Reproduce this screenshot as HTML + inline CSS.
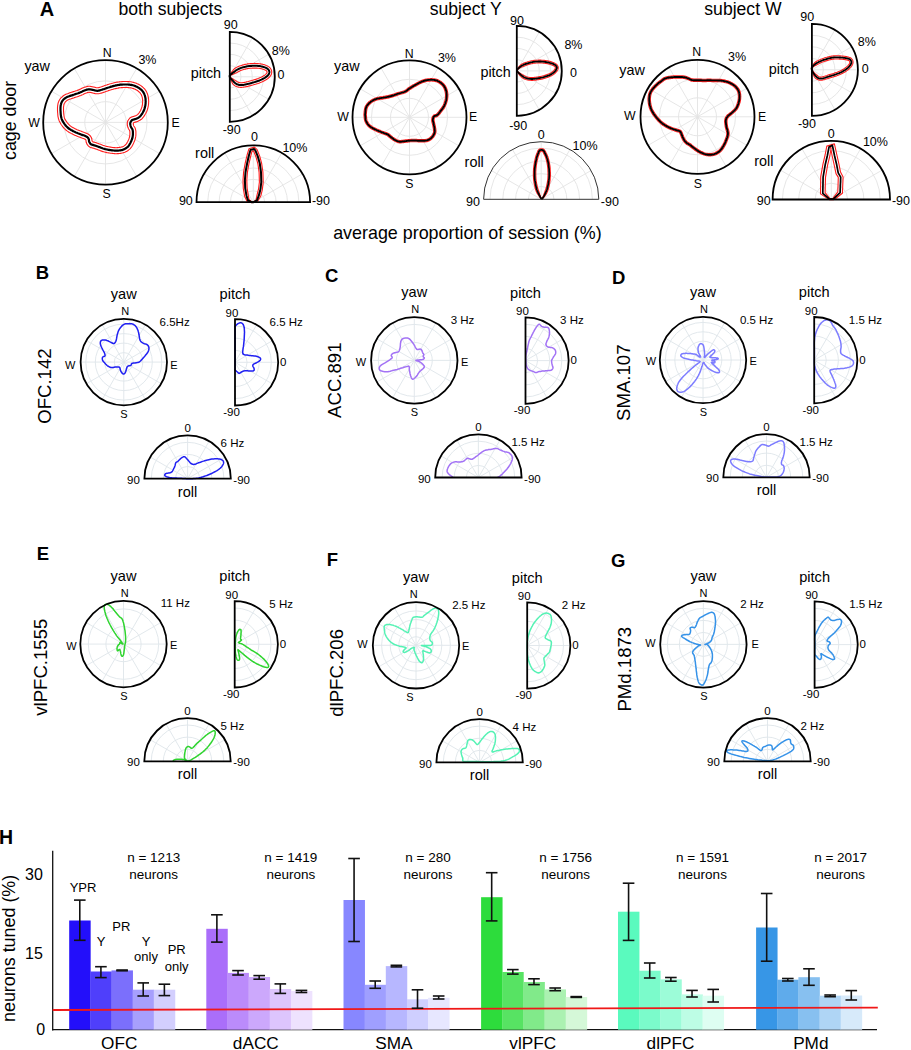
<!DOCTYPE html>
<html><head><meta charset="utf-8"><style>
html,body{margin:0;padding:0;background:#fff;width:911px;height:1050px;overflow:hidden}
svg{display:block;font-family:"Liberation Sans", sans-serif}
</style></head><body>
<svg width="911" height="1050" viewBox="0 0 911 1050">
<rect width="911" height="1050" fill="#fff"/>
<text x="39.8" y="15.6" font-size="20" text-anchor="start" font-weight="bold" fill="#000">A</text>
<text x="118.5" y="15.0" font-size="17.6" text-anchor="start" font-weight="normal" fill="#000">both subjects</text>
<text x="429.7" y="14.8" font-size="17.6" text-anchor="start" font-weight="normal" fill="#000">subject Y</text>
<text x="704.3" y="14.8" font-size="17.6" text-anchor="start" font-weight="normal" fill="#000">subject W</text>
<text x="16.0" y="120.4" font-size="17.8" text-anchor="middle" font-weight="normal" fill="#000" transform="rotate(-90 16 120.4)">cage door</text>
<text x="467.4" y="239.0" font-size="17.9" text-anchor="middle" font-weight="normal" fill="#000">average proportion of session (%)</text>
<circle cx="105.5" cy="122.4" r="20.77" fill="none" stroke="#e3e3e3" stroke-width="0.9"/>
<circle cx="105.5" cy="122.4" r="41.53" fill="none" stroke="#e3e3e3" stroke-width="0.9"/>
<line x1="105.50" y1="122.40" x2="167.80" y2="122.40" stroke="#e3e3e3" stroke-width="0.9"/>
<line x1="105.50" y1="122.40" x2="159.45" y2="153.55" stroke="#e3e3e3" stroke-width="0.9"/>
<line x1="105.50" y1="122.40" x2="136.65" y2="176.35" stroke="#e3e3e3" stroke-width="0.9"/>
<line x1="105.50" y1="122.40" x2="105.50" y2="184.70" stroke="#e3e3e3" stroke-width="0.9"/>
<line x1="105.50" y1="122.40" x2="74.35" y2="176.35" stroke="#e3e3e3" stroke-width="0.9"/>
<line x1="105.50" y1="122.40" x2="51.55" y2="153.55" stroke="#e3e3e3" stroke-width="0.9"/>
<line x1="105.50" y1="122.40" x2="43.20" y2="122.40" stroke="#e3e3e3" stroke-width="0.9"/>
<line x1="105.50" y1="122.40" x2="51.55" y2="91.25" stroke="#e3e3e3" stroke-width="0.9"/>
<line x1="105.50" y1="122.40" x2="74.35" y2="68.45" stroke="#e3e3e3" stroke-width="0.9"/>
<line x1="105.50" y1="122.40" x2="105.50" y2="60.10" stroke="#e3e3e3" stroke-width="0.9"/>
<line x1="105.50" y1="122.40" x2="136.65" y2="68.45" stroke="#e3e3e3" stroke-width="0.9"/>
<line x1="105.50" y1="122.40" x2="159.45" y2="91.25" stroke="#e3e3e3" stroke-width="0.9"/>
<text x="107.1" y="56.7" font-size="12.3" text-anchor="middle" font-weight="normal" fill="#000">N</text>
<text x="106.7" y="197.8" font-size="12.3" text-anchor="middle" font-weight="normal" fill="#000">S</text>
<text x="39.8" y="127.3" font-size="12.3" text-anchor="end" font-weight="normal" fill="#000">W</text>
<text x="171.4" y="126.8" font-size="12.3" text-anchor="start" font-weight="normal" fill="#000">E</text>
<text x="138.4" y="64.1" font-size="12.5" text-anchor="start" font-weight="normal" fill="#000">3%</text>
<text x="24.4" y="71.3" font-size="14.4" text-anchor="start" font-weight="normal" fill="#000">yaw</text>
<path d="M229.80,65.55 A11.25,11.25 0 0 1 229.80,88.05" fill="none" stroke="#e3e3e3" stroke-width="0.9"/>
<path d="M229.80,54.30 A22.50,22.50 0 0 1 229.80,99.30" fill="none" stroke="#e3e3e3" stroke-width="0.9"/>
<path d="M229.80,43.05 A33.75,33.75 0 0 1 229.80,110.55" fill="none" stroke="#e3e3e3" stroke-width="0.9"/>
<line x1="229.80" y1="76.80" x2="252.30" y2="37.83" stroke="#e3e3e3" stroke-width="0.9"/>
<line x1="229.80" y1="76.80" x2="268.77" y2="54.30" stroke="#e3e3e3" stroke-width="0.9"/>
<line x1="229.80" y1="76.80" x2="274.80" y2="76.80" stroke="#e3e3e3" stroke-width="0.9"/>
<line x1="229.80" y1="76.80" x2="268.77" y2="99.30" stroke="#e3e3e3" stroke-width="0.9"/>
<line x1="229.80" y1="76.80" x2="252.30" y2="115.77" stroke="#e3e3e3" stroke-width="0.9"/>
<text x="230.7" y="29.2" font-size="12.5" text-anchor="middle" font-weight="normal" fill="#000">90</text>
<text x="231.7" y="134.0" font-size="12.5" text-anchor="middle" font-weight="normal" fill="#000">-90</text>
<text x="277.5" y="79.3" font-size="12.5" text-anchor="start" font-weight="normal" fill="#000">0</text>
<text x="271.8" y="54.5" font-size="12.5" text-anchor="start" font-weight="normal" fill="#000">8%</text>
<text x="221.1" y="78.0" font-size="14.4" text-anchor="end" font-weight="normal" fill="#000">pitch</text>
<path d="M241.90,202.20 A11.40,11.40 0 0 1 264.70,202.20" fill="none" stroke="#e3e3e3" stroke-width="0.9"/>
<path d="M230.50,202.20 A22.80,22.80 0 0 1 276.10,202.20" fill="none" stroke="#e3e3e3" stroke-width="0.9"/>
<path d="M219.10,202.20 A34.20,34.20 0 0 1 287.50,202.20" fill="none" stroke="#e3e3e3" stroke-width="0.9"/>
<path d="M207.70,202.20 A45.60,45.60 0 0 1 298.90,202.20" fill="none" stroke="#e3e3e3" stroke-width="0.9"/>
<line x1="253.30" y1="202.20" x2="204.11" y2="173.80" stroke="#e3e3e3" stroke-width="0.9"/>
<line x1="253.30" y1="202.20" x2="224.90" y2="153.01" stroke="#e3e3e3" stroke-width="0.9"/>
<line x1="253.30" y1="202.20" x2="253.30" y2="145.40" stroke="#e3e3e3" stroke-width="0.9"/>
<line x1="253.30" y1="202.20" x2="281.70" y2="153.01" stroke="#e3e3e3" stroke-width="0.9"/>
<line x1="253.30" y1="202.20" x2="302.49" y2="173.80" stroke="#e3e3e3" stroke-width="0.9"/>
<text x="254.5" y="140.7" font-size="12.5" text-anchor="middle" font-weight="normal" fill="#000">0</text>
<text x="192.8" y="205.2" font-size="12.5" text-anchor="end" font-weight="normal" fill="#000">90</text>
<text x="311.9" y="205.2" font-size="12.5" text-anchor="start" font-weight="normal" fill="#000">-90</text>
<text x="282.4" y="151.6" font-size="12.5" text-anchor="start" font-weight="normal" fill="#000">10%</text>
<text x="195.1" y="158.3" font-size="14.4" text-anchor="start" font-weight="normal" fill="#000">roll</text>
<circle cx="409.5" cy="117.3" r="19.00" fill="none" stroke="#e3e3e3" stroke-width="0.9"/>
<circle cx="409.5" cy="117.3" r="38.00" fill="none" stroke="#e3e3e3" stroke-width="0.9"/>
<line x1="409.50" y1="117.30" x2="466.50" y2="117.30" stroke="#e3e3e3" stroke-width="0.9"/>
<line x1="409.50" y1="117.30" x2="458.86" y2="145.80" stroke="#e3e3e3" stroke-width="0.9"/>
<line x1="409.50" y1="117.30" x2="438.00" y2="166.66" stroke="#e3e3e3" stroke-width="0.9"/>
<line x1="409.50" y1="117.30" x2="409.50" y2="174.30" stroke="#e3e3e3" stroke-width="0.9"/>
<line x1="409.50" y1="117.30" x2="381.00" y2="166.66" stroke="#e3e3e3" stroke-width="0.9"/>
<line x1="409.50" y1="117.30" x2="360.14" y2="145.80" stroke="#e3e3e3" stroke-width="0.9"/>
<line x1="409.50" y1="117.30" x2="352.50" y2="117.30" stroke="#e3e3e3" stroke-width="0.9"/>
<line x1="409.50" y1="117.30" x2="360.14" y2="88.80" stroke="#e3e3e3" stroke-width="0.9"/>
<line x1="409.50" y1="117.30" x2="381.00" y2="67.94" stroke="#e3e3e3" stroke-width="0.9"/>
<line x1="409.50" y1="117.30" x2="409.50" y2="60.30" stroke="#e3e3e3" stroke-width="0.9"/>
<line x1="409.50" y1="117.30" x2="438.00" y2="67.94" stroke="#e3e3e3" stroke-width="0.9"/>
<line x1="409.50" y1="117.30" x2="458.86" y2="88.80" stroke="#e3e3e3" stroke-width="0.9"/>
<text x="409.2" y="57.8" font-size="12.3" text-anchor="middle" font-weight="normal" fill="#000">N</text>
<text x="409.4" y="187.5" font-size="12.3" text-anchor="middle" font-weight="normal" fill="#000">S</text>
<text x="348.8" y="120.7" font-size="12.3" text-anchor="end" font-weight="normal" fill="#000">W</text>
<text x="469.0" y="120.8" font-size="12.3" text-anchor="start" font-weight="normal" fill="#000">E</text>
<text x="437.9" y="62.0" font-size="12.5" text-anchor="start" font-weight="normal" fill="#000">3%</text>
<text x="334.1" y="70.5" font-size="14.4" text-anchor="start" font-weight="normal" fill="#000">yaw</text>
<path d="M516.80,59.65 A11.25,11.25 0 0 1 516.80,82.15" fill="none" stroke="#e3e3e3" stroke-width="0.9"/>
<path d="M516.80,48.40 A22.50,22.50 0 0 1 516.80,93.40" fill="none" stroke="#e3e3e3" stroke-width="0.9"/>
<path d="M516.80,37.15 A33.75,33.75 0 0 1 516.80,104.65" fill="none" stroke="#e3e3e3" stroke-width="0.9"/>
<line x1="516.80" y1="70.90" x2="539.30" y2="31.93" stroke="#e3e3e3" stroke-width="0.9"/>
<line x1="516.80" y1="70.90" x2="555.77" y2="48.40" stroke="#e3e3e3" stroke-width="0.9"/>
<line x1="516.80" y1="70.90" x2="561.80" y2="70.90" stroke="#e3e3e3" stroke-width="0.9"/>
<line x1="516.80" y1="70.90" x2="555.77" y2="93.40" stroke="#e3e3e3" stroke-width="0.9"/>
<line x1="516.80" y1="70.90" x2="539.30" y2="109.87" stroke="#e3e3e3" stroke-width="0.9"/>
<text x="517.0" y="25.3" font-size="12.5" text-anchor="middle" font-weight="normal" fill="#000">90</text>
<text x="518.2" y="129.6" font-size="12.5" text-anchor="middle" font-weight="normal" fill="#000">-90</text>
<text x="570.1" y="76.5" font-size="12.5" text-anchor="start" font-weight="normal" fill="#000">0</text>
<text x="564.4" y="48.8" font-size="12.5" text-anchor="start" font-weight="normal" fill="#000">8%</text>
<text x="510.8" y="77.2" font-size="14.4" text-anchor="end" font-weight="normal" fill="#000">pitch</text>
<path d="M528.40,199.30 A12.80,12.80 0 0 1 554.00,199.30" fill="none" stroke="#e3e3e3" stroke-width="0.9"/>
<path d="M515.60,199.30 A25.60,25.60 0 0 1 566.80,199.30" fill="none" stroke="#e3e3e3" stroke-width="0.9"/>
<path d="M502.80,199.30 A38.40,38.40 0 0 1 579.60,199.30" fill="none" stroke="#e3e3e3" stroke-width="0.9"/>
<path d="M490.00,199.30 A51.20,51.20 0 0 1 592.40,199.30" fill="none" stroke="#e3e3e3" stroke-width="0.9"/>
<line x1="541.20" y1="199.30" x2="491.32" y2="170.50" stroke="#e3e3e3" stroke-width="0.9"/>
<line x1="541.20" y1="199.30" x2="512.40" y2="149.42" stroke="#e3e3e3" stroke-width="0.9"/>
<line x1="541.20" y1="199.30" x2="541.20" y2="141.70" stroke="#e3e3e3" stroke-width="0.9"/>
<line x1="541.20" y1="199.30" x2="570.00" y2="149.42" stroke="#e3e3e3" stroke-width="0.9"/>
<line x1="541.20" y1="199.30" x2="591.08" y2="170.50" stroke="#e3e3e3" stroke-width="0.9"/>
<text x="541.2" y="138.7" font-size="12.5" text-anchor="middle" font-weight="normal" fill="#000">0</text>
<text x="479.9" y="205.8" font-size="12.5" text-anchor="end" font-weight="normal" fill="#000">90</text>
<text x="600.8" y="205.8" font-size="12.5" text-anchor="start" font-weight="normal" fill="#000">-90</text>
<text x="572.6" y="149.5" font-size="12.5" text-anchor="start" font-weight="normal" fill="#000">10%</text>
<text x="464.6" y="166.6" font-size="14.4" text-anchor="start" font-weight="normal" fill="#000">roll</text>
<circle cx="697.5" cy="116.8" r="19.00" fill="none" stroke="#e3e3e3" stroke-width="0.9"/>
<circle cx="697.5" cy="116.8" r="38.00" fill="none" stroke="#e3e3e3" stroke-width="0.9"/>
<line x1="697.50" y1="116.80" x2="754.50" y2="116.80" stroke="#e3e3e3" stroke-width="0.9"/>
<line x1="697.50" y1="116.80" x2="746.86" y2="145.30" stroke="#e3e3e3" stroke-width="0.9"/>
<line x1="697.50" y1="116.80" x2="726.00" y2="166.16" stroke="#e3e3e3" stroke-width="0.9"/>
<line x1="697.50" y1="116.80" x2="697.50" y2="173.80" stroke="#e3e3e3" stroke-width="0.9"/>
<line x1="697.50" y1="116.80" x2="669.00" y2="166.16" stroke="#e3e3e3" stroke-width="0.9"/>
<line x1="697.50" y1="116.80" x2="648.14" y2="145.30" stroke="#e3e3e3" stroke-width="0.9"/>
<line x1="697.50" y1="116.80" x2="640.50" y2="116.80" stroke="#e3e3e3" stroke-width="0.9"/>
<line x1="697.50" y1="116.80" x2="648.14" y2="88.30" stroke="#e3e3e3" stroke-width="0.9"/>
<line x1="697.50" y1="116.80" x2="669.00" y2="67.44" stroke="#e3e3e3" stroke-width="0.9"/>
<line x1="697.50" y1="116.80" x2="697.50" y2="59.80" stroke="#e3e3e3" stroke-width="0.9"/>
<line x1="697.50" y1="116.80" x2="726.00" y2="67.44" stroke="#e3e3e3" stroke-width="0.9"/>
<line x1="697.50" y1="116.80" x2="746.86" y2="88.30" stroke="#e3e3e3" stroke-width="0.9"/>
<text x="696.8" y="56.2" font-size="12.3" text-anchor="middle" font-weight="normal" fill="#000">N</text>
<text x="697.8" y="187.8" font-size="12.3" text-anchor="middle" font-weight="normal" fill="#000">S</text>
<text x="635.5" y="119.9" font-size="12.3" text-anchor="end" font-weight="normal" fill="#000">W</text>
<text x="758.0" y="121.1" font-size="12.3" text-anchor="start" font-weight="normal" fill="#000">E</text>
<text x="728.0" y="60.8" font-size="12.5" text-anchor="start" font-weight="normal" fill="#000">3%</text>
<text x="619.3" y="74.9" font-size="14.4" text-anchor="start" font-weight="normal" fill="#000">yaw</text>
<path d="M811.90,58.30 A11.50,11.50 0 0 1 811.90,81.30" fill="none" stroke="#e3e3e3" stroke-width="0.9"/>
<path d="M811.90,46.80 A23.00,23.00 0 0 1 811.90,92.80" fill="none" stroke="#e3e3e3" stroke-width="0.9"/>
<path d="M811.90,35.30 A34.50,34.50 0 0 1 811.90,104.30" fill="none" stroke="#e3e3e3" stroke-width="0.9"/>
<line x1="811.90" y1="69.80" x2="834.90" y2="29.96" stroke="#e3e3e3" stroke-width="0.9"/>
<line x1="811.90" y1="69.80" x2="851.74" y2="46.80" stroke="#e3e3e3" stroke-width="0.9"/>
<line x1="811.90" y1="69.80" x2="857.90" y2="69.80" stroke="#e3e3e3" stroke-width="0.9"/>
<line x1="811.90" y1="69.80" x2="851.74" y2="92.80" stroke="#e3e3e3" stroke-width="0.9"/>
<line x1="811.90" y1="69.80" x2="834.90" y2="109.64" stroke="#e3e3e3" stroke-width="0.9"/>
<text x="807.2" y="20.9" font-size="12.5" text-anchor="middle" font-weight="normal" fill="#000">90</text>
<text x="807.0" y="127.6" font-size="12.5" text-anchor="middle" font-weight="normal" fill="#000">-90</text>
<text x="861.7" y="73.3" font-size="12.5" text-anchor="start" font-weight="normal" fill="#000">0</text>
<text x="857.8" y="46.0" font-size="12.5" text-anchor="start" font-weight="normal" fill="#000">8%</text>
<text x="799.1" y="73.9" font-size="14.4" text-anchor="end" font-weight="normal" fill="#000">pitch</text>
<path d="M815.00,199.50 A16.30,16.30 0 0 1 847.60,199.50" fill="none" stroke="#e3e3e3" stroke-width="0.9"/>
<path d="M798.70,199.50 A32.60,32.60 0 0 1 863.90,199.50" fill="none" stroke="#e3e3e3" stroke-width="0.9"/>
<path d="M782.40,199.50 A48.90,48.90 0 0 1 880.20,199.50" fill="none" stroke="#e3e3e3" stroke-width="0.9"/>
<line x1="831.30" y1="199.50" x2="780.46" y2="170.15" stroke="#e3e3e3" stroke-width="0.9"/>
<line x1="831.30" y1="199.50" x2="801.95" y2="148.66" stroke="#e3e3e3" stroke-width="0.9"/>
<line x1="831.30" y1="199.50" x2="831.30" y2="140.80" stroke="#e3e3e3" stroke-width="0.9"/>
<line x1="831.30" y1="199.50" x2="860.65" y2="148.66" stroke="#e3e3e3" stroke-width="0.9"/>
<line x1="831.30" y1="199.50" x2="882.14" y2="170.15" stroke="#e3e3e3" stroke-width="0.9"/>
<text x="831.3" y="137.9" font-size="12.5" text-anchor="middle" font-weight="normal" fill="#000">0</text>
<text x="770.7" y="204.8" font-size="12.5" text-anchor="end" font-weight="normal" fill="#000">90</text>
<text x="891.9" y="204.8" font-size="12.5" text-anchor="start" font-weight="normal" fill="#000">-90</text>
<text x="862.9" y="146.1" font-size="12.5" text-anchor="start" font-weight="normal" fill="#000">10%</text>
<text x="754.3" y="165.6" font-size="14.4" text-anchor="start" font-weight="normal" fill="#000">roll</text>
<text x="35.8" y="279.3" font-size="18.5" text-anchor="start" font-weight="bold" fill="#000">B</text>
<text x="50.8" y="386.1" font-size="18.6" text-anchor="middle" font-weight="normal" fill="#000" transform="rotate(-90 50.8 386.1)">OFC.142</text>
<circle cx="123.8" cy="362.1" r="9.50" fill="none" stroke="#dfe5ea" stroke-width="0.9"/>
<circle cx="123.8" cy="362.1" r="19.00" fill="none" stroke="#dfe5ea" stroke-width="0.9"/>
<circle cx="123.8" cy="362.1" r="28.50" fill="none" stroke="#dfe5ea" stroke-width="0.9"/>
<circle cx="123.8" cy="362.1" r="38.00" fill="none" stroke="#dfe5ea" stroke-width="0.9"/>
<line x1="123.80" y1="362.10" x2="167.00" y2="362.10" stroke="#dfe5ea" stroke-width="0.9"/>
<line x1="123.80" y1="362.10" x2="161.21" y2="383.70" stroke="#dfe5ea" stroke-width="0.9"/>
<line x1="123.80" y1="362.10" x2="145.40" y2="399.51" stroke="#dfe5ea" stroke-width="0.9"/>
<line x1="123.80" y1="362.10" x2="123.80" y2="405.30" stroke="#dfe5ea" stroke-width="0.9"/>
<line x1="123.80" y1="362.10" x2="102.20" y2="399.51" stroke="#dfe5ea" stroke-width="0.9"/>
<line x1="123.80" y1="362.10" x2="86.39" y2="383.70" stroke="#dfe5ea" stroke-width="0.9"/>
<line x1="123.80" y1="362.10" x2="80.60" y2="362.10" stroke="#dfe5ea" stroke-width="0.9"/>
<line x1="123.80" y1="362.10" x2="86.39" y2="340.50" stroke="#dfe5ea" stroke-width="0.9"/>
<line x1="123.80" y1="362.10" x2="102.20" y2="324.69" stroke="#dfe5ea" stroke-width="0.9"/>
<line x1="123.80" y1="362.10" x2="123.80" y2="318.90" stroke="#dfe5ea" stroke-width="0.9"/>
<line x1="123.80" y1="362.10" x2="145.40" y2="324.69" stroke="#dfe5ea" stroke-width="0.9"/>
<line x1="123.80" y1="362.10" x2="161.21" y2="340.50" stroke="#dfe5ea" stroke-width="0.9"/>
<text x="123.8" y="298.8" font-size="14.6" text-anchor="middle" font-weight="normal" fill="#000">yaw</text>
<text x="125.3" y="315.0" font-size="11" text-anchor="middle" font-weight="normal" fill="#000">N</text>
<text x="123.8" y="417.5" font-size="11" text-anchor="middle" font-weight="normal" fill="#000">S</text>
<text x="75.4" y="369.1" font-size="11" text-anchor="end" font-weight="normal" fill="#000">W</text>
<text x="170.3" y="369.1" font-size="11" text-anchor="start" font-weight="normal" fill="#000">E</text>
<text x="159.6" y="325.8" font-size="11.5" text-anchor="start" font-weight="normal" fill="#000">6.5Hz</text>
<path d="M235.00,350.20 A12.10,12.10 0 0 1 235.00,374.40" fill="none" stroke="#dfe5ea" stroke-width="0.9"/>
<path d="M235.00,338.10 A24.20,24.20 0 0 1 235.00,386.50" fill="none" stroke="#dfe5ea" stroke-width="0.9"/>
<path d="M235.00,326.00 A36.30,36.30 0 0 1 235.00,398.60" fill="none" stroke="#dfe5ea" stroke-width="0.9"/>
<line x1="235.00" y1="362.30" x2="256.60" y2="324.89" stroke="#dfe5ea" stroke-width="0.9"/>
<line x1="235.00" y1="362.30" x2="272.41" y2="340.70" stroke="#dfe5ea" stroke-width="0.9"/>
<line x1="235.00" y1="362.30" x2="278.20" y2="362.30" stroke="#dfe5ea" stroke-width="0.9"/>
<line x1="235.00" y1="362.30" x2="272.41" y2="383.90" stroke="#dfe5ea" stroke-width="0.9"/>
<line x1="235.00" y1="362.30" x2="256.60" y2="399.71" stroke="#dfe5ea" stroke-width="0.9"/>
<text x="235.0" y="299.3" font-size="14.6" text-anchor="middle" font-weight="normal" fill="#000">pitch</text>
<text x="232.0" y="317.0" font-size="11.5" text-anchor="middle" font-weight="normal" fill="#000">90</text>
<text x="231.5" y="416.0" font-size="11.5" text-anchor="middle" font-weight="normal" fill="#000">-90</text>
<text x="280.0" y="366.0" font-size="11.5" text-anchor="start" font-weight="normal" fill="#000">0</text>
<text x="269.6" y="325.6" font-size="11.5" text-anchor="start" font-weight="normal" fill="#000">6.5 Hz</text>
<path d="M175.50,478.60 A12.10,12.10 0 0 1 199.70,478.60" fill="none" stroke="#dfe5ea" stroke-width="0.9"/>
<path d="M163.40,478.60 A24.20,24.20 0 0 1 211.80,478.60" fill="none" stroke="#dfe5ea" stroke-width="0.9"/>
<path d="M151.30,478.60 A36.30,36.30 0 0 1 223.90,478.60" fill="none" stroke="#dfe5ea" stroke-width="0.9"/>
<line x1="187.60" y1="478.60" x2="150.19" y2="457.00" stroke="#dfe5ea" stroke-width="0.9"/>
<line x1="187.60" y1="478.60" x2="166.00" y2="441.19" stroke="#dfe5ea" stroke-width="0.9"/>
<line x1="187.60" y1="478.60" x2="187.60" y2="435.40" stroke="#dfe5ea" stroke-width="0.9"/>
<line x1="187.60" y1="478.60" x2="209.20" y2="441.19" stroke="#dfe5ea" stroke-width="0.9"/>
<line x1="187.60" y1="478.60" x2="225.01" y2="457.00" stroke="#dfe5ea" stroke-width="0.9"/>
<text x="187.6" y="431.9" font-size="11.5" text-anchor="middle" font-weight="normal" fill="#000">0</text>
<text x="220.6" y="446.8" font-size="11.5" text-anchor="start" font-weight="normal" fill="#000">6 Hz</text>
<text x="139.9" y="483.7" font-size="11.5" text-anchor="end" font-weight="normal" fill="#000">90</text>
<text x="233.3" y="483.7" font-size="11.5" text-anchor="start" font-weight="normal" fill="#000">-90</text>
<text x="187.6" y="496.6" font-size="14.6" text-anchor="middle" font-weight="normal" fill="#000">roll</text>
<text x="325.1" y="281.5" font-size="18.5" text-anchor="start" font-weight="bold" fill="#000">C</text>
<text x="340.6" y="380.2" font-size="18.6" text-anchor="middle" font-weight="normal" fill="#000" transform="rotate(-90 340.6 380.2)">ACC.891</text>
<circle cx="414.3" cy="360.4" r="18.00" fill="none" stroke="#dfe5ea" stroke-width="0.9"/>
<circle cx="414.3" cy="360.4" r="36.00" fill="none" stroke="#dfe5ea" stroke-width="0.9"/>
<line x1="414.30" y1="360.40" x2="457.50" y2="360.40" stroke="#dfe5ea" stroke-width="0.9"/>
<line x1="414.30" y1="360.40" x2="451.71" y2="382.00" stroke="#dfe5ea" stroke-width="0.9"/>
<line x1="414.30" y1="360.40" x2="435.90" y2="397.81" stroke="#dfe5ea" stroke-width="0.9"/>
<line x1="414.30" y1="360.40" x2="414.30" y2="403.60" stroke="#dfe5ea" stroke-width="0.9"/>
<line x1="414.30" y1="360.40" x2="392.70" y2="397.81" stroke="#dfe5ea" stroke-width="0.9"/>
<line x1="414.30" y1="360.40" x2="376.89" y2="382.00" stroke="#dfe5ea" stroke-width="0.9"/>
<line x1="414.30" y1="360.40" x2="371.10" y2="360.40" stroke="#dfe5ea" stroke-width="0.9"/>
<line x1="414.30" y1="360.40" x2="376.89" y2="338.80" stroke="#dfe5ea" stroke-width="0.9"/>
<line x1="414.30" y1="360.40" x2="392.70" y2="322.99" stroke="#dfe5ea" stroke-width="0.9"/>
<line x1="414.30" y1="360.40" x2="414.30" y2="317.20" stroke="#dfe5ea" stroke-width="0.9"/>
<line x1="414.30" y1="360.40" x2="435.90" y2="322.99" stroke="#dfe5ea" stroke-width="0.9"/>
<line x1="414.30" y1="360.40" x2="451.71" y2="338.80" stroke="#dfe5ea" stroke-width="0.9"/>
<text x="414.3" y="297.1" font-size="14.6" text-anchor="middle" font-weight="normal" fill="#000">yaw</text>
<text x="415.3" y="313.0" font-size="11" text-anchor="middle" font-weight="normal" fill="#000">N</text>
<text x="414.5" y="416.0" font-size="11" text-anchor="middle" font-weight="normal" fill="#000">S</text>
<text x="366.1" y="366.0" font-size="11" text-anchor="end" font-weight="normal" fill="#000">W</text>
<text x="461.0" y="366.0" font-size="11" text-anchor="start" font-weight="normal" fill="#000">E</text>
<text x="450.7" y="323.8" font-size="11.5" text-anchor="start" font-weight="normal" fill="#000">3 Hz</text>
<path d="M525.50,348.50 A12.10,12.10 0 0 1 525.50,372.70" fill="none" stroke="#dfe5ea" stroke-width="0.9"/>
<path d="M525.50,336.40 A24.20,24.20 0 0 1 525.50,384.80" fill="none" stroke="#dfe5ea" stroke-width="0.9"/>
<path d="M525.50,324.30 A36.30,36.30 0 0 1 525.50,396.90" fill="none" stroke="#dfe5ea" stroke-width="0.9"/>
<line x1="525.50" y1="360.60" x2="547.10" y2="323.19" stroke="#dfe5ea" stroke-width="0.9"/>
<line x1="525.50" y1="360.60" x2="562.91" y2="339.00" stroke="#dfe5ea" stroke-width="0.9"/>
<line x1="525.50" y1="360.60" x2="568.70" y2="360.60" stroke="#dfe5ea" stroke-width="0.9"/>
<line x1="525.50" y1="360.60" x2="562.91" y2="382.20" stroke="#dfe5ea" stroke-width="0.9"/>
<line x1="525.50" y1="360.60" x2="547.10" y2="398.01" stroke="#dfe5ea" stroke-width="0.9"/>
<text x="525.5" y="297.6" font-size="14.6" text-anchor="middle" font-weight="normal" fill="#000">pitch</text>
<text x="522.5" y="315.3" font-size="11.5" text-anchor="middle" font-weight="normal" fill="#000">90</text>
<text x="522.0" y="414.3" font-size="11.5" text-anchor="middle" font-weight="normal" fill="#000">-90</text>
<text x="570.5" y="364.3" font-size="11.5" text-anchor="start" font-weight="normal" fill="#000">0</text>
<text x="560.1" y="323.9" font-size="11.5" text-anchor="start" font-weight="normal" fill="#000">3 Hz</text>
<path d="M466.30,477.50 A12.10,12.10 0 0 1 490.50,477.50" fill="none" stroke="#dfe5ea" stroke-width="0.9"/>
<path d="M454.20,477.50 A24.20,24.20 0 0 1 502.60,477.50" fill="none" stroke="#dfe5ea" stroke-width="0.9"/>
<path d="M442.10,477.50 A36.30,36.30 0 0 1 514.70,477.50" fill="none" stroke="#dfe5ea" stroke-width="0.9"/>
<line x1="478.40" y1="477.50" x2="440.99" y2="455.90" stroke="#dfe5ea" stroke-width="0.9"/>
<line x1="478.40" y1="477.50" x2="456.80" y2="440.09" stroke="#dfe5ea" stroke-width="0.9"/>
<line x1="478.40" y1="477.50" x2="478.40" y2="434.30" stroke="#dfe5ea" stroke-width="0.9"/>
<line x1="478.40" y1="477.50" x2="500.00" y2="440.09" stroke="#dfe5ea" stroke-width="0.9"/>
<line x1="478.40" y1="477.50" x2="515.81" y2="455.90" stroke="#dfe5ea" stroke-width="0.9"/>
<text x="478.4" y="430.8" font-size="11.5" text-anchor="middle" font-weight="normal" fill="#000">0</text>
<text x="511.4" y="445.7" font-size="11.5" text-anchor="start" font-weight="normal" fill="#000">1.5 Hz</text>
<text x="430.7" y="482.6" font-size="11.5" text-anchor="end" font-weight="normal" fill="#000">90</text>
<text x="524.1" y="482.6" font-size="11.5" text-anchor="start" font-weight="normal" fill="#000">-90</text>
<text x="612.0" y="284.0" font-size="18.5" text-anchor="start" font-weight="bold" fill="#000">D</text>
<text x="630.0" y="382.7" font-size="18.6" text-anchor="middle" font-weight="normal" fill="#000" transform="rotate(-90 630.0 382.7)">SMA.107</text>
<circle cx="703.0" cy="360.0" r="9.40" fill="none" stroke="#dfe5ea" stroke-width="0.9"/>
<circle cx="703.0" cy="360.0" r="18.80" fill="none" stroke="#dfe5ea" stroke-width="0.9"/>
<circle cx="703.0" cy="360.0" r="28.20" fill="none" stroke="#dfe5ea" stroke-width="0.9"/>
<circle cx="703.0" cy="360.0" r="37.60" fill="none" stroke="#dfe5ea" stroke-width="0.9"/>
<line x1="703.00" y1="360.00" x2="746.20" y2="360.00" stroke="#dfe5ea" stroke-width="0.9"/>
<line x1="703.00" y1="360.00" x2="740.41" y2="381.60" stroke="#dfe5ea" stroke-width="0.9"/>
<line x1="703.00" y1="360.00" x2="724.60" y2="397.41" stroke="#dfe5ea" stroke-width="0.9"/>
<line x1="703.00" y1="360.00" x2="703.00" y2="403.20" stroke="#dfe5ea" stroke-width="0.9"/>
<line x1="703.00" y1="360.00" x2="681.40" y2="397.41" stroke="#dfe5ea" stroke-width="0.9"/>
<line x1="703.00" y1="360.00" x2="665.59" y2="381.60" stroke="#dfe5ea" stroke-width="0.9"/>
<line x1="703.00" y1="360.00" x2="659.80" y2="360.00" stroke="#dfe5ea" stroke-width="0.9"/>
<line x1="703.00" y1="360.00" x2="665.59" y2="338.40" stroke="#dfe5ea" stroke-width="0.9"/>
<line x1="703.00" y1="360.00" x2="681.40" y2="322.59" stroke="#dfe5ea" stroke-width="0.9"/>
<line x1="703.00" y1="360.00" x2="703.00" y2="316.80" stroke="#dfe5ea" stroke-width="0.9"/>
<line x1="703.00" y1="360.00" x2="724.60" y2="322.59" stroke="#dfe5ea" stroke-width="0.9"/>
<line x1="703.00" y1="360.00" x2="740.41" y2="338.40" stroke="#dfe5ea" stroke-width="0.9"/>
<text x="703.0" y="296.7" font-size="14.6" text-anchor="middle" font-weight="normal" fill="#000">yaw</text>
<text x="704.1" y="312.6" font-size="11" text-anchor="middle" font-weight="normal" fill="#000">N</text>
<text x="703.4" y="416.0" font-size="11" text-anchor="middle" font-weight="normal" fill="#000">S</text>
<text x="656.1" y="364.5" font-size="11" text-anchor="end" font-weight="normal" fill="#000">W</text>
<text x="749.4" y="364.5" font-size="11" text-anchor="start" font-weight="normal" fill="#000">E</text>
<text x="739.9" y="323.5" font-size="11.5" text-anchor="start" font-weight="normal" fill="#000">0.5 Hz</text>
<path d="M814.20,348.10 A12.10,12.10 0 0 1 814.20,372.30" fill="none" stroke="#dfe5ea" stroke-width="0.9"/>
<path d="M814.20,336.00 A24.20,24.20 0 0 1 814.20,384.40" fill="none" stroke="#dfe5ea" stroke-width="0.9"/>
<path d="M814.20,323.90 A36.30,36.30 0 0 1 814.20,396.50" fill="none" stroke="#dfe5ea" stroke-width="0.9"/>
<line x1="814.20" y1="360.20" x2="835.80" y2="322.79" stroke="#dfe5ea" stroke-width="0.9"/>
<line x1="814.20" y1="360.20" x2="851.61" y2="338.60" stroke="#dfe5ea" stroke-width="0.9"/>
<line x1="814.20" y1="360.20" x2="857.40" y2="360.20" stroke="#dfe5ea" stroke-width="0.9"/>
<line x1="814.20" y1="360.20" x2="851.61" y2="381.80" stroke="#dfe5ea" stroke-width="0.9"/>
<line x1="814.20" y1="360.20" x2="835.80" y2="397.61" stroke="#dfe5ea" stroke-width="0.9"/>
<text x="814.2" y="297.2" font-size="14.6" text-anchor="middle" font-weight="normal" fill="#000">pitch</text>
<text x="811.2" y="314.9" font-size="11.5" text-anchor="middle" font-weight="normal" fill="#000">90</text>
<text x="810.7" y="413.9" font-size="11.5" text-anchor="middle" font-weight="normal" fill="#000">-90</text>
<text x="859.2" y="363.9" font-size="11.5" text-anchor="start" font-weight="normal" fill="#000">0</text>
<text x="848.8" y="323.5" font-size="11.5" text-anchor="start" font-weight="normal" fill="#000">1.5 Hz</text>
<path d="M754.40,477.30 A12.10,12.10 0 0 1 778.60,477.30" fill="none" stroke="#dfe5ea" stroke-width="0.9"/>
<path d="M742.30,477.30 A24.20,24.20 0 0 1 790.70,477.30" fill="none" stroke="#dfe5ea" stroke-width="0.9"/>
<path d="M730.20,477.30 A36.30,36.30 0 0 1 802.80,477.30" fill="none" stroke="#dfe5ea" stroke-width="0.9"/>
<line x1="766.50" y1="477.30" x2="729.09" y2="455.70" stroke="#dfe5ea" stroke-width="0.9"/>
<line x1="766.50" y1="477.30" x2="744.90" y2="439.89" stroke="#dfe5ea" stroke-width="0.9"/>
<line x1="766.50" y1="477.30" x2="766.50" y2="434.10" stroke="#dfe5ea" stroke-width="0.9"/>
<line x1="766.50" y1="477.30" x2="788.10" y2="439.89" stroke="#dfe5ea" stroke-width="0.9"/>
<line x1="766.50" y1="477.30" x2="803.91" y2="455.70" stroke="#dfe5ea" stroke-width="0.9"/>
<text x="766.5" y="430.6" font-size="11.5" text-anchor="middle" font-weight="normal" fill="#000">0</text>
<text x="799.5" y="445.5" font-size="11.5" text-anchor="start" font-weight="normal" fill="#000">1.5 Hz</text>
<text x="718.8" y="482.4" font-size="11.5" text-anchor="end" font-weight="normal" fill="#000">90</text>
<text x="812.2" y="482.4" font-size="11.5" text-anchor="start" font-weight="normal" fill="#000">-90</text>
<text x="766.5" y="495.3" font-size="14.6" text-anchor="middle" font-weight="normal" fill="#000">roll</text>
<text x="36.8" y="560.4" font-size="18.5" text-anchor="start" font-weight="bold" fill="#000">E</text>
<text x="47.5" y="667.2" font-size="18.6" text-anchor="middle" font-weight="normal" fill="#000" transform="rotate(-90 47.5 667.2)">vlPFC.1555</text>
<circle cx="123.5" cy="644.1" r="17.60" fill="none" stroke="#dfe5ea" stroke-width="0.9"/>
<circle cx="123.5" cy="644.1" r="35.20" fill="none" stroke="#dfe5ea" stroke-width="0.9"/>
<line x1="123.50" y1="644.10" x2="166.70" y2="644.10" stroke="#dfe5ea" stroke-width="0.9"/>
<line x1="123.50" y1="644.10" x2="160.91" y2="665.70" stroke="#dfe5ea" stroke-width="0.9"/>
<line x1="123.50" y1="644.10" x2="145.10" y2="681.51" stroke="#dfe5ea" stroke-width="0.9"/>
<line x1="123.50" y1="644.10" x2="123.50" y2="687.30" stroke="#dfe5ea" stroke-width="0.9"/>
<line x1="123.50" y1="644.10" x2="101.90" y2="681.51" stroke="#dfe5ea" stroke-width="0.9"/>
<line x1="123.50" y1="644.10" x2="86.09" y2="665.70" stroke="#dfe5ea" stroke-width="0.9"/>
<line x1="123.50" y1="644.10" x2="80.30" y2="644.10" stroke="#dfe5ea" stroke-width="0.9"/>
<line x1="123.50" y1="644.10" x2="86.09" y2="622.50" stroke="#dfe5ea" stroke-width="0.9"/>
<line x1="123.50" y1="644.10" x2="101.90" y2="606.69" stroke="#dfe5ea" stroke-width="0.9"/>
<line x1="123.50" y1="644.10" x2="123.50" y2="600.90" stroke="#dfe5ea" stroke-width="0.9"/>
<line x1="123.50" y1="644.10" x2="145.10" y2="606.69" stroke="#dfe5ea" stroke-width="0.9"/>
<line x1="123.50" y1="644.10" x2="160.91" y2="622.50" stroke="#dfe5ea" stroke-width="0.9"/>
<text x="123.5" y="580.8" font-size="14.6" text-anchor="middle" font-weight="normal" fill="#000">yaw</text>
<text x="124.8" y="597.0" font-size="11" text-anchor="middle" font-weight="normal" fill="#000">N</text>
<text x="123.9" y="699.5" font-size="11" text-anchor="middle" font-weight="normal" fill="#000">S</text>
<text x="76.6" y="649.5" font-size="11" text-anchor="end" font-weight="normal" fill="#000">W</text>
<text x="169.9" y="648.8" font-size="11" text-anchor="start" font-weight="normal" fill="#000">E</text>
<text x="160.7" y="607.3" font-size="11.5" text-anchor="start" font-weight="normal" fill="#000">11 Hz</text>
<path d="M234.70,632.20 A12.10,12.10 0 0 1 234.70,656.40" fill="none" stroke="#dfe5ea" stroke-width="0.9"/>
<path d="M234.70,620.10 A24.20,24.20 0 0 1 234.70,668.50" fill="none" stroke="#dfe5ea" stroke-width="0.9"/>
<path d="M234.70,608.00 A36.30,36.30 0 0 1 234.70,680.60" fill="none" stroke="#dfe5ea" stroke-width="0.9"/>
<line x1="234.70" y1="644.30" x2="256.30" y2="606.89" stroke="#dfe5ea" stroke-width="0.9"/>
<line x1="234.70" y1="644.30" x2="272.11" y2="622.70" stroke="#dfe5ea" stroke-width="0.9"/>
<line x1="234.70" y1="644.30" x2="277.90" y2="644.30" stroke="#dfe5ea" stroke-width="0.9"/>
<line x1="234.70" y1="644.30" x2="272.11" y2="665.90" stroke="#dfe5ea" stroke-width="0.9"/>
<line x1="234.70" y1="644.30" x2="256.30" y2="681.71" stroke="#dfe5ea" stroke-width="0.9"/>
<text x="234.7" y="581.3" font-size="14.6" text-anchor="middle" font-weight="normal" fill="#000">pitch</text>
<text x="231.7" y="599.0" font-size="11.5" text-anchor="middle" font-weight="normal" fill="#000">90</text>
<text x="231.2" y="698.0" font-size="11.5" text-anchor="middle" font-weight="normal" fill="#000">-90</text>
<text x="279.7" y="648.0" font-size="11.5" text-anchor="start" font-weight="normal" fill="#000">0</text>
<text x="269.3" y="607.6" font-size="11.5" text-anchor="start" font-weight="normal" fill="#000">5 Hz</text>
<path d="M175.40,761.30 A12.10,12.10 0 0 1 199.60,761.30" fill="none" stroke="#dfe5ea" stroke-width="0.9"/>
<path d="M163.30,761.30 A24.20,24.20 0 0 1 211.70,761.30" fill="none" stroke="#dfe5ea" stroke-width="0.9"/>
<path d="M151.20,761.30 A36.30,36.30 0 0 1 223.80,761.30" fill="none" stroke="#dfe5ea" stroke-width="0.9"/>
<line x1="187.50" y1="761.30" x2="150.09" y2="739.70" stroke="#dfe5ea" stroke-width="0.9"/>
<line x1="187.50" y1="761.30" x2="165.90" y2="723.89" stroke="#dfe5ea" stroke-width="0.9"/>
<line x1="187.50" y1="761.30" x2="187.50" y2="718.10" stroke="#dfe5ea" stroke-width="0.9"/>
<line x1="187.50" y1="761.30" x2="209.10" y2="723.89" stroke="#dfe5ea" stroke-width="0.9"/>
<line x1="187.50" y1="761.30" x2="224.91" y2="739.70" stroke="#dfe5ea" stroke-width="0.9"/>
<text x="187.5" y="714.6" font-size="11.5" text-anchor="middle" font-weight="normal" fill="#000">0</text>
<text x="220.5" y="729.5" font-size="11.5" text-anchor="start" font-weight="normal" fill="#000">5 Hz</text>
<text x="139.8" y="766.4" font-size="11.5" text-anchor="end" font-weight="normal" fill="#000">90</text>
<text x="233.2" y="766.4" font-size="11.5" text-anchor="start" font-weight="normal" fill="#000">-90</text>
<text x="187.5" y="779.3" font-size="14.6" text-anchor="middle" font-weight="normal" fill="#000">roll</text>
<text x="326.8" y="565.5" font-size="18.5" text-anchor="start" font-weight="bold" fill="#000">F</text>
<text x="342.9" y="672.9" font-size="18.6" text-anchor="middle" font-weight="normal" fill="#000" transform="rotate(-90 342.9 672.9)">dlPFC.206</text>
<circle cx="416.0" cy="645.3" r="8.60" fill="none" stroke="#dfe5ea" stroke-width="0.9"/>
<circle cx="416.0" cy="645.3" r="17.20" fill="none" stroke="#dfe5ea" stroke-width="0.9"/>
<circle cx="416.0" cy="645.3" r="25.80" fill="none" stroke="#dfe5ea" stroke-width="0.9"/>
<circle cx="416.0" cy="645.3" r="34.40" fill="none" stroke="#dfe5ea" stroke-width="0.9"/>
<line x1="416.00" y1="645.30" x2="459.20" y2="645.30" stroke="#dfe5ea" stroke-width="0.9"/>
<line x1="416.00" y1="645.30" x2="453.41" y2="666.90" stroke="#dfe5ea" stroke-width="0.9"/>
<line x1="416.00" y1="645.30" x2="437.60" y2="682.71" stroke="#dfe5ea" stroke-width="0.9"/>
<line x1="416.00" y1="645.30" x2="416.00" y2="688.50" stroke="#dfe5ea" stroke-width="0.9"/>
<line x1="416.00" y1="645.30" x2="394.40" y2="682.71" stroke="#dfe5ea" stroke-width="0.9"/>
<line x1="416.00" y1="645.30" x2="378.59" y2="666.90" stroke="#dfe5ea" stroke-width="0.9"/>
<line x1="416.00" y1="645.30" x2="372.80" y2="645.30" stroke="#dfe5ea" stroke-width="0.9"/>
<line x1="416.00" y1="645.30" x2="378.59" y2="623.70" stroke="#dfe5ea" stroke-width="0.9"/>
<line x1="416.00" y1="645.30" x2="394.40" y2="607.89" stroke="#dfe5ea" stroke-width="0.9"/>
<line x1="416.00" y1="645.30" x2="416.00" y2="602.10" stroke="#dfe5ea" stroke-width="0.9"/>
<line x1="416.00" y1="645.30" x2="437.60" y2="607.89" stroke="#dfe5ea" stroke-width="0.9"/>
<line x1="416.00" y1="645.30" x2="453.41" y2="623.70" stroke="#dfe5ea" stroke-width="0.9"/>
<text x="416.0" y="582.0" font-size="14.6" text-anchor="middle" font-weight="normal" fill="#000">yaw</text>
<text x="413.8" y="598.1" font-size="11" text-anchor="middle" font-weight="normal" fill="#000">N</text>
<text x="410.0" y="701.4" font-size="11" text-anchor="middle" font-weight="normal" fill="#000">S</text>
<text x="367.7" y="647.6" font-size="11" text-anchor="end" font-weight="normal" fill="#000">W</text>
<text x="461.9" y="649.5" font-size="11" text-anchor="start" font-weight="normal" fill="#000">E</text>
<text x="452.2" y="608.9" font-size="11.5" text-anchor="start" font-weight="normal" fill="#000">2.5 Hz</text>
<path d="M527.20,633.40 A12.10,12.10 0 0 1 527.20,657.60" fill="none" stroke="#dfe5ea" stroke-width="0.9"/>
<path d="M527.20,621.30 A24.20,24.20 0 0 1 527.20,669.70" fill="none" stroke="#dfe5ea" stroke-width="0.9"/>
<path d="M527.20,609.20 A36.30,36.30 0 0 1 527.20,681.80" fill="none" stroke="#dfe5ea" stroke-width="0.9"/>
<line x1="527.20" y1="645.50" x2="548.80" y2="608.09" stroke="#dfe5ea" stroke-width="0.9"/>
<line x1="527.20" y1="645.50" x2="564.61" y2="623.90" stroke="#dfe5ea" stroke-width="0.9"/>
<line x1="527.20" y1="645.50" x2="570.40" y2="645.50" stroke="#dfe5ea" stroke-width="0.9"/>
<line x1="527.20" y1="645.50" x2="564.61" y2="667.10" stroke="#dfe5ea" stroke-width="0.9"/>
<line x1="527.20" y1="645.50" x2="548.80" y2="682.91" stroke="#dfe5ea" stroke-width="0.9"/>
<text x="527.2" y="582.5" font-size="14.6" text-anchor="middle" font-weight="normal" fill="#000">pitch</text>
<text x="524.2" y="600.2" font-size="11.5" text-anchor="middle" font-weight="normal" fill="#000">90</text>
<text x="523.7" y="699.2" font-size="11.5" text-anchor="middle" font-weight="normal" fill="#000">-90</text>
<text x="572.2" y="649.2" font-size="11.5" text-anchor="start" font-weight="normal" fill="#000">0</text>
<text x="561.8" y="608.8" font-size="11.5" text-anchor="start" font-weight="normal" fill="#000">2 Hz</text>
<path d="M467.50,762.40 A12.10,12.10 0 0 1 491.70,762.40" fill="none" stroke="#dfe5ea" stroke-width="0.9"/>
<path d="M455.40,762.40 A24.20,24.20 0 0 1 503.80,762.40" fill="none" stroke="#dfe5ea" stroke-width="0.9"/>
<path d="M443.30,762.40 A36.30,36.30 0 0 1 515.90,762.40" fill="none" stroke="#dfe5ea" stroke-width="0.9"/>
<line x1="479.60" y1="762.40" x2="442.19" y2="740.80" stroke="#dfe5ea" stroke-width="0.9"/>
<line x1="479.60" y1="762.40" x2="458.00" y2="724.99" stroke="#dfe5ea" stroke-width="0.9"/>
<line x1="479.60" y1="762.40" x2="479.60" y2="719.20" stroke="#dfe5ea" stroke-width="0.9"/>
<line x1="479.60" y1="762.40" x2="501.20" y2="724.99" stroke="#dfe5ea" stroke-width="0.9"/>
<line x1="479.60" y1="762.40" x2="517.01" y2="740.80" stroke="#dfe5ea" stroke-width="0.9"/>
<text x="479.6" y="715.7" font-size="11.5" text-anchor="middle" font-weight="normal" fill="#000">0</text>
<text x="512.6" y="730.6" font-size="11.5" text-anchor="start" font-weight="normal" fill="#000">4 Hz</text>
<text x="431.9" y="767.5" font-size="11.5" text-anchor="end" font-weight="normal" fill="#000">90</text>
<text x="525.3" y="767.5" font-size="11.5" text-anchor="start" font-weight="normal" fill="#000">-90</text>
<text x="479.6" y="780.4" font-size="14.6" text-anchor="middle" font-weight="normal" fill="#000">roll</text>
<text x="611.1" y="566.8" font-size="18.5" text-anchor="start" font-weight="bold" fill="#000">G</text>
<text x="630.8" y="669.2" font-size="18.6" text-anchor="middle" font-weight="normal" fill="#000" transform="rotate(-90 630.8 669.2)">PMd.1873</text>
<circle cx="703.4" cy="644.4" r="12.00" fill="none" stroke="#dfe5ea" stroke-width="0.9"/>
<circle cx="703.4" cy="644.4" r="24.00" fill="none" stroke="#dfe5ea" stroke-width="0.9"/>
<circle cx="703.4" cy="644.4" r="36.00" fill="none" stroke="#dfe5ea" stroke-width="0.9"/>
<line x1="703.40" y1="644.40" x2="746.60" y2="644.40" stroke="#dfe5ea" stroke-width="0.9"/>
<line x1="703.40" y1="644.40" x2="740.81" y2="666.00" stroke="#dfe5ea" stroke-width="0.9"/>
<line x1="703.40" y1="644.40" x2="725.00" y2="681.81" stroke="#dfe5ea" stroke-width="0.9"/>
<line x1="703.40" y1="644.40" x2="703.40" y2="687.60" stroke="#dfe5ea" stroke-width="0.9"/>
<line x1="703.40" y1="644.40" x2="681.80" y2="681.81" stroke="#dfe5ea" stroke-width="0.9"/>
<line x1="703.40" y1="644.40" x2="665.99" y2="666.00" stroke="#dfe5ea" stroke-width="0.9"/>
<line x1="703.40" y1="644.40" x2="660.20" y2="644.40" stroke="#dfe5ea" stroke-width="0.9"/>
<line x1="703.40" y1="644.40" x2="665.99" y2="622.80" stroke="#dfe5ea" stroke-width="0.9"/>
<line x1="703.40" y1="644.40" x2="681.80" y2="606.99" stroke="#dfe5ea" stroke-width="0.9"/>
<line x1="703.40" y1="644.40" x2="703.40" y2="601.20" stroke="#dfe5ea" stroke-width="0.9"/>
<line x1="703.40" y1="644.40" x2="725.00" y2="606.99" stroke="#dfe5ea" stroke-width="0.9"/>
<line x1="703.40" y1="644.40" x2="740.81" y2="622.80" stroke="#dfe5ea" stroke-width="0.9"/>
<text x="703.4" y="581.1" font-size="14.6" text-anchor="middle" font-weight="normal" fill="#000">yaw</text>
<text x="703.4" y="597.4" font-size="11" text-anchor="middle" font-weight="normal" fill="#000">N</text>
<text x="703.9" y="700.2" font-size="11" text-anchor="middle" font-weight="normal" fill="#000">S</text>
<text x="655.7" y="647.3" font-size="11" text-anchor="end" font-weight="normal" fill="#000">W</text>
<text x="751.4" y="648.4" font-size="11" text-anchor="start" font-weight="normal" fill="#000">E</text>
<text x="740.2" y="608.0" font-size="11.5" text-anchor="start" font-weight="normal" fill="#000">2 Hz</text>
<path d="M814.60,632.50 A12.10,12.10 0 0 1 814.60,656.70" fill="none" stroke="#dfe5ea" stroke-width="0.9"/>
<path d="M814.60,620.40 A24.20,24.20 0 0 1 814.60,668.80" fill="none" stroke="#dfe5ea" stroke-width="0.9"/>
<path d="M814.60,608.30 A36.30,36.30 0 0 1 814.60,680.90" fill="none" stroke="#dfe5ea" stroke-width="0.9"/>
<line x1="814.60" y1="644.60" x2="836.20" y2="607.19" stroke="#dfe5ea" stroke-width="0.9"/>
<line x1="814.60" y1="644.60" x2="852.01" y2="623.00" stroke="#dfe5ea" stroke-width="0.9"/>
<line x1="814.60" y1="644.60" x2="857.80" y2="644.60" stroke="#dfe5ea" stroke-width="0.9"/>
<line x1="814.60" y1="644.60" x2="852.01" y2="666.20" stroke="#dfe5ea" stroke-width="0.9"/>
<line x1="814.60" y1="644.60" x2="836.20" y2="682.01" stroke="#dfe5ea" stroke-width="0.9"/>
<text x="814.6" y="581.6" font-size="14.6" text-anchor="middle" font-weight="normal" fill="#000">pitch</text>
<text x="811.6" y="599.3" font-size="11.5" text-anchor="middle" font-weight="normal" fill="#000">90</text>
<text x="811.1" y="698.3" font-size="11.5" text-anchor="middle" font-weight="normal" fill="#000">-90</text>
<text x="859.6" y="648.3" font-size="11.5" text-anchor="start" font-weight="normal" fill="#000">0</text>
<text x="849.2" y="607.9" font-size="11.5" text-anchor="start" font-weight="normal" fill="#000">1.5 Hz</text>
<path d="M755.40,761.30 A12.10,12.10 0 0 1 779.60,761.30" fill="none" stroke="#dfe5ea" stroke-width="0.9"/>
<path d="M743.30,761.30 A24.20,24.20 0 0 1 791.70,761.30" fill="none" stroke="#dfe5ea" stroke-width="0.9"/>
<path d="M731.20,761.30 A36.30,36.30 0 0 1 803.80,761.30" fill="none" stroke="#dfe5ea" stroke-width="0.9"/>
<line x1="767.50" y1="761.30" x2="730.09" y2="739.70" stroke="#dfe5ea" stroke-width="0.9"/>
<line x1="767.50" y1="761.30" x2="745.90" y2="723.89" stroke="#dfe5ea" stroke-width="0.9"/>
<line x1="767.50" y1="761.30" x2="767.50" y2="718.10" stroke="#dfe5ea" stroke-width="0.9"/>
<line x1="767.50" y1="761.30" x2="789.10" y2="723.89" stroke="#dfe5ea" stroke-width="0.9"/>
<line x1="767.50" y1="761.30" x2="804.91" y2="739.70" stroke="#dfe5ea" stroke-width="0.9"/>
<text x="767.5" y="714.6" font-size="11.5" text-anchor="middle" font-weight="normal" fill="#000">0</text>
<text x="800.5" y="729.5" font-size="11.5" text-anchor="start" font-weight="normal" fill="#000">2 Hz</text>
<text x="719.8" y="766.4" font-size="11.5" text-anchor="end" font-weight="normal" fill="#000">90</text>
<text x="813.2" y="766.4" font-size="11.5" text-anchor="start" font-weight="normal" fill="#000">-90</text>
<text x="767.5" y="779.3" font-size="14.6" text-anchor="middle" font-weight="normal" fill="#000">roll</text>
<text x="-1.0" y="843.6" font-size="19.5" text-anchor="start" font-weight="bold" fill="#000">H</text>
<line x1="52.70" y1="850.70" x2="52.70" y2="1030.50" stroke="#111" stroke-width="1.3"/>
<line x1="52.20" y1="1029.70" x2="877.00" y2="1029.70" stroke="#111" stroke-width="1.3"/>
<text x="42.8" y="879.5" font-size="16" text-anchor="end" font-weight="normal" fill="#000">30</text>
<text x="42.8" y="958.5" font-size="16" text-anchor="end" font-weight="normal" fill="#000">15</text>
<text x="45.2" y="1035.4" font-size="16" text-anchor="end" font-weight="normal" fill="#000">0</text>
<text x="15.3" y="948.4" font-size="17.9" text-anchor="middle" font-weight="normal" fill="#000" transform="rotate(-90 15.3 948.4)">neurons tuned (%)</text>
<rect x="69.20" y="920.50" width="21.45" height="109.20" fill="rgb(35, 15, 250)"/>
<rect x="90.35" y="971.50" width="21.45" height="58.20" fill="rgb(79, 63, 251)"/>
<rect x="111.50" y="970.40" width="21.45" height="59.30" fill="rgb(123, 111, 252)"/>
<rect x="132.65" y="989.70" width="21.45" height="40.00" fill="rgb(167, 159, 253)"/>
<rect x="153.80" y="989.70" width="21.45" height="40.00" fill="rgb(211, 207, 254)"/>
<text x="119.2" y="1048.5" font-size="17.2" text-anchor="middle" font-weight="normal" fill="#000">OFC</text>
<text x="153.7" y="862.3" font-size="13.5" text-anchor="middle" font-weight="normal" fill="#000">n = 1213</text>
<text x="153.7" y="879.0" font-size="13.5" text-anchor="middle" font-weight="normal" fill="#000">neurons</text>
<rect x="206.30" y="928.80" width="21.45" height="100.90" fill="rgb(170, 110, 250)"/>
<rect x="227.45" y="972.90" width="21.45" height="56.80" fill="rgb(187, 139, 251)"/>
<rect x="248.60" y="977.00" width="21.45" height="52.70" fill="rgb(204, 168, 252)"/>
<rect x="269.75" y="989.00" width="21.45" height="40.70" fill="rgb(221, 197, 253)"/>
<rect x="290.90" y="991.00" width="21.45" height="38.70" fill="rgb(238, 226, 254)"/>
<text x="255.8" y="1048.5" font-size="17.2" text-anchor="middle" font-weight="normal" fill="#000">dACC</text>
<text x="290.8" y="862.3" font-size="13.5" text-anchor="middle" font-weight="normal" fill="#000">n = 1419</text>
<text x="290.8" y="879.0" font-size="13.5" text-anchor="middle" font-weight="normal" fill="#000">neurons</text>
<rect x="343.50" y="900.00" width="21.45" height="129.70" fill="rgb(135, 135, 255)"/>
<rect x="364.65" y="984.80" width="21.45" height="44.90" fill="rgb(159, 159, 255)"/>
<rect x="385.80" y="966.10" width="21.45" height="63.60" fill="rgb(183, 183, 255)"/>
<rect x="406.95" y="999.30" width="21.45" height="30.40" fill="rgb(207, 207, 255)"/>
<rect x="428.10" y="997.80" width="21.45" height="31.90" fill="rgb(231, 231, 255)"/>
<text x="393.9" y="1048.5" font-size="17.2" text-anchor="middle" font-weight="normal" fill="#000">SMA</text>
<text x="428.0" y="862.3" font-size="13.5" text-anchor="middle" font-weight="normal" fill="#000">n = 280</text>
<text x="428.0" y="879.0" font-size="13.5" text-anchor="middle" font-weight="normal" fill="#000">neurons</text>
<rect x="481.10" y="897.20" width="21.45" height="132.50" fill="rgb(45, 220, 60)"/>
<rect x="502.25" y="972.00" width="21.45" height="57.70" fill="rgb(87, 227, 99)"/>
<rect x="523.40" y="982.00" width="21.45" height="47.70" fill="rgb(129, 234, 138)"/>
<rect x="544.55" y="989.40" width="21.45" height="40.30" fill="rgb(171, 241, 177)"/>
<rect x="565.70" y="997.00" width="21.45" height="32.70" fill="rgb(213, 248, 216)"/>
<text x="532.7" y="1048.5" font-size="17.2" text-anchor="middle" font-weight="normal" fill="#000">vlPFC</text>
<text x="565.6" y="862.3" font-size="13.5" text-anchor="middle" font-weight="normal" fill="#000">n = 1756</text>
<text x="565.6" y="879.0" font-size="13.5" text-anchor="middle" font-weight="normal" fill="#000">neurons</text>
<rect x="618.00" y="911.70" width="21.45" height="118.00" fill="rgb(90, 250, 190)"/>
<rect x="639.15" y="970.70" width="21.45" height="59.00" fill="rgb(123, 251, 203)"/>
<rect x="660.30" y="979.40" width="21.45" height="50.30" fill="rgb(156, 252, 216)"/>
<rect x="681.45" y="994.40" width="21.45" height="35.30" fill="rgb(189, 253, 229)"/>
<rect x="702.60" y="995.70" width="21.45" height="34.00" fill="rgb(222, 254, 242)"/>
<text x="670.5" y="1048.5" font-size="17.2" text-anchor="middle" font-weight="normal" fill="#000">dlPFC</text>
<text x="702.5" y="862.3" font-size="13.5" text-anchor="middle" font-weight="normal" fill="#000">n = 1591</text>
<text x="702.5" y="879.0" font-size="13.5" text-anchor="middle" font-weight="normal" fill="#000">neurons</text>
<rect x="756.10" y="927.50" width="21.45" height="102.20" fill="rgb(55, 150, 230)"/>
<rect x="777.25" y="979.70" width="21.45" height="50.00" fill="rgb(95, 171, 235)"/>
<rect x="798.40" y="977.20" width="21.45" height="52.50" fill="rgb(135, 192, 240)"/>
<rect x="819.55" y="995.70" width="21.45" height="34.00" fill="rgb(175, 213, 245)"/>
<rect x="840.70" y="995.50" width="21.45" height="34.20" fill="rgb(215, 234, 250)"/>
<text x="810.8" y="1048.5" font-size="17.2" text-anchor="middle" font-weight="normal" fill="#000">PMd</text>
<text x="840.6" y="862.3" font-size="13.5" text-anchor="middle" font-weight="normal" fill="#000">n = 2017</text>
<text x="840.6" y="879.0" font-size="13.5" text-anchor="middle" font-weight="normal" fill="#000">neurons</text>
<line x1="52.70" y1="1010.00" x2="877.80" y2="1007.60" stroke="#f01818" stroke-width="1.8"/>
<line x1="79.78" y1="900.10" x2="79.78" y2="940.30" stroke="#111" stroke-width="1.6"/>
<line x1="73.98" y1="900.10" x2="85.58" y2="900.10" stroke="#111" stroke-width="1.6"/>
<line x1="73.98" y1="940.30" x2="85.58" y2="940.30" stroke="#111" stroke-width="1.6"/>
<line x1="100.92" y1="966.70" x2="100.92" y2="977.60" stroke="#111" stroke-width="1.6"/>
<line x1="95.12" y1="966.70" x2="106.72" y2="966.70" stroke="#111" stroke-width="1.6"/>
<line x1="95.12" y1="977.60" x2="106.72" y2="977.60" stroke="#111" stroke-width="1.6"/>
<line x1="122.08" y1="970.00" x2="122.08" y2="970.80" stroke="#111" stroke-width="1.6"/>
<line x1="116.28" y1="970.00" x2="127.88" y2="970.00" stroke="#111" stroke-width="1.6"/>
<line x1="116.28" y1="970.80" x2="127.88" y2="970.80" stroke="#111" stroke-width="1.6"/>
<line x1="143.22" y1="982.90" x2="143.22" y2="996.00" stroke="#111" stroke-width="1.6"/>
<line x1="137.42" y1="982.90" x2="149.03" y2="982.90" stroke="#111" stroke-width="1.6"/>
<line x1="137.42" y1="996.00" x2="149.03" y2="996.00" stroke="#111" stroke-width="1.6"/>
<line x1="164.38" y1="984.20" x2="164.38" y2="995.60" stroke="#111" stroke-width="1.6"/>
<line x1="158.57" y1="984.20" x2="170.18" y2="984.20" stroke="#111" stroke-width="1.6"/>
<line x1="158.57" y1="995.60" x2="170.18" y2="995.60" stroke="#111" stroke-width="1.6"/>
<line x1="216.88" y1="914.80" x2="216.88" y2="942.10" stroke="#111" stroke-width="1.6"/>
<line x1="211.07" y1="914.80" x2="222.68" y2="914.80" stroke="#111" stroke-width="1.6"/>
<line x1="211.07" y1="942.10" x2="222.68" y2="942.10" stroke="#111" stroke-width="1.6"/>
<line x1="238.03" y1="970.60" x2="238.03" y2="975.00" stroke="#111" stroke-width="1.6"/>
<line x1="232.22" y1="970.60" x2="243.83" y2="970.60" stroke="#111" stroke-width="1.6"/>
<line x1="232.22" y1="975.00" x2="243.83" y2="975.00" stroke="#111" stroke-width="1.6"/>
<line x1="259.18" y1="975.60" x2="259.18" y2="979.20" stroke="#111" stroke-width="1.6"/>
<line x1="253.38" y1="975.60" x2="264.98" y2="975.60" stroke="#111" stroke-width="1.6"/>
<line x1="253.38" y1="979.20" x2="264.98" y2="979.20" stroke="#111" stroke-width="1.6"/>
<line x1="280.32" y1="983.90" x2="280.32" y2="993.40" stroke="#111" stroke-width="1.6"/>
<line x1="274.52" y1="983.90" x2="286.12" y2="983.90" stroke="#111" stroke-width="1.6"/>
<line x1="274.52" y1="993.40" x2="286.12" y2="993.40" stroke="#111" stroke-width="1.6"/>
<line x1="301.47" y1="990.40" x2="301.47" y2="992.50" stroke="#111" stroke-width="1.6"/>
<line x1="295.67" y1="990.40" x2="307.27" y2="990.40" stroke="#111" stroke-width="1.6"/>
<line x1="295.67" y1="992.50" x2="307.27" y2="992.50" stroke="#111" stroke-width="1.6"/>
<line x1="354.07" y1="858.50" x2="354.07" y2="941.50" stroke="#111" stroke-width="1.6"/>
<line x1="348.27" y1="858.50" x2="359.88" y2="858.50" stroke="#111" stroke-width="1.6"/>
<line x1="348.27" y1="941.50" x2="359.88" y2="941.50" stroke="#111" stroke-width="1.6"/>
<line x1="375.22" y1="981.00" x2="375.22" y2="988.30" stroke="#111" stroke-width="1.6"/>
<line x1="369.42" y1="981.00" x2="381.02" y2="981.00" stroke="#111" stroke-width="1.6"/>
<line x1="369.42" y1="988.30" x2="381.02" y2="988.30" stroke="#111" stroke-width="1.6"/>
<line x1="396.38" y1="965.30" x2="396.38" y2="966.90" stroke="#111" stroke-width="1.6"/>
<line x1="390.57" y1="965.30" x2="402.18" y2="965.30" stroke="#111" stroke-width="1.6"/>
<line x1="390.57" y1="966.90" x2="402.18" y2="966.90" stroke="#111" stroke-width="1.6"/>
<line x1="417.52" y1="989.80" x2="417.52" y2="1008.20" stroke="#111" stroke-width="1.6"/>
<line x1="411.72" y1="989.80" x2="423.32" y2="989.80" stroke="#111" stroke-width="1.6"/>
<line x1="411.72" y1="1008.20" x2="423.32" y2="1008.20" stroke="#111" stroke-width="1.6"/>
<line x1="438.68" y1="996.00" x2="438.68" y2="999.00" stroke="#111" stroke-width="1.6"/>
<line x1="432.88" y1="996.00" x2="444.48" y2="996.00" stroke="#111" stroke-width="1.6"/>
<line x1="432.88" y1="999.00" x2="444.48" y2="999.00" stroke="#111" stroke-width="1.6"/>
<line x1="491.68" y1="872.70" x2="491.68" y2="920.90" stroke="#111" stroke-width="1.6"/>
<line x1="485.88" y1="872.70" x2="497.48" y2="872.70" stroke="#111" stroke-width="1.6"/>
<line x1="485.88" y1="920.90" x2="497.48" y2="920.90" stroke="#111" stroke-width="1.6"/>
<line x1="512.83" y1="969.60" x2="512.83" y2="974.10" stroke="#111" stroke-width="1.6"/>
<line x1="507.03" y1="969.60" x2="518.62" y2="969.60" stroke="#111" stroke-width="1.6"/>
<line x1="507.03" y1="974.10" x2="518.62" y2="974.10" stroke="#111" stroke-width="1.6"/>
<line x1="533.98" y1="978.80" x2="533.98" y2="984.60" stroke="#111" stroke-width="1.6"/>
<line x1="528.18" y1="978.80" x2="539.77" y2="978.80" stroke="#111" stroke-width="1.6"/>
<line x1="528.18" y1="984.60" x2="539.77" y2="984.60" stroke="#111" stroke-width="1.6"/>
<line x1="555.13" y1="988.00" x2="555.13" y2="990.70" stroke="#111" stroke-width="1.6"/>
<line x1="549.33" y1="988.00" x2="560.93" y2="988.00" stroke="#111" stroke-width="1.6"/>
<line x1="549.33" y1="990.70" x2="560.93" y2="990.70" stroke="#111" stroke-width="1.6"/>
<line x1="576.28" y1="996.60" x2="576.28" y2="997.40" stroke="#111" stroke-width="1.6"/>
<line x1="570.48" y1="996.60" x2="582.08" y2="996.60" stroke="#111" stroke-width="1.6"/>
<line x1="570.48" y1="997.40" x2="582.08" y2="997.40" stroke="#111" stroke-width="1.6"/>
<line x1="628.58" y1="883.20" x2="628.58" y2="940.40" stroke="#111" stroke-width="1.6"/>
<line x1="622.78" y1="883.20" x2="634.38" y2="883.20" stroke="#111" stroke-width="1.6"/>
<line x1="622.78" y1="940.40" x2="634.38" y2="940.40" stroke="#111" stroke-width="1.6"/>
<line x1="649.73" y1="963.00" x2="649.73" y2="978.00" stroke="#111" stroke-width="1.6"/>
<line x1="643.93" y1="963.00" x2="655.52" y2="963.00" stroke="#111" stroke-width="1.6"/>
<line x1="643.93" y1="978.00" x2="655.52" y2="978.00" stroke="#111" stroke-width="1.6"/>
<line x1="670.88" y1="977.50" x2="670.88" y2="981.20" stroke="#111" stroke-width="1.6"/>
<line x1="665.08" y1="977.50" x2="676.67" y2="977.50" stroke="#111" stroke-width="1.6"/>
<line x1="665.08" y1="981.20" x2="676.67" y2="981.20" stroke="#111" stroke-width="1.6"/>
<line x1="692.03" y1="990.40" x2="692.03" y2="997.00" stroke="#111" stroke-width="1.6"/>
<line x1="686.23" y1="990.40" x2="697.83" y2="990.40" stroke="#111" stroke-width="1.6"/>
<line x1="686.23" y1="997.00" x2="697.83" y2="997.00" stroke="#111" stroke-width="1.6"/>
<line x1="713.18" y1="989.40" x2="713.18" y2="1002.00" stroke="#111" stroke-width="1.6"/>
<line x1="707.38" y1="989.40" x2="718.98" y2="989.40" stroke="#111" stroke-width="1.6"/>
<line x1="707.38" y1="1002.00" x2="718.98" y2="1002.00" stroke="#111" stroke-width="1.6"/>
<line x1="766.68" y1="893.50" x2="766.68" y2="961.20" stroke="#111" stroke-width="1.6"/>
<line x1="760.88" y1="893.50" x2="772.48" y2="893.50" stroke="#111" stroke-width="1.6"/>
<line x1="760.88" y1="961.20" x2="772.48" y2="961.20" stroke="#111" stroke-width="1.6"/>
<line x1="787.83" y1="978.50" x2="787.83" y2="981.00" stroke="#111" stroke-width="1.6"/>
<line x1="782.03" y1="978.50" x2="793.62" y2="978.50" stroke="#111" stroke-width="1.6"/>
<line x1="782.03" y1="981.00" x2="793.62" y2="981.00" stroke="#111" stroke-width="1.6"/>
<line x1="808.98" y1="968.80" x2="808.98" y2="985.30" stroke="#111" stroke-width="1.6"/>
<line x1="803.18" y1="968.80" x2="814.77" y2="968.80" stroke="#111" stroke-width="1.6"/>
<line x1="803.18" y1="985.30" x2="814.77" y2="985.30" stroke="#111" stroke-width="1.6"/>
<line x1="830.13" y1="995.00" x2="830.13" y2="996.70" stroke="#111" stroke-width="1.6"/>
<line x1="824.33" y1="995.00" x2="835.93" y2="995.00" stroke="#111" stroke-width="1.6"/>
<line x1="824.33" y1="996.70" x2="835.93" y2="996.70" stroke="#111" stroke-width="1.6"/>
<line x1="851.28" y1="990.60" x2="851.28" y2="1000.00" stroke="#111" stroke-width="1.6"/>
<line x1="845.48" y1="990.60" x2="857.08" y2="990.60" stroke="#111" stroke-width="1.6"/>
<line x1="845.48" y1="1000.00" x2="857.08" y2="1000.00" stroke="#111" stroke-width="1.6"/>
<text x="83.0" y="892.0" font-size="13" text-anchor="middle" font-weight="normal" fill="#000">YPR</text>
<text x="101.0" y="946.2" font-size="13" text-anchor="middle" font-weight="normal" fill="#000">Y</text>
<text x="121.4" y="930.9" font-size="13" text-anchor="middle" font-weight="normal" fill="#000">PR</text>
<text x="146.0" y="945.8" font-size="13" text-anchor="middle" font-weight="normal" fill="#000">Y</text>
<text x="146.0" y="960.8" font-size="13" text-anchor="middle" font-weight="normal" fill="#000">only</text>
<text x="176.7" y="953.9" font-size="13" text-anchor="middle" font-weight="normal" fill="#000">PR</text>
<text x="176.7" y="970.6" font-size="13" text-anchor="middle" font-weight="normal" fill="#000">only</text>
<path d="M57.6,105.8L57.8,105.1L57.9,104.3L58.0,103.6L58.2,102.8L58.5,102.1L58.8,101.3L59.1,100.6L59.5,99.9L59.9,99.2L60.4,98.5L60.9,97.9L61.5,97.3L62.1,96.8L62.7,96.2L63.4,95.7L64.1,95.2L64.9,94.8L65.8,94.3L66.6,94.0L67.5,93.7L68.3,93.4L69.1,93.1L69.9,92.8L70.7,92.5L71.6,92.2L72.6,91.9L73.5,91.6L74.5,91.3L75.4,91.0L76.3,90.7L77.2,90.4L77.9,90.1L78.6,89.9L79.3,89.6L79.9,89.3L80.6,89.0L81.3,88.6L81.9,88.3L82.6,88.0L83.3,87.7L83.9,87.5L84.5,87.3L85.1,87.1L85.7,86.9L86.3,86.7L87.0,86.5L87.7,86.4L88.4,86.3L89.2,86.3L90.0,86.3L90.6,86.4L91.3,86.5L91.8,86.7L92.4,86.8L92.9,86.9L93.4,87.0L94.1,87.1L94.7,87.3L95.3,87.4L95.9,87.6L96.4,87.7L96.8,87.7L97.2,87.8L97.5,87.8L97.9,87.7L98.4,87.7L98.8,87.5L99.4,87.4L100.0,87.2L100.7,87.0L101.4,86.7L102.2,86.5L103.0,86.2L103.8,85.9L104.7,85.6L105.6,85.3L106.6,85.0L107.6,84.6L108.6,84.3L109.5,84.0L110.4,83.8L111.4,83.5L112.3,83.2L113.2,83.0L114.2,82.7L115.2,82.5L116.1,82.3L117.1,82.1L118.1,82.0L119.1,81.9L120.0,81.7L121.0,81.7L122.0,81.6L122.9,81.5L123.9,81.5L124.9,81.5L125.8,81.5L126.8,81.5L127.8,81.6L128.8,81.6L129.8,81.7L130.8,81.8L131.8,82.0L132.8,82.2L133.7,82.4L134.6,82.7L135.5,83.0L136.4,83.3L137.2,83.7L138.1,84.1L138.9,84.5L139.7,84.9L140.5,85.4L141.2,85.9L142.0,86.5L142.7,87.1L143.5,87.8L144.1,88.5L144.8,89.2L145.4,90.0L146.0,90.8L146.5,91.7L146.9,92.6L147.3,93.5L147.6,94.4L147.9,95.3L148.1,96.3L148.3,97.2L148.5,98.3L148.6,99.3L148.6,100.4L148.7,101.4L148.6,102.5L148.6,103.5L148.5,104.5L148.4,105.4L148.2,106.4L148.0,107.3L147.8,108.1L147.6,109.0L147.3,109.9L147.0,110.7L146.7,111.5L146.3,112.3L145.9,113.2L145.4,114.0L144.9,114.8L144.4,115.6L143.9,116.4L143.3,117.2L142.7,117.9L142.1,118.6L141.4,119.3L140.6,119.8L139.9,120.3L139.2,120.6L138.5,120.9L137.9,121.2L137.4,121.4L136.9,121.7L136.2,121.9L135.5,122.1L134.9,122.3L134.4,122.4L134.1,122.5L133.9,122.5L133.9,122.5L133.9,122.5L133.9,122.6L133.7,122.7L133.6,122.8L133.5,123.0L133.4,123.2L133.3,123.4L133.3,123.5L133.3,123.6L133.2,123.7L133.2,123.8L133.3,124.0L133.3,124.3L133.4,124.6L133.5,125.0L133.6,125.4L133.7,125.7L133.8,125.9L133.9,126.1L134.1,126.4L134.4,126.8L134.7,127.3L135.1,128.0L135.4,128.9L135.6,129.8L135.8,130.6L135.9,131.5L135.9,132.4L135.9,133.3L135.9,134.2L135.9,135.1L135.8,136.0L135.7,136.9L135.5,137.7L135.3,138.6L135.1,139.4L134.8,140.2L134.5,141.0L134.2,141.7L133.9,142.4L133.6,143.1L133.3,143.8L132.9,144.5L132.6,145.2L132.2,145.9L131.7,146.7L131.2,147.4L130.6,148.1L130.0,148.8L129.4,149.4L128.7,149.9L128.0,150.5L127.3,151.0L126.5,151.4L125.7,151.8L124.9,152.2L124.0,152.5L123.1,152.8L122.2,153.0L121.2,153.2L120.3,153.4L119.3,153.5L118.4,153.6L117.4,153.6L116.4,153.7L115.4,153.7L114.4,153.6L113.4,153.5L112.4,153.4L111.4,153.3L110.5,153.2L109.6,153.0L108.7,152.9L107.8,152.7L106.9,152.6L106.1,152.4L105.3,152.2L104.5,152.0L103.7,151.8L103.0,151.6L102.2,151.4L101.5,151.1L100.8,150.9L100.1,150.6L99.5,150.3L98.8,150.1L98.3,149.9L97.8,149.7L97.3,149.5L96.8,149.3L96.3,149.2L95.9,149.0L95.5,148.9L95.1,148.7L94.6,148.6L94.2,148.5L93.8,148.3L93.4,148.2L93.0,148.1L92.5,148.0L91.9,147.8L91.4,147.7L90.7,147.4L90.1,147.2L89.4,146.8L88.8,146.3L88.3,145.9L87.9,145.4L87.5,144.9L87.2,144.4L86.9,143.9L86.7,143.5L86.5,143.0L86.2,142.3L86.1,141.6L86.0,141.0L86.0,140.6L86.0,140.3L85.9,140.1L86.0,140.2L86.0,140.2L85.9,140.1L85.8,139.9L85.7,139.8L85.5,139.6L85.4,139.5L85.2,139.3L85.0,139.2L84.7,139.0L84.5,138.9L84.1,138.7L83.7,138.6L83.2,138.4L82.6,138.2L81.9,138.0L81.1,137.7L80.3,137.4L79.5,137.1L78.6,136.7L77.7,136.4L76.7,136.0L75.7,135.6L74.7,135.2L73.8,134.7L72.8,134.3L72.0,133.8L71.1,133.4L70.3,132.9L69.4,132.5L68.6,132.0L67.8,131.4L67.0,130.9L66.2,130.3L65.5,129.6L64.8,128.9L64.1,128.3L63.5,127.6L62.9,126.9L62.4,126.2L61.9,125.5L61.4,124.8L61.0,124.2L60.6,123.5L60.2,122.8L59.8,122.1L59.5,121.4L59.1,120.7L58.9,119.9L58.6,119.1L58.4,118.3L58.2,117.4L58.0,116.6L57.9,115.7L57.8,114.9L57.8,114.1L57.7,113.2L57.6,112.5L57.6,111.7L57.5,110.9L57.5,110.0L57.5,109.2L57.5,108.4L57.5,107.5L57.6,106.7 Z" fill="none" stroke="#ff1c1c" stroke-width="1.1" stroke-linejoin="round" stroke-linecap="round"/>
<path d="M63.6,106.6L63.7,106.0L63.8,105.5L63.9,104.9L64.0,104.5L64.1,104.0L64.3,103.6L64.5,103.3L64.7,102.9L64.9,102.6L65.1,102.2L65.4,101.9L65.7,101.5L66.1,101.2L66.4,100.9L66.8,100.6L67.3,100.3L67.7,100.1L68.2,99.8L68.8,99.6L69.5,99.3L70.3,99.0L71.1,98.8L71.9,98.5L72.7,98.2L73.6,97.9L74.4,97.6L75.4,97.3L76.3,97.0L77.3,96.7L78.2,96.4L79.1,96.1L80.0,95.7L80.9,95.4L81.7,95.0L82.5,94.7L83.2,94.4L83.8,94.1L84.4,93.8L85.0,93.5L85.5,93.3L86.1,93.1L86.6,92.9L87.1,92.7L87.5,92.6L87.9,92.5L88.2,92.4L88.5,92.3L88.8,92.3L89.1,92.3L89.4,92.3L89.7,92.4L90.2,92.4L90.6,92.5L91.2,92.6L91.7,92.8L92.3,92.9L92.8,93.0L93.3,93.1L93.9,93.2L94.5,93.4L95.2,93.6L96.0,93.7L96.9,93.8L97.9,93.8L98.7,93.7L99.6,93.5L100.4,93.3L101.1,93.1L101.9,92.9L102.6,92.7L103.3,92.4L104.0,92.2L104.9,91.9L105.8,91.6L106.7,91.3L107.6,91.0L108.5,90.6L109.5,90.3L110.4,90.0L111.2,89.8L112.1,89.5L113.0,89.3L113.9,89.0L114.7,88.8L115.6,88.6L116.5,88.4L117.3,88.2L118.1,88.1L119.0,87.9L119.8,87.8L120.6,87.7L121.5,87.6L122.3,87.6L123.2,87.5L124.0,87.5L124.9,87.5L125.7,87.5L126.6,87.5L127.5,87.5L128.3,87.6L129.2,87.7L130.0,87.8L130.7,87.9L131.5,88.0L132.2,88.2L132.8,88.4L133.5,88.6L134.2,88.9L134.8,89.1L135.4,89.4L136.0,89.7L136.6,90.1L137.2,90.4L137.8,90.8L138.3,91.3L138.8,91.7L139.3,92.1L139.8,92.6L140.2,93.0L140.5,93.5L140.8,94.0L141.2,94.5L141.4,95.1L141.7,95.7L141.9,96.3L142.1,96.9L142.3,97.6L142.4,98.3L142.5,99.0L142.6,99.7L142.6,100.5L142.7,101.4L142.6,102.2L142.6,103.0L142.5,103.8L142.4,104.6L142.3,105.3L142.2,106.0L142.0,106.6L141.8,107.3L141.6,107.9L141.4,108.5L141.1,109.1L140.9,109.8L140.6,110.4L140.2,111.1L139.8,111.7L139.4,112.3L139.0,113.0L138.6,113.5L138.2,114.0L137.8,114.4L137.5,114.6L137.2,114.9L136.9,115.1L136.5,115.3L136.0,115.5L135.6,115.7L135.0,115.9L134.6,116.1L134.2,116.3L134.0,116.3L133.6,116.4L133.1,116.5L132.5,116.7L131.8,116.9L131.1,117.2L130.3,117.7L129.7,118.2L129.2,118.8L128.7,119.3L128.4,119.9L128.0,120.6L127.7,121.2L127.5,121.9L127.3,122.6L127.3,123.4L127.3,124.1L127.3,124.8L127.4,125.5L127.6,126.1L127.7,126.7L127.9,127.2L128.1,127.8L128.4,128.5L128.7,129.1L129.1,129.6L129.3,130.0L129.5,130.3L129.6,130.6L129.7,130.7L129.8,131.0L129.8,131.4L129.9,132.0L129.9,132.6L129.9,133.3L129.9,134.0L129.9,134.7L129.8,135.3L129.7,135.9L129.6,136.5L129.5,137.1L129.3,137.6L129.2,138.2L128.9,138.8L128.7,139.4L128.5,140.0L128.2,140.6L127.9,141.2L127.6,141.8L127.3,142.3L127.0,142.9L126.7,143.4L126.4,143.8L126.1,144.2L125.7,144.6L125.4,144.9L125.0,145.3L124.5,145.6L124.1,145.9L123.6,146.2L123.1,146.4L122.6,146.7L122.1,146.9L121.5,147.0L120.9,147.2L120.2,147.3L119.5,147.4L118.7,147.5L117.9,147.6L117.2,147.6L116.4,147.7L115.6,147.7L114.8,147.6L113.9,147.6L113.1,147.5L112.2,147.4L111.3,147.2L110.5,147.1L109.7,147.0L108.9,146.8L108.2,146.7L107.4,146.5L106.7,146.4L106.0,146.2L105.3,146.0L104.7,145.8L104.0,145.6L103.4,145.4L102.8,145.2L102.3,145.0L101.7,144.8L101.1,144.5L100.5,144.3L99.9,144.1L99.3,143.9L98.8,143.7L98.3,143.5L97.8,143.3L97.3,143.2L96.9,143.0L96.5,142.9L96.1,142.8L95.6,142.6L95.0,142.4L94.5,142.3L94.0,142.2L93.6,142.0L93.2,141.9L92.9,141.8L92.8,141.8L92.7,141.7L92.6,141.7L92.6,141.6L92.5,141.6L92.4,141.4L92.3,141.3L92.2,141.1L92.1,140.9L92.0,140.7L92.0,140.7L92.0,140.7L92.0,140.5L92.0,140.1L91.9,139.6L91.8,139.0L91.6,138.2L91.3,137.5L91.0,136.9L90.6,136.4L90.3,135.9L89.8,135.5L89.4,135.0L88.9,134.6L88.3,134.2L87.7,133.8L87.0,133.5L86.4,133.2L85.7,132.9L85.1,132.7L84.4,132.5L83.8,132.3L83.2,132.1L82.5,131.8L81.7,131.5L80.8,131.1L79.9,130.8L79.0,130.4L78.0,130.0L77.1,129.7L76.3,129.3L75.5,128.9L74.7,128.5L73.9,128.1L73.2,127.7L72.4,127.3L71.8,126.9L71.1,126.5L70.6,126.1L70.0,125.6L69.5,125.2L69.0,124.7L68.5,124.2L68.1,123.7L67.6,123.1L67.2,122.6L66.8,122.0L66.4,121.4L66.0,120.9L65.7,120.4L65.4,119.9L65.1,119.4L64.9,119.0L64.7,118.5L64.5,118.0L64.3,117.4L64.2,116.9L64.1,116.3L64.0,115.7L63.9,115.0L63.8,114.3L63.7,113.5L63.7,112.8L63.6,112.1L63.6,111.3L63.5,110.6L63.5,109.8L63.5,109.1L63.5,108.4L63.5,107.8L63.5,107.2 Z" fill="none" stroke="#ff1c1c" stroke-width="1.1" stroke-linejoin="round" stroke-linecap="round"/>
<path d="M60.6,106.2L60.7,105.6L60.8,104.9L61.0,104.3L61.1,103.7L61.3,103.1L61.5,102.5L61.8,101.9L62.1,101.4L62.4,100.9L62.8,100.4L63.2,99.9L63.6,99.4L64.1,99.0L64.6,98.6L65.1,98.2L65.7,97.8L66.3,97.4L67.0,97.1L67.7,96.8L68.5,96.5L69.3,96.2L70.1,95.9L70.9,95.6L71.7,95.4L72.6,95.1L73.5,94.8L74.4,94.5L75.4,94.1L76.3,93.8L77.3,93.5L78.2,93.2L79.0,92.9L79.8,92.6L80.5,92.3L81.2,92.0L81.9,91.7L82.5,91.3L83.2,91.0L83.8,90.8L84.4,90.5L85.0,90.3L85.6,90.1L86.1,89.9L86.6,89.7L87.1,89.6L87.6,89.5L88.1,89.4L88.6,89.3L89.2,89.3L89.7,89.3L90.2,89.4L90.7,89.5L91.2,89.6L91.8,89.7L92.3,89.8L92.9,89.9L93.4,90.0L94.0,90.2L94.6,90.3L95.2,90.5L95.8,90.6L96.4,90.7L97.1,90.8L97.7,90.8L98.3,90.7L99.0,90.6L99.6,90.4L100.3,90.2L100.9,90.0L101.6,89.8L102.4,89.6L103.1,89.3L103.9,89.1L104.8,88.8L105.7,88.5L106.6,88.1L107.6,87.8L108.5,87.5L109.5,87.2L110.4,86.9L111.3,86.6L112.2,86.4L113.1,86.1L114.0,85.9L114.9,85.7L115.8,85.4L116.7,85.3L117.6,85.1L118.5,85.0L119.4,84.8L120.3,84.7L121.2,84.6L122.1,84.6L123.0,84.5L124.0,84.5L124.9,84.5L125.8,84.5L126.7,84.5L127.6,84.5L128.6,84.6L129.5,84.7L130.4,84.8L131.3,84.9L132.1,85.1L132.9,85.3L133.7,85.5L134.5,85.8L135.3,86.1L136.0,86.4L136.7,86.7L137.5,87.1L138.1,87.5L138.8,87.9L139.5,88.4L140.1,88.9L140.8,89.4L141.4,89.9L142.0,90.5L142.5,91.1L143.0,91.7L143.4,92.4L143.8,93.1L144.2,93.8L144.5,94.6L144.8,95.3L145.0,96.1L145.2,96.9L145.4,97.8L145.5,98.6L145.6,99.5L145.6,100.5L145.7,101.4L145.6,102.3L145.6,103.3L145.5,104.2L145.4,105.0L145.3,105.8L145.1,106.6L144.9,107.4L144.7,108.1L144.5,108.9L144.2,109.6L143.9,110.3L143.6,111.1L143.2,111.8L142.8,112.5L142.4,113.3L141.9,114.0L141.4,114.7L140.9,115.4L140.4,116.0L140.0,116.5L139.5,116.9L138.9,117.3L138.4,117.7L137.8,118.0L137.3,118.2L136.8,118.5L136.2,118.7L135.7,118.9L135.2,119.1L134.7,119.2L134.2,119.4L133.8,119.5L133.3,119.6L132.9,119.7L132.5,119.9L132.1,120.1L131.8,120.4L131.5,120.7L131.2,121.1L130.9,121.5L130.7,121.9L130.5,122.3L130.4,122.7L130.3,123.1L130.2,123.6L130.2,124.0L130.3,124.4L130.4,124.9L130.5,125.4L130.6,125.8L130.7,126.3L130.9,126.7L131.1,127.2L131.3,127.6L131.6,128.0L131.8,128.4L132.1,128.8L132.4,129.3L132.6,129.8L132.7,130.4L132.8,131.0L132.9,131.7L132.9,132.5L132.9,133.3L132.9,134.1L132.9,134.9L132.8,135.7L132.7,136.4L132.6,137.1L132.4,137.8L132.2,138.5L132.0,139.2L131.7,139.9L131.5,140.5L131.2,141.2L130.9,141.8L130.6,142.5L130.3,143.1L129.9,143.8L129.6,144.4L129.2,145.0L128.8,145.6L128.4,146.2L127.9,146.7L127.4,147.2L126.8,147.6L126.3,148.0L125.7,148.4L125.1,148.8L124.4,149.1L123.8,149.4L123.0,149.7L122.3,149.9L121.5,150.1L120.7,150.3L119.9,150.4L119.0,150.5L118.2,150.6L117.3,150.6L116.4,150.7L115.5,150.7L114.6,150.6L113.7,150.5L112.7,150.4L111.8,150.3L110.9,150.2L110.0,150.1L109.2,149.9L108.3,149.8L107.5,149.6L106.8,149.5L106.0,149.3L105.2,149.1L104.5,148.9L103.8,148.7L103.1,148.5L102.5,148.3L101.8,148.0L101.2,147.8L100.6,147.6L100.0,147.3L99.4,147.1L98.8,146.9L98.3,146.7L97.8,146.5L97.3,146.3L96.9,146.2L96.4,146.0L96.0,145.9L95.6,145.8L95.1,145.6L94.7,145.5L94.2,145.3L93.7,145.2L93.2,145.1L92.8,144.9L92.3,144.8L91.8,144.6L91.4,144.5L91.1,144.3L90.7,144.0L90.4,143.8L90.2,143.5L90.0,143.2L89.8,142.8L89.6,142.5L89.4,142.2L89.2,141.8L89.1,141.5L89.0,141.1L89.0,140.7L89.0,140.3L88.9,139.9L88.9,139.6L88.8,139.2L88.6,138.8L88.4,138.5L88.2,138.2L88.0,137.8L87.7,137.5L87.4,137.2L87.0,137.0L86.7,136.7L86.2,136.4L85.8,136.2L85.2,135.9L84.7,135.7L84.1,135.5L83.5,135.3L82.8,135.1L82.1,134.9L81.4,134.6L80.6,134.3L79.7,133.9L78.8,133.6L77.8,133.2L76.9,132.8L75.9,132.4L75.0,132.0L74.1,131.6L73.3,131.2L72.5,130.7L71.7,130.3L70.9,129.9L70.2,129.4L69.5,129.0L68.8,128.5L68.1,128.0L67.5,127.4L66.9,126.8L66.3,126.2L65.8,125.6L65.3,125.0L64.8,124.4L64.3,123.7L63.9,123.1L63.5,122.5L63.1,121.9L62.8,121.4L62.5,120.8L62.2,120.2L61.9,119.6L61.7,119.0L61.5,118.3L61.3,117.6L61.1,116.9L61.0,116.1L60.9,115.4L60.8,114.6L60.7,113.8L60.7,113.0L60.6,112.3L60.6,111.5L60.5,110.7L60.5,109.9L60.5,109.2L60.5,108.4L60.5,107.6L60.6,106.9 Z" fill="none" stroke="#000" stroke-width="2.2" stroke-linejoin="round" stroke-linecap="round"/>
<path d="M229.5,76.1L229.5,75.6L229.7,75.0L230.0,74.5L230.3,73.9L230.8,73.4L231.2,72.8L231.6,72.2L232.0,71.7L232.5,71.1L232.9,70.4L233.4,69.8L234.0,69.1L234.7,68.5L235.5,68.0L236.3,67.6L237.1,67.1L238.0,66.7L238.9,66.3L239.7,66.0L240.6,65.7L241.5,65.4L242.4,65.1L243.3,64.9L244.2,64.6L245.1,64.4L246.0,64.2L246.9,64.1L247.7,63.9L248.6,63.8L249.5,63.7L250.3,63.6L251.2,63.6L252.1,63.5L252.9,63.5L253.8,63.5L254.7,63.4L255.6,63.5L256.5,63.5L257.3,63.5L258.1,63.6L258.9,63.7L259.7,63.8L260.5,63.9L261.2,64.0L261.9,64.1L262.6,64.3L263.2,64.5L263.8,64.6L264.5,64.8L265.1,65.0L265.7,65.2L266.3,65.5L266.8,65.7L267.4,66.0L267.9,66.3L268.4,66.6L268.9,66.9L269.4,67.3L269.8,67.7L270.2,68.1L270.5,68.5L270.8,69.0L271.1,69.5L271.3,70.0L271.5,70.5L271.6,71.0L271.7,71.6L271.7,72.1L271.7,72.7L271.6,73.2L271.5,73.7L271.3,74.3L271.1,74.8L270.8,75.2L270.6,75.7L270.2,76.1L269.9,76.6L269.5,77.0L269.1,77.4L268.7,77.8L268.2,78.2L267.7,78.6L267.2,79.0L266.7,79.3L266.1,79.7L265.5,80.1L264.9,80.4L264.3,80.7L263.7,81.1L263.0,81.4L262.3,81.7L261.7,82.0L261.0,82.3L260.2,82.6L259.5,82.9L258.7,83.2L257.9,83.5L257.1,83.7L256.2,84.0L255.4,84.3L254.5,84.5L253.6,84.7L252.8,85.0L252.0,85.2L251.1,85.4L250.3,85.7L249.4,85.9L248.6,86.1L247.7,86.4L246.8,86.6L246.0,86.8L245.2,86.9L244.4,87.0L243.6,87.1L242.9,87.2L242.1,87.3L241.4,87.4L240.7,87.4L239.9,87.3L239.2,87.3L238.5,87.1L237.8,87.0L237.1,86.7L236.5,86.5L235.9,86.2L235.3,85.9L234.8,85.6L234.2,85.2L233.7,84.8L233.1,84.4L232.7,83.8L232.4,83.2L232.1,82.6L231.8,82.0L231.5,81.4L231.3,80.9L231.0,80.3L230.7,79.7L230.4,79.1L230.1,78.4L229.8,77.7L229.7,77.1L229.6,76.6 Z" fill="none" stroke="#ff1c1c" stroke-width="1.1" stroke-linejoin="round" stroke-linecap="round"/>
<path d="M229.7,76.1L229.9,75.7L230.3,75.4L230.7,75.2L231.2,74.9L231.8,74.7L232.4,74.4L233.1,74.2L233.8,73.9L234.5,73.6L235.2,73.3L235.9,73.0L236.7,72.8L237.3,72.3L237.9,71.9L238.6,71.6L239.2,71.2L239.9,70.9L240.6,70.6L241.4,70.3L242.1,70.0L242.9,69.8L243.7,69.5L244.5,69.3L245.3,69.1L246.1,68.9L246.8,68.8L247.6,68.6L248.4,68.5L249.2,68.4L249.9,68.3L250.7,68.2L251.5,68.2L252.3,68.1L253.1,68.1L253.9,68.1L254.7,68.0L255.5,68.1L256.3,68.1L257.0,68.1L257.7,68.2L258.4,68.2L259.1,68.3L259.7,68.4L260.3,68.5L260.9,68.6L261.5,68.8L262.0,68.9L262.6,69.1L263.1,69.2L263.6,69.4L264.1,69.6L264.5,69.7L264.9,69.9L265.3,70.1L265.6,70.3L265.9,70.4L266.1,70.6L266.3,70.7L266.5,70.9L266.6,71.1L266.8,71.2L266.9,71.4L266.9,71.5L267.0,71.7L267.0,71.8L267.1,71.9L267.1,72.0L267.1,72.1L267.1,72.2L267.1,72.4L267.0,72.5L267.0,72.6L266.9,72.8L266.8,73.0L266.7,73.2L266.6,73.4L266.4,73.6L266.2,73.8L265.9,74.1L265.6,74.4L265.3,74.6L265.0,74.9L264.6,75.2L264.1,75.5L263.7,75.8L263.2,76.1L262.6,76.4L262.1,76.7L261.6,77.0L261.0,77.3L260.4,77.5L259.8,77.8L259.2,78.1L258.5,78.3L257.9,78.6L257.2,78.9L256.4,79.1L255.7,79.4L254.9,79.6L254.1,79.8L253.2,80.1L252.4,80.3L251.6,80.6L250.7,80.8L249.9,81.0L249.1,81.2L248.2,81.5L247.4,81.7L246.6,81.9L245.8,82.1L245.1,82.2L244.4,82.4L243.7,82.5L243.0,82.6L242.4,82.7L241.8,82.7L241.2,82.8L240.7,82.8L240.2,82.7L239.8,82.7L239.4,82.6L239.0,82.5L238.7,82.4L238.3,82.3L238.0,82.1L237.6,81.9L237.2,81.7L236.9,81.4L236.5,81.2L236.2,80.9L235.7,80.7L235.2,80.5L234.7,80.2L234.2,79.9L233.7,79.5L233.2,79.2L232.7,78.8L232.1,78.5L231.5,78.1L230.9,77.7L230.4,77.3L230.0,77.0L229.7,76.5 Z" fill="none" stroke="#ff1c1c" stroke-width="1.1" stroke-linejoin="round" stroke-linecap="round"/>
<path d="M229.6,76.1L229.7,75.6L230.0,75.2L230.3,74.8L230.8,74.4L231.3,74.0L231.8,73.6L232.4,73.2L232.9,72.8L233.5,72.3L234.1,71.9L234.7,71.4L235.3,70.9L236.0,70.4L236.7,70.0L237.4,69.6L238.2,69.2L238.9,68.8L239.7,68.5L240.5,68.1L241.4,67.8L242.2,67.6L243.1,67.3L243.9,67.1L244.8,66.9L245.6,66.7L246.4,66.5L247.2,66.3L248.1,66.2L248.9,66.1L249.7,66.0L250.5,65.9L251.4,65.9L252.2,65.8L253.0,65.8L253.9,65.8L254.7,65.7L255.6,65.8L256.4,65.8L257.2,65.8L257.9,65.9L258.7,65.9L259.4,66.0L260.1,66.1L260.7,66.3L261.4,66.4L262.0,66.5L262.6,66.7L263.2,66.9L263.8,67.0L264.3,67.2L264.9,67.4L265.4,67.6L265.9,67.8L266.3,68.0L266.8,68.3L267.2,68.5L267.5,68.8L267.8,69.0L268.1,69.3L268.4,69.6L268.6,69.9L268.8,70.2L269.0,70.5L269.1,70.8L269.2,71.1L269.3,71.4L269.4,71.8L269.4,72.1L269.4,72.4L269.3,72.8L269.2,73.1L269.1,73.4L269.0,73.8L268.8,74.1L268.6,74.4L268.4,74.8L268.1,75.1L267.8,75.4L267.5,75.8L267.2,76.1L266.8,76.4L266.3,76.7L265.9,77.1L265.4,77.4L264.9,77.8L264.3,78.1L263.8,78.4L263.2,78.7L262.6,79.0L262.0,79.3L261.4,79.6L260.7,79.9L260.1,80.2L259.4,80.5L258.7,80.8L257.9,81.0L257.2,81.3L256.4,81.5L255.6,81.8L254.7,82.1L253.9,82.3L253.0,82.5L252.2,82.8L251.4,83.0L250.5,83.2L249.7,83.5L248.8,83.7L248.0,83.9L247.1,84.1L246.3,84.3L245.5,84.5L244.8,84.6L244.0,84.8L243.3,84.9L242.6,85.0L242.0,85.0L241.3,85.1L240.7,85.1L240.1,85.0L239.5,85.0L238.9,84.9L238.4,84.7L237.9,84.6L237.4,84.4L236.9,84.2L236.5,83.9L236.0,83.6L235.5,83.3L235.1,83.0L234.7,82.6L234.2,82.2L233.8,81.8L233.4,81.4L233.0,80.9L232.6,80.5L232.2,80.0L231.8,79.6L231.4,79.1L230.9,78.6L230.5,78.1L230.1,77.5L229.8,77.0L229.7,76.5 Z" fill="none" stroke="#000" stroke-width="2.0" stroke-linejoin="round" stroke-linecap="round"/>
<path d="M251.6,202.6L247.0,201.2L244.6,196.2L243.3,188.5L243.0,180.2L243.6,172.0L245.2,163.2L247.1,155.0L249.0,148.7L254.4,147.1L257.1,149.7L259.7,156.1L261.6,163.2L262.9,172.0L263.2,182.2L262.3,189.9L260.7,196.3L257.8,201.0L253.6,202.3 Z" fill="none" stroke="#ff1c1c" stroke-width="1.1" stroke-linejoin="round" stroke-linecap="round"/>
<path d="M251.8,201.9L249.0,199.5L248.3,195.3L247.1,188.1L246.8,180.3L247.4,172.4L248.9,163.9L250.8,155.9L252.0,151.1L254.0,150.9L253.7,151.3L256.1,157.3L257.9,163.9L259.1,172.4L259.4,182.0L258.5,189.2L257.0,195.2L256.2,199.7L253.5,202.1 Z" fill="none" stroke="#ff1c1c" stroke-width="1.1" stroke-linejoin="round" stroke-linecap="round"/>
<path d="M251.7,202.2L248.0,200.4L246.5,195.7L245.2,188.3L244.9,180.2L245.5,172.2L247.1,163.5L248.9,155.5L250.5,149.9L254.2,149.0L255.4,150.5L257.9,156.7L259.8,163.5L261.0,172.2L261.3,182.1L260.4,189.5L258.8,195.7L257.0,200.4L253.6,202.2 Z" fill="none" stroke="#000" stroke-width="2.0" stroke-linejoin="round" stroke-linecap="round"/>
<path d="M364.1,112.6L364.1,111.9L364.2,111.2L364.3,110.4L364.4,109.6L364.6,108.7L364.8,107.8L365.0,107.0L365.4,106.2L365.8,105.4L366.3,104.7L366.8,103.9L367.4,103.3L368.0,102.6L368.6,102.0L369.3,101.4L370.0,100.9L370.7,100.4L371.4,99.9L372.2,99.4L373.0,99.0L373.8,98.7L374.7,98.3L375.5,98.0L376.4,97.7L377.3,97.4L378.2,97.2L379.2,97.1L380.1,96.9L381.1,96.8L382.0,96.7L382.9,96.6L383.8,96.4L384.7,96.3L385.6,96.1L386.5,95.9L387.4,95.7L388.2,95.5L389.1,95.3L390.0,95.1L390.9,94.9L391.8,94.6L392.7,94.4L393.6,94.1L394.5,93.7L395.4,93.4L396.3,93.1L397.2,92.8L398.1,92.5L399.0,92.2L399.9,92.0L400.8,91.7L401.7,91.5L402.5,91.3L403.3,91.0L404.0,90.8L404.6,90.5L405.1,90.2L405.6,89.9L406.1,89.6L406.5,89.2L407.0,88.9L407.5,88.4L408.0,88.0L408.7,87.6L409.3,87.1L410.1,86.7L410.8,86.2L411.5,85.8L412.3,85.3L413.1,84.8L414.0,84.4L414.8,83.9L415.6,83.4L416.5,82.9L417.4,82.4L418.4,81.9L419.3,81.4L420.3,81.0L421.2,80.6L422.2,80.2L423.2,79.9L424.1,79.6L425.1,79.3L426.0,79.1L427.0,79.0L427.9,78.8L428.9,78.7L429.8,78.7L430.8,78.6L431.7,78.6L432.7,78.7L433.7,78.7L434.7,78.9L435.6,79.0L436.6,79.3L437.5,79.6L438.4,80.0L439.3,80.4L440.2,81.0L441.1,81.5L441.9,82.1L442.7,82.8L443.4,83.5L444.0,84.1L444.6,84.9L445.2,85.6L445.7,86.4L446.1,87.2L446.5,88.1L446.8,88.9L447.1,89.8L447.3,90.7L447.5,91.6L447.7,92.5L447.8,93.5L447.9,94.5L447.9,95.4L447.9,96.4L447.8,97.4L447.7,98.4L447.6,99.4L447.4,100.3L447.1,101.3L446.8,102.3L446.5,103.3L446.2,104.2L445.8,105.1L445.4,106.0L445.0,106.8L444.6,107.6L444.1,108.4L443.6,109.1L443.1,109.7L442.6,110.4L442.1,111.0L441.7,111.6L441.2,112.2L440.8,112.8L440.3,113.5L439.8,114.0L439.3,114.6L438.8,115.1L438.4,115.6L437.8,116.1L437.3,116.5L436.7,116.7L436.1,116.9L435.7,116.9L435.3,117.0L435.1,117.1L435.0,117.1L435.0,117.2L434.8,117.4L434.6,117.6L434.5,117.9L434.4,118.2L434.2,118.6L434.2,119.0L434.1,119.5L434.1,119.9L434.1,120.5L434.2,121.1L434.4,121.8L434.5,122.5L434.7,123.3L434.9,124.2L435.1,125.0L435.3,125.8L435.4,126.6L435.5,127.3L435.7,128.1L435.8,128.9L435.9,129.7L436.0,130.6L436.0,131.4L435.9,132.2L435.7,133.0L435.5,133.7L435.2,134.5L434.9,135.2L434.5,135.8L434.1,136.5L433.7,137.1L433.2,137.7L432.7,138.2L432.1,138.8L431.5,139.3L430.9,139.8L430.2,140.3L429.4,140.7L428.7,141.1L427.8,141.4L426.9,141.6L426.0,141.8L425.0,141.9L424.0,141.9L423.0,141.9L422.1,141.9L421.1,141.9L420.2,141.9L419.3,141.9L418.3,141.9L417.4,141.8L416.5,141.8L415.6,141.7L414.7,141.7L413.9,141.7L413.0,141.7L412.1,141.7L411.2,141.8L410.3,141.8L409.4,141.9L408.5,142.0L407.6,142.1L406.7,142.2L405.8,142.3L405.0,142.4L404.3,142.5L403.5,142.6L402.7,142.7L401.9,142.8L401.1,142.9L400.3,142.9L399.5,142.9L398.8,142.8L398.1,142.6L397.4,142.4L396.7,142.1L396.1,141.8L395.4,141.5L394.9,141.2L394.3,140.9L393.7,140.6L393.1,140.2L392.5,139.8L391.9,139.4L391.4,139.0L390.8,138.5L390.4,138.2L389.9,137.8L389.4,137.5L389.0,137.1L388.7,136.8L388.3,136.5L388.0,136.2L387.7,136.0L387.4,135.7L387.0,135.5L386.6,135.3L386.1,135.1L385.6,134.9L385.1,134.7L384.5,134.5L383.8,134.3L383.1,134.0L382.3,133.8L381.5,133.4L380.7,133.1L379.7,132.7L378.8,132.4L377.8,132.0L376.8,131.5L375.9,131.1L375.0,130.7L374.2,130.3L373.3,129.8L372.5,129.4L371.7,129.0L370.9,128.5L370.1,128.0L369.4,127.5L368.7,126.9L368.1,126.3L367.5,125.7L367.0,125.0L366.5,124.3L366.0,123.7L365.7,123.0L365.3,122.3L365.0,121.6L364.7,120.9L364.5,120.2L364.4,119.5L364.3,118.8L364.2,118.2L364.2,117.6L364.1,117.0L364.1,116.4L364.0,116.0L364.0,115.5L363.9,115.1L363.9,114.6L363.9,114.2L364.0,113.7L364.0,113.2 Z" fill="none" stroke="#ff1c1c" stroke-width="1.1" stroke-linejoin="round" stroke-linecap="round"/>
<path d="M366.5,112.8L366.5,112.2L366.6,111.5L366.7,110.7L366.8,110.0L366.9,109.2L367.1,108.5L367.3,107.8L367.5,107.2L367.9,106.6L368.3,106.0L368.7,105.4L369.2,104.9L369.7,104.3L370.3,103.8L370.8,103.3L371.4,102.8L372.0,102.4L372.7,101.9L373.4,101.6L374.1,101.2L374.8,100.8L375.5,100.5L376.3,100.2L377.1,100.0L377.9,99.8L378.7,99.6L379.5,99.4L380.4,99.3L381.4,99.2L382.3,99.1L383.2,99.0L384.2,98.8L385.1,98.6L386.0,98.5L386.9,98.3L387.8,98.1L388.8,97.9L389.7,97.7L390.6,97.5L391.5,97.2L392.5,96.9L393.4,96.6L394.4,96.3L395.3,96.0L396.2,95.7L397.1,95.4L398.0,95.1L398.8,94.8L399.7,94.5L400.5,94.3L401.4,94.0L402.3,93.8L403.2,93.6L404.0,93.3L404.8,93.0L405.6,92.7L406.3,92.3L407.0,91.9L407.5,91.5L408.0,91.1L408.5,90.7L409.0,90.3L409.4,89.9L410.0,89.6L410.6,89.2L411.3,88.7L412.0,88.3L412.8,87.8L413.6,87.4L414.3,86.9L415.1,86.4L416.0,86.0L416.8,85.5L417.7,85.0L418.6,84.5L419.5,84.1L420.4,83.6L421.3,83.2L422.2,82.8L423.0,82.4L423.9,82.2L424.7,81.9L425.6,81.7L426.5,81.5L427.3,81.3L428.2,81.2L429.1,81.1L429.9,81.1L430.8,81.0L431.7,81.0L432.6,81.1L433.4,81.1L434.3,81.2L435.1,81.4L435.9,81.6L436.7,81.8L437.4,82.2L438.2,82.5L439.0,83.0L439.7,83.5L440.4,84.0L441.1,84.6L441.7,85.2L442.2,85.7L442.7,86.3L443.2,87.0L443.6,87.6L443.9,88.3L444.2,89.0L444.5,89.7L444.8,90.5L445.0,91.3L445.2,92.1L445.3,92.9L445.4,93.7L445.5,94.6L445.5,95.5L445.5,96.3L445.4,97.2L445.3,98.1L445.2,98.9L445.0,99.8L444.8,100.7L444.5,101.6L444.2,102.5L443.9,103.4L443.6,104.2L443.3,105.0L442.9,105.7L442.5,106.4L442.1,107.0L441.7,107.7L441.2,108.3L440.7,108.9L440.2,109.6L439.8,110.2L439.3,110.8L438.9,111.4L438.4,112.0L438.0,112.5L437.5,113.0L437.1,113.5L436.7,113.9L436.4,114.2L436.1,114.4L435.9,114.5L435.6,114.5L435.2,114.6L434.8,114.7L434.3,114.8L433.7,115.1L433.2,115.5L432.9,116.0L432.6,116.4L432.3,116.9L432.1,117.4L431.9,118.0L431.8,118.6L431.7,119.3L431.7,120.0L431.7,120.7L431.8,121.5L432.0,122.3L432.2,123.1L432.4,123.9L432.6,124.7L432.8,125.5L432.9,126.2L433.0,127.0L433.2,127.7L433.3,128.5L433.4,129.3L433.5,130.0L433.6,130.6L433.6,131.3L433.5,131.8L433.4,132.4L433.2,133.0L433.0,133.5L432.8,134.1L432.5,134.6L432.1,135.1L431.8,135.6L431.4,136.1L430.9,136.5L430.5,137.0L430.0,137.4L429.5,137.9L428.9,138.2L428.3,138.6L427.7,138.9L427.1,139.1L426.4,139.3L425.7,139.4L424.8,139.5L423.9,139.5L423.0,139.5L422.1,139.5L421.1,139.5L420.2,139.5L419.3,139.5L418.4,139.5L417.6,139.5L416.6,139.4L415.7,139.3L414.8,139.3L413.9,139.3L412.9,139.3L412.0,139.3L411.0,139.4L410.1,139.5L409.1,139.5L408.2,139.6L407.3,139.7L406.4,139.8L405.6,139.9L404.7,140.0L403.9,140.1L403.1,140.2L402.4,140.4L401.7,140.4L401.0,140.5L400.4,140.5L399.8,140.5L399.2,140.4L398.7,140.3L398.1,140.1L397.6,139.9L397.1,139.7L396.5,139.4L396.0,139.1L395.4,138.8L394.9,138.5L394.4,138.2L393.9,137.8L393.3,137.4L392.8,137.1L392.3,136.7L391.8,136.3L391.4,135.9L391.0,135.6L390.6,135.3L390.3,135.0L390.0,134.7L389.6,134.4L389.2,134.0L388.7,133.7L388.2,133.4L387.6,133.1L387.0,132.9L386.4,132.6L385.8,132.4L385.2,132.2L384.6,132.0L383.9,131.8L383.2,131.5L382.4,131.2L381.5,130.9L380.6,130.5L379.7,130.1L378.7,129.7L377.8,129.3L376.9,128.9L376.1,128.5L375.2,128.1L374.4,127.7L373.6,127.3L372.9,126.9L372.1,126.4L371.5,126.0L370.8,125.6L370.3,125.1L369.8,124.6L369.3,124.1L368.9,123.5L368.5,123.0L368.1,122.4L367.8,121.8L367.5,121.2L367.2,120.7L367.0,120.2L366.9,119.6L366.7,119.1L366.7,118.5L366.6,117.9L366.6,117.4L366.5,116.8L366.5,116.2L366.4,115.7L366.4,115.3L366.3,114.9L366.3,114.6L366.3,114.2L366.4,113.8L366.4,113.4 Z" fill="none" stroke="#ff1c1c" stroke-width="1.1" stroke-linejoin="round" stroke-linecap="round"/>
<path d="M365.3,112.7L365.3,112.1L365.4,111.3L365.5,110.6L365.6,109.8L365.7,109.0L365.9,108.2L366.2,107.4L366.5,106.7L366.8,106.0L367.3,105.3L367.8,104.7L368.3,104.1L368.8,103.5L369.4,102.9L370.1,102.4L370.7,101.8L371.4,101.4L372.1,100.9L372.8,100.5L373.5,100.1L374.3,99.7L375.1,99.4L375.9,99.1L376.7,98.8L377.6,98.6L378.5,98.4L379.4,98.3L380.3,98.1L381.2,98.0L382.1,97.9L383.1,97.8L384.0,97.6L384.9,97.4L385.8,97.3L386.7,97.1L387.6,96.9L388.5,96.7L389.4,96.5L390.3,96.3L391.2,96.0L392.1,95.8L393.0,95.5L394.0,95.2L394.9,94.9L395.8,94.6L396.7,94.2L397.6,93.9L398.5,93.6L399.3,93.4L400.2,93.1L401.1,92.9L402.0,92.6L402.8,92.4L403.6,92.2L404.4,91.9L405.1,91.6L405.7,91.3L406.3,90.9L406.8,90.5L407.3,90.2L407.7,89.8L408.2,89.4L408.7,89.0L409.3,88.6L410.0,88.1L410.7,87.7L411.4,87.2L412.2,86.8L412.9,86.3L413.7,85.9L414.5,85.4L415.4,84.9L416.2,84.5L417.1,84.0L418.0,83.5L418.9,83.0L419.8,82.5L420.8,82.1L421.7,81.7L422.6,81.3L423.5,81.0L424.4,80.8L425.3,80.5L426.2,80.3L427.1,80.1L428.0,80.0L429.0,79.9L429.9,79.9L430.8,79.8L431.7,79.8L432.6,79.9L433.6,79.9L434.5,80.0L435.4,80.2L436.3,80.4L437.1,80.7L437.9,81.1L438.8,81.5L439.6,82.0L440.4,82.5L441.2,83.1L441.9,83.7L442.5,84.3L443.1,84.9L443.7,85.6L444.2,86.3L444.6,87.0L445.0,87.8L445.4,88.5L445.7,89.3L445.9,90.2L446.2,91.0L446.4,91.8L446.5,92.7L446.6,93.6L446.7,94.5L446.7,95.5L446.7,96.4L446.6,97.3L446.5,98.2L446.4,99.1L446.2,100.1L446.0,101.0L445.7,102.0L445.4,102.9L445.1,103.8L444.7,104.6L444.4,105.5L444.0,106.2L443.5,107.0L443.1,107.7L442.6,108.4L442.2,109.0L441.7,109.7L441.2,110.3L440.7,110.9L440.3,111.5L439.8,112.1L439.3,112.7L438.9,113.3L438.4,113.8L438.0,114.3L437.5,114.8L437.1,115.1L436.7,115.4L436.3,115.6L435.8,115.7L435.4,115.8L435.1,115.8L434.7,115.9L434.4,116.1L434.1,116.3L433.8,116.7L433.6,117.0L433.4,117.4L433.2,117.8L433.1,118.3L433.0,118.8L432.9,119.4L432.9,120.0L432.9,120.6L433.0,121.3L433.2,122.0L433.4,122.8L433.6,123.6L433.8,124.4L433.9,125.2L434.1,126.0L434.2,126.8L434.4,127.5L434.5,128.3L434.6,129.1L434.7,129.9L434.8,130.6L434.8,131.3L434.7,132.0L434.5,132.7L434.4,133.4L434.1,134.0L433.8,134.6L433.5,135.2L433.1,135.8L432.7,136.3L432.3,136.9L431.8,137.4L431.3,137.9L430.7,138.4L430.2,138.8L429.5,139.3L428.9,139.6L428.2,140.0L427.4,140.2L426.7,140.4L425.8,140.6L424.9,140.7L424.0,140.7L423.0,140.7L422.1,140.7L421.1,140.7L420.2,140.7L419.3,140.7L418.4,140.7L417.5,140.7L416.6,140.6L415.7,140.5L414.8,140.5L413.9,140.5L413.0,140.5L412.0,140.5L411.1,140.6L410.2,140.6L409.3,140.7L408.3,140.8L407.4,140.9L406.6,141.0L405.7,141.1L404.9,141.2L404.1,141.3L403.3,141.4L402.5,141.5L401.8,141.6L401.1,141.7L400.4,141.7L399.7,141.7L399.0,141.6L398.4,141.4L397.7,141.2L397.1,141.0L396.6,140.8L396.0,140.5L395.4,140.2L394.8,139.9L394.3,139.6L393.7,139.2L393.2,138.8L392.6,138.4L392.1,138.0L391.6,137.6L391.1,137.2L390.6,136.9L390.2,136.5L389.8,136.2L389.5,135.9L389.1,135.6L388.8,135.3L388.5,135.0L388.1,134.7L387.6,134.4L387.1,134.2L386.6,134.0L386.0,133.8L385.5,133.6L384.8,133.4L384.2,133.2L383.5,132.9L382.8,132.6L382.0,132.3L381.1,132.0L380.2,131.6L379.2,131.2L378.3,130.8L377.3,130.4L376.4,130.0L375.5,129.6L374.7,129.2L373.9,128.8L373.1,128.4L372.3,127.9L371.5,127.5L370.8,127.0L370.1,126.5L369.5,126.0L368.9,125.4L368.4,124.9L367.9,124.3L367.5,123.7L367.1,123.0L366.7,122.4L366.4,121.8L366.1,121.2L365.9,120.6L365.7,119.9L365.6,119.3L365.5,118.7L365.4,118.1L365.4,117.5L365.3,116.9L365.3,116.3L365.2,115.8L365.2,115.4L365.1,115.0L365.1,114.6L365.1,114.2L365.2,113.8L365.2,113.3 Z" fill="none" stroke="#000" stroke-width="1.9" stroke-linejoin="round" stroke-linecap="round"/>
<path d="M665.2,77.2L666.0,76.9L667.0,76.7L667.9,76.5L669.0,76.3L670.0,76.2L671.1,76.1L672.2,76.0L673.3,75.9L674.5,75.8L675.8,75.8L677.1,75.8L678.4,75.7L679.7,75.8L681.0,75.8L682.1,75.8L683.2,75.9L684.0,76.0L684.8,76.1L685.5,76.3L686.1,76.4L686.7,76.6L687.2,76.8L687.7,77.0L688.3,77.2L688.9,77.4L689.5,77.7L690.0,77.9L690.5,78.2L691.0,78.4L691.5,78.6L692.1,78.8L692.9,78.9L693.8,79.0L694.8,79.1L696.0,79.1L697.3,79.1L698.5,79.1L699.8,79.1L701.1,79.1L702.4,79.2L703.6,79.2L704.8,79.2L706.0,79.2L707.2,79.1L708.4,79.1L709.6,79.1L710.8,79.1L712.0,79.2L713.3,79.2L714.5,79.2L715.8,79.2L717.0,79.2L718.3,79.3L719.5,79.3L720.7,79.4L721.8,79.5L722.9,79.7L723.9,79.8L724.9,80.0L725.8,80.3L726.7,80.5L727.6,80.8L728.5,81.1L729.4,81.4L730.3,81.8L731.1,82.2L732.0,82.6L732.8,83.1L733.6,83.6L734.4,84.1L735.1,84.7L735.8,85.2L736.4,85.8L737.0,86.4L737.5,87.0L738.1,87.7L738.5,88.4L739.0,89.1L739.4,89.8L739.7,90.5L740.0,91.3L740.2,92.1L740.4,92.9L740.6,93.8L740.7,94.6L740.7,95.4L740.8,96.2L740.8,97.0L740.7,97.8L740.7,98.6L740.6,99.5L740.5,100.3L740.3,101.1L740.2,101.9L740.0,102.6L739.7,103.4L739.5,104.1L739.3,104.9L739.0,105.6L738.7,106.4L738.4,107.1L738.0,107.8L737.6,108.5L737.2,109.2L736.7,109.8L736.1,110.4L735.6,111.0L735.0,111.6L734.4,112.1L733.8,112.6L733.3,113.1L732.8,113.6L732.2,114.1L731.6,114.6L731.0,115.1L730.4,115.5L729.9,115.9L729.4,116.3L729.0,116.7L728.6,117.1L728.3,117.5L728.0,117.9L727.8,118.2L727.6,118.6L727.4,118.9L727.3,119.2L727.2,119.7L727.1,120.1L727.0,120.7L727.0,121.3L727.0,121.9L727.1,122.7L727.1,123.4L727.2,124.2L727.3,125.0L727.5,125.8L727.6,126.6L727.8,127.4L728.1,128.3L728.4,129.3L728.7,130.2L728.9,131.2L729.1,132.2L729.2,133.2L729.1,134.1L729.1,135.0L728.9,135.8L728.7,136.6L728.5,137.4L728.2,138.1L727.9,138.9L727.6,139.7L727.4,140.5L727.0,141.4L726.7,142.2L726.3,143.1L725.9,144.0L725.4,144.9L725.0,145.7L724.5,146.5L724.1,147.3L723.6,148.1L723.1,148.8L722.5,149.6L722.0,150.3L721.4,151.0L720.7,151.7L720.0,152.3L719.3,152.8L718.6,153.3L717.8,153.8L717.0,154.3L716.1,154.7L715.3,155.0L714.4,155.3L713.5,155.5L712.6,155.7L711.6,155.8L710.7,155.9L709.7,155.9L708.7,155.9L707.7,155.8L706.7,155.7L705.7,155.5L704.8,155.3L703.8,155.0L702.8,154.6L701.8,154.2L700.9,153.8L699.9,153.3L699.0,152.9L698.2,152.4L697.3,151.9L696.4,151.3L695.6,150.8L694.8,150.2L694.0,149.6L693.3,149.0L692.6,148.5L692.0,148.1L691.5,147.7L691.0,147.3L690.6,147.0L690.2,146.7L689.9,146.4L689.6,146.2L689.3,145.9L689.0,145.7L688.7,145.5L688.4,145.3L688.0,145.1L687.6,144.9L687.2,144.7L686.8,144.5L686.3,144.2L685.9,143.8L685.5,143.4L685.0,143.0L684.6,142.5L684.2,142.1L683.8,141.5L683.4,141.0L683.0,140.5L682.6,139.9L682.3,139.3L682.0,138.6L681.7,137.9L681.4,137.3L681.2,136.6L680.9,136.0L680.7,135.4L680.5,134.9L680.3,134.4L680.1,133.9L679.9,133.5L679.8,133.2L679.7,132.9L679.6,132.7L679.4,132.5L679.3,132.4L679.1,132.2L678.9,132.1L678.6,132.0L678.3,132.0L677.8,131.9L677.3,131.7L676.7,131.6L676.0,131.4L675.4,131.1L674.6,130.9L673.8,130.6L672.9,130.3L672.0,130.0L671.1,129.7L670.2,129.3L669.3,128.9L668.4,128.5L667.4,128.0L666.5,127.5L665.5,127.0L664.6,126.4L663.6,125.8L662.7,125.2L661.8,124.5L660.9,123.8L660.1,123.1L659.3,122.4L658.5,121.6L657.7,120.8L657.0,120.0L656.3,119.1L655.6,118.3L654.9,117.4L654.2,116.5L653.5,115.6L652.8,114.7L652.2,113.7L651.6,112.7L651.1,111.8L650.6,110.8L650.1,109.9L649.8,108.9L649.4,108.0L649.1,107.0L648.9,106.1L648.6,105.1L648.5,104.2L648.3,103.2L648.2,102.3L648.1,101.3L648.0,100.3L648.0,99.3L648.0,98.3L648.1,97.4L648.2,96.5L648.3,95.6L648.5,94.8L648.7,94.0L648.9,93.3L649.2,92.5L649.5,91.8L649.8,91.1L650.2,90.4L650.7,89.7L651.2,89.0L651.7,88.2L652.4,87.5L653.0,86.7L653.7,86.0L654.4,85.3L655.0,84.7L655.7,84.1L656.3,83.5L656.9,82.9L657.6,82.4L658.2,81.9L658.8,81.4L659.4,81.0L660.0,80.5L660.6,80.1L661.1,79.7L661.6,79.3L662.0,79.0L662.5,78.6L663.1,78.2L663.7,77.8L664.4,77.5 Z" fill="none" stroke="#ff1c1c" stroke-width="1.1" stroke-linejoin="round" stroke-linecap="round"/>
<path d="M665.9,79.4L666.6,79.2L667.5,79.0L668.4,78.9L669.3,78.7L670.3,78.6L671.3,78.5L672.4,78.4L673.5,78.3L674.6,78.2L675.8,78.2L677.1,78.2L678.4,78.1L679.7,78.2L680.9,78.2L682.0,78.2L683.0,78.3L683.7,78.4L684.4,78.5L684.9,78.6L685.4,78.7L685.9,78.9L686.4,79.1L686.9,79.2L687.5,79.4L688.0,79.6L688.5,79.8L688.9,80.1L689.5,80.3L690.1,80.6L690.8,80.9L691.6,81.1L692.5,81.3L693.6,81.4L694.7,81.5L696.0,81.5L697.2,81.5L698.5,81.5L699.8,81.5L701.1,81.5L702.4,81.6L703.6,81.6L704.8,81.6L706.0,81.6L707.2,81.5L708.4,81.5L709.6,81.5L710.8,81.5L712.0,81.6L713.2,81.6L714.5,81.6L715.7,81.6L717.0,81.6L718.2,81.7L719.4,81.7L720.5,81.8L721.5,81.9L722.5,82.0L723.5,82.2L724.4,82.4L725.2,82.6L726.1,82.8L726.9,83.1L727.7,83.3L728.5,83.6L729.3,84.0L730.0,84.3L730.8,84.8L731.6,85.2L732.3,85.6L733.0,86.1L733.6,86.6L734.2,87.1L734.7,87.6L735.2,88.1L735.7,88.6L736.1,89.1L736.5,89.7L736.9,90.3L737.2,90.8L737.5,91.4L737.7,92.1L737.9,92.7L738.1,93.4L738.2,94.1L738.3,94.8L738.3,95.6L738.4,96.3L738.4,97.0L738.3,97.7L738.3,98.4L738.2,99.2L738.1,99.9L738.0,100.6L737.8,101.3L737.6,102.0L737.4,102.7L737.2,103.4L737.0,104.1L736.8,104.8L736.5,105.4L736.2,106.0L735.9,106.7L735.6,107.2L735.2,107.8L734.8,108.3L734.4,108.8L733.9,109.3L733.4,109.8L732.8,110.3L732.3,110.8L731.7,111.3L731.2,111.8L730.6,112.3L730.1,112.7L729.5,113.2L728.9,113.6L728.4,114.1L727.8,114.5L727.3,115.0L726.8,115.5L726.4,116.0L726.1,116.5L725.8,116.9L725.5,117.4L725.2,118.0L725.0,118.5L724.9,119.1L724.7,119.8L724.7,120.5L724.6,121.3L724.6,122.0L724.7,122.8L724.8,123.7L724.9,124.5L725.0,125.3L725.1,126.2L725.3,127.1L725.5,128.1L725.8,129.0L726.1,130.0L726.3,130.9L726.6,131.7L726.7,132.5L726.8,133.3L726.8,134.0L726.7,134.6L726.6,135.3L726.4,136.0L726.2,136.7L725.9,137.4L725.7,138.1L725.4,138.9L725.1,139.7L724.8,140.5L724.5,141.3L724.1,142.1L723.7,143.0L723.3,143.8L722.9,144.6L722.5,145.3L722.0,146.0L721.6,146.8L721.1,147.5L720.6,148.1L720.1,148.8L719.6,149.4L719.1,149.9L718.5,150.4L717.9,150.9L717.3,151.3L716.6,151.8L715.9,152.1L715.2,152.5L714.5,152.8L713.7,153.0L713.0,153.2L712.2,153.3L711.4,153.5L710.5,153.5L709.7,153.5L708.8,153.5L708.0,153.5L707.1,153.3L706.2,153.2L705.4,153.0L704.5,152.7L703.7,152.4L702.8,152.0L701.9,151.6L701.0,151.2L700.2,150.7L699.3,150.3L698.5,149.8L697.7,149.3L697.0,148.8L696.2,148.2L695.4,147.7L694.7,147.1L694.0,146.6L693.4,146.2L692.9,145.8L692.5,145.4L692.1,145.1L691.8,144.9L691.5,144.6L691.1,144.3L690.8,144.0L690.4,143.7L689.9,143.4L689.5,143.2L689.1,143.0L688.7,142.8L688.4,142.6L688.1,142.4L687.8,142.2L687.5,142.0L687.1,141.7L686.8,141.3L686.4,140.9L686.0,140.5L685.7,140.1L685.3,139.6L685.0,139.1L684.7,138.7L684.4,138.2L684.2,137.6L683.9,137.0L683.7,136.4L683.4,135.8L683.2,135.1L682.9,134.5L682.7,134.0L682.5,133.5L682.3,133.1L682.2,132.7L682.0,132.2L681.8,131.8L681.6,131.3L681.2,130.9L680.8,130.5L680.3,130.2L679.8,129.9L679.3,129.7L678.8,129.6L678.4,129.5L677.9,129.4L677.4,129.3L676.8,129.1L676.1,128.8L675.3,128.6L674.5,128.3L673.7,128.1L672.8,127.8L672.0,127.4L671.1,127.1L670.3,126.7L669.4,126.3L668.5,125.9L667.6,125.4L666.7,124.9L665.8,124.3L664.9,123.8L664.1,123.2L663.3,122.6L662.5,122.0L661.7,121.3L660.9,120.6L660.2,119.9L659.5,119.2L658.8,118.4L658.1,117.6L657.4,116.8L656.8,116.0L656.1,115.1L655.4,114.2L654.8,113.3L654.2,112.4L653.7,111.5L653.2,110.6L652.7,109.8L652.3,108.9L652.0,108.1L651.7,107.2L651.4,106.3L651.2,105.5L651.0,104.6L650.8,103.7L650.7,102.9L650.6,102.0L650.5,101.1L650.4,100.2L650.4,99.3L650.4,98.4L650.5,97.6L650.6,96.8L650.7,96.0L650.8,95.3L651.0,94.6L651.2,94.0L651.4,93.4L651.6,92.8L651.9,92.3L652.3,91.7L652.7,91.0L653.1,90.4L653.6,89.7L654.2,89.1L654.8,88.4L655.4,87.7L656.1,87.0L656.7,86.4L657.3,85.8L657.9,85.3L658.5,84.8L659.1,84.3L659.7,83.8L660.3,83.3L660.9,82.9L661.5,82.5L662.0,82.0L662.6,81.6L663.1,81.2L663.6,80.8L664.0,80.5L664.4,80.2L664.8,79.9L665.3,79.7 Z" fill="none" stroke="#ff1c1c" stroke-width="1.1" stroke-linejoin="round" stroke-linecap="round"/>
<path d="M665.5,78.3L666.3,78.1L667.2,77.9L668.1,77.7L669.1,77.5L670.2,77.4L671.2,77.3L672.3,77.2L673.4,77.1L674.5,77.0L675.8,77.0L677.1,77.0L678.4,76.9L679.7,77.0L680.9,77.0L682.1,77.0L683.1,77.1L683.9,77.2L684.6,77.3L685.2,77.4L685.8,77.6L686.3,77.8L686.8,77.9L687.3,78.1L687.9,78.3L688.5,78.5L689.0,78.7L689.5,79.0L690.0,79.3L690.5,79.5L691.2,79.8L691.9,80.0L692.7,80.1L693.7,80.2L694.8,80.3L696.0,80.3L697.2,80.3L698.5,80.3L699.8,80.3L701.1,80.3L702.4,80.4L703.6,80.4L704.8,80.4L706.0,80.4L707.2,80.3L708.4,80.3L709.6,80.3L710.8,80.3L712.0,80.4L713.3,80.4L714.5,80.4L715.8,80.4L717.0,80.4L718.2,80.5L719.4,80.5L720.6,80.6L721.7,80.7L722.7,80.9L723.7,81.0L724.6,81.2L725.5,81.4L726.4,81.7L727.3,81.9L728.1,82.2L728.9,82.5L729.8,82.9L730.6,83.3L731.4,83.7L732.2,84.1L732.9,84.6L733.7,85.1L734.3,85.6L735.0,86.1L735.6,86.7L736.1,87.2L736.6,87.8L737.1,88.4L737.5,89.0L737.9,89.7L738.3,90.3L738.6,91.0L738.9,91.7L739.1,92.4L739.2,93.2L739.4,93.9L739.5,94.7L739.5,95.5L739.6,96.3L739.6,97.0L739.5,97.8L739.5,98.5L739.4,99.3L739.3,100.1L739.1,100.8L739.0,101.6L738.8,102.3L738.6,103.1L738.4,103.8L738.1,104.5L737.9,105.2L737.6,105.9L737.3,106.6L736.9,107.2L736.6,107.9L736.2,108.5L735.7,109.1L735.3,109.6L734.7,110.2L734.2,110.7L733.6,111.2L733.1,111.7L732.5,112.2L732.0,112.7L731.4,113.2L730.8,113.7L730.3,114.1L729.7,114.6L729.1,115.0L728.6,115.4L728.1,115.9L727.7,116.3L727.4,116.8L727.1,117.2L726.8,117.6L726.5,118.0L726.3,118.4L726.2,118.9L726.0,119.4L725.9,120.0L725.8,120.6L725.8,121.3L725.8,122.0L725.9,122.7L726.0,123.5L726.0,124.3L726.2,125.2L726.3,126.0L726.4,126.9L726.7,127.7L727.0,128.7L727.2,129.6L727.5,130.6L727.7,131.5L727.9,132.4L728.0,133.2L727.9,134.0L727.9,134.8L727.7,135.6L727.5,136.3L727.3,137.0L727.1,137.8L726.8,138.5L726.5,139.3L726.2,140.1L725.9,140.9L725.6,141.8L725.2,142.6L724.8,143.5L724.4,144.3L723.9,145.1L723.5,145.9L723.0,146.7L722.6,147.4L722.1,148.1L721.6,148.9L721.0,149.5L720.5,150.2L719.9,150.8L719.3,151.4L718.6,151.9L717.9,152.3L717.2,152.8L716.4,153.2L715.7,153.6L714.9,153.9L714.1,154.2L713.2,154.4L712.4,154.5L711.5,154.7L710.6,154.7L709.7,154.7L708.8,154.7L707.8,154.7L706.9,154.5L706.0,154.4L705.1,154.1L704.2,153.9L703.2,153.5L702.3,153.1L701.4,152.7L700.5,152.3L699.6,151.8L698.7,151.4L697.9,150.9L697.1,150.3L696.3,149.8L695.5,149.2L694.7,148.6L694.0,148.1L693.3,147.6L692.7,147.1L692.2,146.7L691.7,146.4L691.4,146.1L691.0,145.8L690.7,145.5L690.4,145.2L690.1,145.0L689.7,144.7L689.3,144.5L688.9,144.3L688.6,144.1L688.2,143.9L687.8,143.7L687.4,143.5L687.1,143.2L686.7,142.9L686.3,142.5L685.9,142.1L685.5,141.7L685.1,141.3L684.7,140.8L684.3,140.3L684.0,139.8L683.7,139.3L683.4,138.7L683.1,138.1L682.8,137.5L682.5,136.8L682.3,136.2L682.1,135.6L681.8,135.0L681.6,134.4L681.4,134.0L681.2,133.5L681.1,133.1L680.9,132.7L680.8,132.3L680.6,132.0L680.3,131.7L680.0,131.4L679.7,131.2L679.3,131.0L679.0,130.9L678.5,130.8L678.1,130.7L677.6,130.6L677.0,130.4L676.4,130.2L675.7,130.0L675.0,129.7L674.2,129.5L673.3,129.2L672.4,128.9L671.5,128.6L670.7,128.2L669.8,127.8L668.9,127.4L668.0,126.9L667.0,126.4L666.1,125.9L665.2,125.4L664.3,124.8L663.4,124.2L662.5,123.6L661.7,122.9L660.9,122.2L660.1,121.5L659.4,120.7L658.6,120.0L657.9,119.2L657.2,118.4L656.5,117.5L655.8,116.7L655.1,115.8L654.5,114.9L653.8,114.0L653.2,113.1L652.7,112.1L652.1,111.2L651.7,110.3L651.2,109.4L650.9,108.5L650.6,107.6L650.3,106.7L650.0,105.8L649.8,104.9L649.6,104.0L649.5,103.1L649.4,102.1L649.3,101.2L649.2,100.3L649.2,99.3L649.2,98.4L649.3,97.5L649.4,96.6L649.5,95.8L649.6,95.0L649.8,94.3L650.0,93.6L650.3,93.0L650.6,92.3L650.9,91.7L651.2,91.0L651.7,90.4L652.1,89.7L652.7,89.0L653.3,88.3L653.9,87.6L654.6,86.9L655.2,86.2L655.9,85.5L656.5,84.9L657.1,84.4L657.7,83.8L658.3,83.3L658.9,82.8L659.6,82.4L660.2,81.9L660.7,81.5L661.3,81.1L661.9,80.7L662.3,80.3L662.8,79.9L663.2,79.5L663.7,79.2L664.2,78.9L664.8,78.6 Z" fill="none" stroke="#000" stroke-width="1.9" stroke-linejoin="round" stroke-linecap="round"/>
<path d="M517.0,70.0L517.1,69.6L517.4,69.0L517.7,68.5L518.1,67.9L518.5,67.3L519.0,66.7L519.5,66.2L520.0,65.7L520.5,65.2L521.0,64.7L521.5,64.3L522.1,64.0L522.7,63.7L523.3,63.4L524.0,63.1L524.7,62.9L525.4,62.6L526.2,62.3L527.1,62.0L527.9,61.7L528.8,61.5L529.7,61.2L530.6,61.0L531.5,60.8L532.4,60.7L533.2,60.5L534.1,60.4L534.9,60.3L535.8,60.2L536.6,60.2L537.5,60.2L538.3,60.1L539.2,60.1L540.0,60.1L540.9,60.1L541.8,60.2L542.6,60.2L543.5,60.3L544.3,60.4L545.1,60.5L545.9,60.6L546.8,60.7L547.6,60.9L548.4,61.1L549.2,61.3L549.9,61.4L550.6,61.6L551.3,61.8L551.9,62.0L552.5,62.2L553.1,62.4L553.6,62.6L554.1,62.9L554.7,63.1L555.1,63.4L555.6,63.7L556.0,64.0L556.4,64.3L556.8,64.6L557.1,65.0L557.5,65.4L557.7,65.8L558.0,66.3L558.1,66.8L558.2,67.3L558.3,67.8L558.2,68.3L558.1,68.8L558.0,69.2L557.8,69.7L557.6,70.1L557.3,70.5L557.1,70.9L556.8,71.3L556.5,71.7L556.1,72.2L555.7,72.6L555.3,73.0L554.9,73.4L554.4,73.8L553.8,74.2L553.3,74.6L552.7,75.0L552.1,75.3L551.5,75.7L550.8,76.0L550.1,76.3L549.4,76.6L548.7,76.9L548.0,77.2L547.2,77.5L546.4,77.8L545.7,78.0L544.9,78.3L544.1,78.5L543.3,78.7L542.5,78.9L541.8,79.1L541.0,79.2L540.3,79.4L539.5,79.5L538.7,79.6L538.0,79.7L537.2,79.8L536.5,79.9L535.7,80.1L535.0,80.2L534.2,80.2L533.4,80.3L532.6,80.4L531.8,80.4L531.1,80.4L530.3,80.3L529.5,80.3L528.8,80.2L528.1,80.0L527.4,79.9L526.7,79.7L526.0,79.5L525.4,79.3L524.7,79.1L524.1,78.8L523.5,78.5L523.0,78.2L522.5,77.8L522.0,77.5L521.6,77.1L521.2,76.7L520.7,76.2L520.3,75.8L519.9,75.3L519.5,74.8L519.2,74.4L518.8,73.9L518.5,73.4L518.3,73.0L518.0,72.6L517.8,72.3L517.5,71.9L517.3,71.5L517.2,71.2L517.1,70.8L517.0,70.5 Z" fill="none" stroke="#ff1c1c" stroke-width="1.1" stroke-linejoin="round" stroke-linecap="round"/>
<path d="M517.3,70.1L517.5,69.8L517.9,69.4L518.3,69.0L518.9,68.6L519.4,68.3L520.0,67.9L520.6,67.6L521.2,67.3L521.7,67.0L522.2,66.8L522.7,66.7L523.3,66.5L523.8,66.2L524.4,66.0L525.0,65.7L525.7,65.5L526.4,65.2L527.1,64.9L527.9,64.7L528.8,64.4L529.6,64.2L530.4,63.9L531.2,63.7L532.0,63.6L532.8,63.4L533.6,63.3L534.4,63.2L535.2,63.1L536.0,63.0L536.8,63.0L537.6,63.0L538.4,62.9L539.2,62.9L540.0,62.9L540.8,62.9L541.6,63.0L542.4,63.0L543.2,63.1L544.0,63.2L544.8,63.2L545.5,63.4L546.3,63.5L547.0,63.6L547.8,63.8L548.5,64.0L549.2,64.2L549.8,64.3L550.5,64.5L551.0,64.7L551.6,64.9L552.1,65.1L552.6,65.2L553.0,65.4L553.4,65.6L553.7,65.8L554.0,66.0L554.3,66.2L554.6,66.4L554.8,66.6L555.0,66.8L555.2,67.0L555.3,67.2L555.4,67.4L555.4,67.5L555.5,67.6L555.5,67.7L555.4,67.8L555.4,68.0L555.3,68.2L555.2,68.5L555.1,68.8L554.9,69.1L554.7,69.4L554.5,69.7L554.3,70.0L554.0,70.3L553.7,70.7L553.4,71.0L553.0,71.3L552.6,71.6L552.2,71.9L551.8,72.3L551.2,72.6L550.7,72.9L550.1,73.2L549.6,73.5L549.0,73.8L548.3,74.1L547.7,74.3L547.0,74.6L546.3,74.9L545.6,75.1L544.8,75.4L544.1,75.6L543.3,75.8L542.6,76.0L541.9,76.2L541.2,76.3L540.5,76.5L539.7,76.6L539.0,76.7L538.3,76.9L537.6,77.0L536.8,77.1L536.1,77.2L535.3,77.3L534.6,77.4L533.9,77.5L533.2,77.5L532.5,77.6L531.8,77.6L531.2,77.6L530.5,77.5L529.9,77.5L529.2,77.4L528.6,77.3L528.0,77.2L527.4,77.0L526.8,76.9L526.3,76.7L525.8,76.5L525.4,76.3L524.9,76.0L524.5,75.8L524.0,75.5L523.6,75.2L523.1,75.0L522.6,74.7L522.1,74.5L521.6,74.2L521.1,73.9L520.6,73.6L520.1,73.3L519.7,73.0L519.3,72.7L518.9,72.4L518.5,72.1L518.2,71.9L517.8,71.6L517.6,71.4L517.3,71.1L517.2,70.8L517.2,70.5 Z" fill="none" stroke="#ff1c1c" stroke-width="1.1" stroke-linejoin="round" stroke-linecap="round"/>
<path d="M517.1,70.1L517.3,69.7L517.6,69.2L518.0,68.7L518.5,68.3L519.0,67.8L519.5,67.3L520.0,66.9L520.6,66.5L521.1,66.1L521.6,65.8L522.1,65.5L522.7,65.2L523.2,64.9L523.9,64.7L524.5,64.4L525.2,64.2L525.9,63.9L526.7,63.6L527.5,63.3L528.3,63.1L529.2,62.8L530.1,62.6L530.9,62.4L531.8,62.2L532.6,62.0L533.4,61.9L534.2,61.8L535.1,61.7L535.9,61.6L536.7,61.6L537.5,61.6L538.4,61.5L539.2,61.5L540.0,61.5L540.8,61.5L541.7,61.6L542.5,61.6L543.3,61.7L544.1,61.8L544.9,61.9L545.7,62.0L546.5,62.1L547.3,62.3L548.1,62.4L548.8,62.6L549.5,62.8L550.2,63.0L550.9,63.2L551.5,63.4L552.0,63.5L552.6,63.7L553.1,63.9L553.6,64.1L554.0,64.4L554.4,64.6L554.8,64.8L555.2,65.1L555.5,65.3L555.8,65.6L556.1,65.9L556.3,66.2L556.5,66.5L556.7,66.8L556.8,67.1L556.9,67.4L556.9,67.8L556.8,68.1L556.8,68.4L556.6,68.7L556.5,69.1L556.3,69.4L556.1,69.8L555.9,70.1L555.7,70.5L555.4,70.9L555.1,71.2L554.7,71.6L554.3,72.0L553.9,72.4L553.5,72.7L553.0,73.1L552.5,73.4L552.0,73.8L551.4,74.1L550.8,74.4L550.2,74.8L549.5,75.1L548.9,75.4L548.2,75.6L547.5,75.9L546.8,76.2L546.0,76.4L545.2,76.7L544.5,76.9L543.7,77.1L543.0,77.3L542.2,77.5L541.5,77.7L540.7,77.8L540.0,78.0L539.3,78.1L538.5,78.2L537.8,78.4L537.0,78.5L536.3,78.6L535.5,78.7L534.8,78.8L534.0,78.9L533.3,78.9L532.5,79.0L531.8,79.0L531.1,79.0L530.4,78.9L529.7,78.9L529.0,78.8L528.3,78.7L527.7,78.5L527.0,78.4L526.4,78.2L525.8,78.0L525.3,77.8L524.7,77.5L524.2,77.3L523.7,77.0L523.3,76.7L522.8,76.3L522.3,76.0L521.9,75.7L521.4,75.4L521.0,75.0L520.5,74.6L520.1,74.2L519.7,73.8L519.3,73.5L518.9,73.1L518.6,72.7L518.3,72.4L518.0,72.1L517.7,71.8L517.4,71.5L517.2,71.1L517.1,70.8L517.1,70.5 Z" fill="none" stroke="#000" stroke-width="1.8" stroke-linejoin="round" stroke-linecap="round"/>
<path d="M811.4,67.6L811.6,67.0L811.9,66.5L812.2,65.9L812.6,65.3L813.0,64.8L813.4,64.2L813.9,63.6L814.4,63.0L814.9,62.5L815.5,62.0L816.2,61.5L816.9,61.1L817.6,60.8L818.3,60.4L819.1,60.0L819.8,59.7L820.6,59.3L821.5,59.0L822.3,58.7L823.2,58.4L824.1,58.1L824.9,57.8L825.8,57.5L826.7,57.3L827.5,57.1L828.3,56.9L829.2,56.6L830.1,56.5L830.9,56.3L831.8,56.1L832.6,56.0L833.5,55.9L834.4,55.9L835.3,55.8L836.2,55.8L837.0,55.8L837.9,55.8L838.7,55.8L839.5,55.9L840.3,55.9L841.1,56.0L842.0,56.0L842.8,56.1L843.6,56.2L844.3,56.3L845.1,56.4L845.8,56.5L846.5,56.6L847.1,56.7L847.7,56.9L848.3,57.0L848.9,57.2L849.5,57.4L850.0,57.6L850.6,57.9L851.1,58.2L851.6,58.6L851.9,59.0L852.3,59.5L852.6,60.0L852.8,60.5L852.9,61.0L853.0,61.6L853.1,62.1L853.0,62.7L852.9,63.3L852.8,63.8L852.6,64.3L852.3,64.9L852.1,65.4L851.8,65.9L851.4,66.3L851.1,66.8L850.7,67.3L850.3,67.7L849.9,68.2L849.4,68.7L848.9,69.1L848.4,69.5L847.8,70.0L847.2,70.4L846.6,70.9L846.0,71.3L845.3,71.8L844.6,72.2L843.8,72.6L843.1,73.0L842.3,73.4L841.5,73.8L840.7,74.2L839.8,74.6L838.9,74.9L838.1,75.2L837.2,75.6L836.4,75.9L835.5,76.2L834.7,76.4L833.8,76.7L833.0,77.0L832.1,77.2L831.3,77.4L830.5,77.7L829.7,77.9L828.9,78.2L828.1,78.4L827.2,78.7L826.3,79.0L825.4,79.3L824.6,79.6L823.7,79.8L822.8,80.0L822.0,80.2L821.3,80.3L820.6,80.3L820.0,80.3L819.3,80.2L818.7,80.0L818.2,79.8L817.6,79.6L817.1,79.3L816.5,79.0L815.9,78.5L815.4,78.1L814.9,77.6L814.6,77.0L814.2,76.5L813.9,75.9L813.6,75.3L813.4,74.8L813.1,74.2L812.9,73.6L812.7,73.0L812.5,72.4L812.3,71.8L812.1,71.3L812.0,70.8L811.9,70.3L811.9,69.9L811.7,69.6L811.6,69.2L811.4,68.9L811.4,68.5L811.4,68.0 Z" fill="none" stroke="#ff1c1c" stroke-width="1.1" stroke-linejoin="round" stroke-linecap="round"/>
<path d="M812.2,67.9L812.4,67.6L812.8,67.2L813.2,66.8L813.7,66.5L814.3,66.1L814.9,65.8L815.4,65.5L816.0,65.2L816.6,64.9L817.2,64.6L817.8,64.3L818.4,63.9L819.1,63.6L819.7,63.3L820.4,62.9L821.1,62.6L821.9,62.3L822.6,62.0L823.4,61.7L824.2,61.4L825.1,61.1L825.9,60.9L826.7,60.6L827.5,60.4L828.3,60.2L829.1,60.0L829.9,59.8L830.7,59.6L831.5,59.4L832.3,59.3L833.1,59.2L833.8,59.1L834.6,59.0L835.4,59.0L836.2,59.0L837.0,59.0L837.8,59.0L838.6,59.0L839.4,59.1L840.2,59.1L840.9,59.2L841.7,59.2L842.5,59.3L843.2,59.4L843.9,59.4L844.6,59.5L845.3,59.6L845.9,59.7L846.5,59.9L847.0,60.0L847.5,60.1L848.0,60.2L848.4,60.4L848.7,60.5L849.0,60.6L849.2,60.8L849.3,60.9L849.5,61.1L849.6,61.2L849.7,61.4L849.8,61.6L849.8,61.7L849.8,61.9L849.9,62.1L849.8,62.3L849.8,62.5L849.7,62.8L849.6,63.1L849.5,63.5L849.3,63.8L849.1,64.2L848.8,64.5L848.6,64.9L848.3,65.2L848.0,65.6L847.6,65.9L847.2,66.3L846.8,66.7L846.4,67.1L845.9,67.4L845.3,67.8L844.8,68.2L844.2,68.6L843.6,69.0L842.9,69.4L842.2,69.8L841.6,70.2L840.9,70.6L840.1,70.9L839.4,71.3L838.6,71.6L837.8,71.9L837.0,72.2L836.1,72.5L835.3,72.8L834.5,73.1L833.7,73.4L832.9,73.7L832.1,73.9L831.2,74.1L830.4,74.4L829.6,74.6L828.8,74.8L827.9,75.1L827.1,75.4L826.2,75.7L825.3,76.0L824.4,76.3L823.6,76.5L822.9,76.7L822.2,76.9L821.6,77.0L821.1,77.1L820.6,77.1L820.2,77.1L819.9,77.0L819.6,77.0L819.3,76.9L819.0,76.7L818.6,76.5L818.3,76.3L818.0,76.1L817.6,75.8L817.3,75.4L816.8,75.0L816.4,74.7L815.9,74.3L815.5,73.9L815.1,73.6L814.6,73.2L814.2,72.7L813.8,72.3L813.4,71.9L813.1,71.4L812.8,71.0L812.5,70.6L812.2,70.2L812.0,69.9L811.8,69.5L811.8,69.2L811.8,68.8L811.8,68.5L812.0,68.2 Z" fill="none" stroke="#ff1c1c" stroke-width="1.1" stroke-linejoin="round" stroke-linecap="round"/>
<path d="M811.8,67.7L812.0,67.3L812.3,66.9L812.7,66.4L813.2,65.9L813.6,65.4L814.1,65.0L814.7,64.5L815.2,64.1L815.8,63.7L816.4,63.3L817.0,62.9L817.7,62.5L818.3,62.2L819.0,61.8L819.8,61.5L820.5,61.1L821.3,60.8L822.0,60.5L822.9,60.2L823.7,59.9L824.6,59.6L825.4,59.3L826.2,59.1L827.1,58.8L827.9,58.6L828.7,58.4L829.6,58.2L830.4,58.0L831.2,57.9L832.0,57.7L832.8,57.6L833.7,57.5L834.5,57.4L835.3,57.4L836.2,57.4L837.0,57.4L837.8,57.4L838.7,57.4L839.5,57.5L840.3,57.5L841.0,57.6L841.8,57.6L842.6,57.7L843.4,57.8L844.1,57.9L844.9,57.9L845.5,58.1L846.2,58.2L846.8,58.3L847.4,58.4L847.9,58.6L848.4,58.7L848.9,58.9L849.4,59.1L849.8,59.3L850.1,59.5L850.4,59.8L850.7,60.0L850.9,60.4L851.1,60.7L851.3,61.0L851.4,61.4L851.4,61.8L851.5,62.1L851.4,62.5L851.4,62.9L851.2,63.3L851.1,63.7L850.9,64.2L850.7,64.6L850.4,65.0L850.1,65.4L849.8,65.8L849.5,66.2L849.1,66.7L848.7,67.1L848.3,67.5L847.9,67.9L847.4,68.3L846.8,68.7L846.3,69.1L845.7,69.6L845.1,70.0L844.4,70.4L843.7,70.8L843.0,71.2L842.3,71.6L841.6,72.0L840.8,72.4L840.0,72.7L839.2,73.1L838.4,73.4L837.5,73.7L836.7,74.0L835.8,74.4L835.0,74.6L834.2,74.9L833.3,75.2L832.5,75.4L831.7,75.7L830.9,75.9L830.0,76.1L829.2,76.4L828.4,76.6L827.6,76.9L826.7,77.2L825.8,77.5L824.9,77.8L824.1,78.0L823.3,78.3L822.5,78.5L821.8,78.6L821.2,78.7L820.6,78.7L820.1,78.7L819.6,78.6L819.2,78.5L818.7,78.3L818.3,78.2L817.9,77.9L817.4,77.7L817.0,77.3L816.5,76.9L816.1,76.5L815.7,76.0L815.3,75.6L814.9,75.1L814.6,74.6L814.2,74.2L813.9,73.7L813.5,73.2L813.2,72.6L812.9,72.1L812.7,71.6L812.5,71.1L812.3,70.7L812.1,70.3L811.9,69.9L811.8,69.5L811.7,69.2L811.6,68.8L811.6,68.5L811.7,68.1 Z" fill="none" stroke="#000" stroke-width="1.8" stroke-linejoin="round" stroke-linecap="round"/>
<path d="M541.4,198.9L541.1,198.6L540.7,198.2L540.4,197.8L540.0,197.3L539.5,196.7L539.1,196.1L538.6,195.5L538.2,194.8L537.8,194.2L537.4,193.6L536.9,192.9L536.6,192.1L536.2,191.3L535.9,190.4L535.6,189.5L535.3,188.6L535.1,187.7L534.8,186.7L534.6,185.7L534.4,184.6L534.2,183.6L534.0,182.5L533.9,181.4L533.7,180.4L533.6,179.3L533.5,178.3L533.5,177.3L533.4,176.2L533.4,175.2L533.4,174.2L533.4,173.2L533.4,172.2L533.4,171.2L533.5,170.2L533.5,169.3L533.6,168.3L533.7,167.4L533.8,166.5L533.9,165.5L534.1,164.6L534.2,163.6L534.4,162.6L534.6,161.6L534.8,160.6L535.0,159.6L535.2,158.7L535.4,157.8L535.6,157.0L535.8,156.3L536.0,155.6L536.2,155.0L536.4,154.5L536.6,153.9L536.8,153.4L537.0,153.0L537.2,152.5L537.4,152.1L537.6,151.7L537.7,151.3L537.9,150.8L538.1,150.4L538.4,150.0L538.8,149.5L539.3,149.2L539.8,148.9L540.3,148.8L540.9,148.7L541.4,148.7L542.0,148.7L542.5,148.8L543.1,148.9L543.6,149.2L544.0,149.5L544.4,149.9L544.7,150.3L545.0,150.7L545.2,151.1L545.5,151.6L545.7,152.0L545.9,152.5L546.2,153.0L546.4,153.5L546.7,154.1L547.0,154.7L547.3,155.4L547.6,156.1L547.9,156.8L548.1,157.6L548.4,158.4L548.6,159.2L548.8,160.1L549.0,160.9L549.2,161.8L549.4,162.8L549.6,163.7L549.7,164.6L549.9,165.5L550.0,166.4L550.1,167.4L550.2,168.3L550.2,169.3L550.3,170.2L550.3,171.2L550.4,172.2L550.4,173.2L550.4,174.2L550.4,175.2L550.4,176.2L550.3,177.3L550.2,178.3L550.2,179.3L550.1,180.4L549.9,181.4L549.8,182.5L549.6,183.6L549.4,184.6L549.2,185.7L549.0,186.7L548.7,187.7L548.5,188.6L548.2,189.5L547.9,190.4L547.6,191.3L547.2,192.1L546.9,192.9L546.5,193.6L546.1,194.3L545.6,194.9L545.2,195.5L544.8,196.1L544.3,196.6L543.9,197.1L543.5,197.6L543.1,198.0L542.8,198.4L542.5,198.6L542.3,198.8L542.2,199.0L542.0,199.2L541.9,199.3L541.8,199.3L541.7,199.2L541.6,199.1 Z" fill="none" stroke="#ff1c1c" stroke-width="1.1" stroke-linejoin="round" stroke-linecap="round"/>
<path d="M541.5,198.8L541.3,198.4L541.1,198.0L540.9,197.5L540.6,196.9L540.4,196.2L540.1,195.5L539.9,194.8L539.7,194.1L539.5,193.4L539.3,192.7L539.1,191.9L538.8,191.2L538.5,190.4L538.2,189.6L537.9,188.8L537.6,188.0L537.4,187.1L537.2,186.1L537.0,185.2L536.7,184.2L536.6,183.1L536.4,182.1L536.2,181.1L536.1,180.1L536.0,179.1L535.9,178.1L535.9,177.1L535.8,176.1L535.8,175.1L535.8,174.2L535.8,173.2L535.8,172.2L535.8,171.3L535.9,170.4L535.9,169.4L536.0,168.5L536.1,167.6L536.2,166.7L536.3,165.8L536.4,164.9L536.6,164.0L536.7,163.1L536.9,162.1L537.1,161.1L537.3,160.2L537.5,159.3L537.8,158.4L537.9,157.6L538.1,157.0L538.3,156.4L538.5,155.8L538.7,155.3L538.9,154.8L539.1,154.4L539.2,153.9L539.4,153.5L539.6,153.0L539.8,152.6L540.0,152.2L540.1,151.8L540.2,151.6L540.3,151.4L540.4,151.3L540.5,151.2L540.6,151.2L540.8,151.1L541.1,151.1L541.4,151.1L541.7,151.1L542.0,151.1L542.2,151.2L542.4,151.3L542.5,151.3L542.6,151.5L542.8,151.6L542.9,151.9L543.1,152.2L543.3,152.6L543.5,153.1L543.8,153.6L544.0,154.1L544.3,154.6L544.6,155.1L544.9,155.7L545.1,156.3L545.4,157.0L545.6,157.6L545.9,158.3L546.1,159.0L546.3,159.8L546.5,160.6L546.7,161.5L546.9,162.3L547.1,163.2L547.2,164.1L547.4,164.9L547.5,165.8L547.6,166.7L547.7,167.6L547.8,168.5L547.9,169.4L547.9,170.3L547.9,171.3L548.0,172.2L548.0,173.2L548.0,174.2L548.0,175.1L548.0,176.1L547.9,177.1L547.9,178.1L547.8,179.1L547.7,180.1L547.5,181.1L547.4,182.1L547.2,183.1L547.0,184.2L546.8,185.2L546.6,186.1L546.4,187.1L546.2,188.0L545.9,188.8L545.6,189.6L545.3,190.4L545.0,191.2L544.7,191.9L544.5,192.7L544.2,193.4L544.0,194.1L543.8,194.8L543.6,195.4L543.3,196.0L543.1,196.6L542.8,197.1L542.6,197.6L542.4,198.1L542.2,198.4L542.1,198.7L542.0,198.9L541.9,199.1L541.8,199.1L541.8,199.1L541.8,199.1L541.7,199.0 Z" fill="none" stroke="#ff1c1c" stroke-width="1.1" stroke-linejoin="round" stroke-linecap="round"/>
<path d="M541.4,198.8L541.2,198.5L540.9,198.1L540.6,197.6L540.3,197.1L540.0,196.5L539.6,195.8L539.3,195.2L539.0,194.5L538.6,193.8L538.3,193.1L538.0,192.4L537.7,191.6L537.3,190.8L537.0,190.0L536.7,189.2L536.5,188.3L536.2,187.4L536.0,186.4L535.8,185.4L535.6,184.4L535.4,183.3L535.2,182.3L535.1,181.3L534.9,180.2L534.8,179.2L534.7,178.2L534.7,177.2L534.6,176.2L534.6,175.2L534.6,174.2L534.6,173.2L534.6,172.2L534.6,171.2L534.7,170.3L534.7,169.4L534.8,168.4L534.9,167.5L535.0,166.6L535.1,165.7L535.2,164.8L535.4,163.8L535.6,162.8L535.8,161.8L536.0,160.9L536.2,159.9L536.4,159.0L536.6,158.1L536.8,157.3L537.0,156.6L537.2,156.0L537.4,155.4L537.6,154.9L537.8,154.4L538.0,153.9L538.1,153.4L538.3,153.0L538.5,152.6L538.7,152.1L538.8,151.7L539.0,151.3L539.2,151.0L539.4,150.7L539.6,150.4L539.9,150.2L540.2,150.1L540.6,150.0L541.0,149.9L541.4,149.9L541.8,149.9L542.3,150.0L542.6,150.1L543.0,150.2L543.3,150.4L543.5,150.7L543.8,151.0L544.0,151.3L544.2,151.7L544.4,152.1L544.6,152.5L544.8,153.0L545.1,153.5L545.4,154.0L545.7,154.6L545.9,155.2L546.2,155.9L546.5,156.5L546.8,157.2L547.0,158.0L547.2,158.7L547.5,159.5L547.7,160.3L547.9,161.2L548.1,162.1L548.2,163.0L548.4,163.9L548.6,164.8L548.7,165.7L548.8,166.6L548.9,167.5L549.0,168.4L549.1,169.3L549.1,170.3L549.1,171.2L549.2,172.2L549.2,173.2L549.2,174.2L549.2,175.2L549.2,176.2L549.1,177.2L549.1,178.2L549.0,179.2L548.9,180.2L548.7,181.3L548.6,182.3L548.4,183.3L548.2,184.4L548.0,185.4L547.8,186.4L547.6,187.4L547.3,188.3L547.1,189.2L546.8,190.0L546.5,190.9L546.1,191.6L545.8,192.4L545.5,193.1L545.2,193.8L544.8,194.5L544.5,195.1L544.2,195.7L543.8,196.3L543.5,196.9L543.2,197.4L542.9,197.8L542.6,198.2L542.4,198.5L542.2,198.8L542.1,199.0L542.0,199.1L541.9,199.2L541.8,199.2L541.7,199.2L541.6,199.0 Z" fill="none" stroke="#000" stroke-width="1.8" stroke-linejoin="round" stroke-linecap="round"/>
<path d="M829.3,199.6L820.5,193.9L820.7,176.9L822.9,164.3L825.1,155.0L826.8,146.1L834.4,143.9L836.9,155.0L839.0,164.3L840.5,172.1L843.1,176.9L842.4,193.3L835.3,198.7L833.4,199.7 Z" fill="none" stroke="#ff1c1c" stroke-width="1.1" stroke-linejoin="round" stroke-linecap="round"/>
<path d="M829.9,198.6L825.1,192.6L825.5,177.4L827.6,165.2L829.8,156.0L831.1,148.2L830.4,146.6L832.2,156.0L834.3,165.3L836.0,173.6L838.3,177.4L837.8,191.9L833.8,197.1L833.1,198.6 Z" fill="none" stroke="#ff1c1c" stroke-width="1.1" stroke-linejoin="round" stroke-linecap="round"/>
<path d="M829.6,199.1L822.8,193.3L823.1,177.2L825.2,164.8L827.4,155.5L829.0,147.1L832.4,145.3L834.5,155.5L836.7,164.8L838.2,172.8L840.7,177.2L840.1,192.6L834.5,197.9L833.3,199.1 Z" fill="none" stroke="#000" stroke-width="1.7" stroke-linejoin="round" stroke-linecap="round"/>
<path d="M127.4,323.7L128.1,323.7L129.0,323.7L129.8,323.6L130.7,323.7L131.6,323.7L132.3,323.9L133.0,324.2L133.7,324.5L134.2,324.9L134.8,325.3L135.3,325.8L135.8,326.4L136.3,327.0L136.7,327.7L137.1,328.4L137.4,329.2L137.8,330.0L138.1,330.8L138.3,331.7L138.6,332.6L138.8,333.5L138.9,334.5L139.1,335.4L139.3,336.3L139.4,337.1L139.5,337.9L139.6,338.7L139.8,339.4L140.0,340.1L140.3,340.7L140.6,341.2L141.1,341.7L141.5,342.1L142.1,342.5L142.6,342.8L143.2,343.2L143.8,343.5L144.5,343.7L145.3,343.9L146.0,344.1L146.6,344.3L147.2,344.7L147.6,345.1L148.0,345.5L148.4,346.0L148.6,346.5L148.8,347.1L148.9,347.6L149.0,348.2L148.9,348.9L148.8,349.6L148.6,350.3L148.4,350.9L148.2,351.6L147.8,352.2L147.5,352.8L147.1,353.3L146.6,353.9L146.1,354.5L145.7,355.0L145.2,355.6L144.8,356.2L144.3,356.8L143.8,357.3L143.3,357.9L142.7,358.5L142.2,359.1L141.6,359.7L141.1,360.4L140.5,361.0L139.9,361.5L139.3,362.0L138.6,362.3L138.0,362.5L137.3,362.6L136.6,362.7L135.9,362.8L135.3,362.9L134.7,363.0L134.0,363.1L133.4,363.1L132.8,363.2L132.3,363.3L131.9,363.4L131.6,363.7L131.4,364.0L131.3,364.4L131.2,364.8L131.1,365.1L130.9,365.4L130.5,365.6L130.1,365.6L129.7,365.7L129.2,365.7L128.8,365.8L128.4,365.9L128.1,366.1L127.8,366.2L127.6,366.4L127.4,366.6L127.2,366.9L126.9,367.4L126.7,368.0L126.4,368.9L126.2,369.8L126.0,370.8L125.7,371.6L125.4,372.3L125.1,372.8L124.8,373.3L124.5,373.6L124.1,373.9L123.8,374.0L123.5,374.1L123.1,374.0L122.8,373.8L122.4,373.4L122.1,373.1L121.8,372.7L121.5,372.3L121.3,372.0L121.1,371.7L120.9,371.4L120.8,371.1L120.6,370.7L120.5,370.3L120.4,369.9L120.2,369.3L120.1,368.8L120.0,368.2L119.8,367.7L119.5,367.4L119.1,367.1L118.7,367.0L118.3,366.9L117.7,366.9L117.2,366.9L116.5,366.9L115.8,367.0L115.0,367.1L114.1,367.3L113.2,367.5L112.4,367.6L111.6,367.6L110.9,367.5L110.2,367.2L109.5,367.0L108.9,366.6L108.2,366.3L107.7,365.9L107.1,365.5L106.6,365.0L106.1,364.5L105.6,364.0L105.1,363.4L104.7,362.9L104.3,362.4L103.8,362.0L103.4,361.5L103.0,361.0L102.7,360.5L102.5,360.0L102.4,359.5L102.3,358.9L102.3,358.4L102.4,357.9L102.5,357.4L102.7,357.0L103.0,356.8L103.4,356.6L103.8,356.5L104.3,356.4L104.6,356.3L104.9,356.0L105.0,355.7L105.1,355.4L105.0,355.0L105.0,354.5L104.8,354.1L104.7,353.6L104.5,353.0L104.2,352.4L103.8,351.7L103.4,351.0L103.1,350.3L102.7,349.6L102.3,348.8L101.9,348.0L101.5,347.1L101.1,346.2L100.8,345.4L100.5,344.7L100.4,344.0L100.3,343.3L100.3,342.7L100.4,342.1L100.5,341.6L100.7,341.2L101.0,340.8L101.3,340.5L101.7,340.3L102.2,340.1L102.7,340.0L103.2,339.9L103.8,339.9L104.6,340.0L105.4,340.1L106.2,340.3L106.9,340.5L107.7,340.7L108.3,341.0L108.9,341.3L109.5,341.6L110.0,341.9L110.6,342.2L111.1,342.5L111.6,342.7L112.2,343.0L112.7,343.3L113.2,343.5L113.6,343.5L114.1,343.5L114.5,343.3L114.8,342.9L115.2,342.5L115.5,341.9L115.8,341.3L116.0,340.7L116.3,340.0L116.4,339.2L116.6,338.4L116.7,337.5L116.9,336.6L117.0,335.8L117.2,334.9L117.4,334.1L117.7,333.3L117.9,332.4L118.2,331.6L118.5,330.8L118.9,330.0L119.4,329.2L119.9,328.4L120.4,327.7L121.0,327.0L121.5,326.4L122.0,325.9L122.5,325.4L123.0,325.0L123.5,324.7L124.0,324.4L124.4,324.1L124.9,323.9L125.4,323.8L125.8,323.8L126.3,323.7L126.8,323.7 Z" fill="none" stroke="#2020f2" stroke-width="1.5" stroke-linejoin="round" stroke-linecap="round"/>
<path d="M406.0,337.9L406.6,337.9L407.1,338.0L407.6,338.1L408.1,338.2L408.6,338.5L409.0,338.7L409.5,339.0L409.9,339.4L410.3,339.8L410.7,340.2L411.1,340.7L411.5,341.2L411.9,341.7L412.3,342.3L412.7,342.8L413.2,343.4L413.6,344.1L414.0,344.6L414.3,345.2L414.7,345.9L415.0,346.5L415.3,347.1L415.6,347.6L415.9,348.1L416.2,348.5L416.4,348.8L416.6,349.1L416.8,349.3L417.1,349.5L417.4,349.6L417.8,349.6L418.3,349.5L418.9,349.3L419.4,349.2L419.9,349.1L420.4,349.1L420.7,349.2L421.0,349.4L421.2,349.6L421.5,349.9L421.7,350.2L421.9,350.6L422.0,350.9L422.2,351.4L422.4,351.8L422.5,352.2L422.7,352.7L422.8,353.0L423.0,353.3L423.2,353.6L423.4,353.8L423.6,354.0L423.8,354.3L423.8,354.5L423.8,354.8L423.7,355.2L423.5,355.5L423.3,355.9L423.2,356.2L423.1,356.5L423.3,356.8L423.5,357.0L423.8,357.3L424.1,357.5L424.3,357.7L424.3,358.0L424.3,358.2L424.1,358.5L423.9,358.8L423.7,359.0L423.3,359.3L422.8,359.5L422.3,359.6L421.5,359.7L420.7,359.8L419.8,359.8L419.1,359.9L418.4,360.0L417.8,360.0L417.2,360.1L416.7,360.2L416.3,360.2L416.0,360.3L415.9,360.4L416.1,360.6L416.5,360.7L417.1,360.8L417.7,361.0L418.3,361.2L418.9,361.4L419.4,361.7L419.9,362.0L420.4,362.3L420.9,362.6L421.4,363.0L421.9,363.4L422.3,363.9L422.9,364.3L423.4,364.9L423.8,365.4L424.1,365.9L424.3,366.4L424.3,366.8L424.2,367.3L423.9,367.7L423.6,368.1L423.2,368.5L422.8,368.8L422.5,369.2L422.1,369.5L421.6,369.8L421.2,370.1L420.8,370.5L420.4,370.8L420.0,371.2L419.7,371.6L419.3,372.0L419.0,372.4L418.7,372.9L418.4,373.3L418.1,373.7L417.9,374.1L417.7,374.5L417.5,374.9L417.2,375.3L416.9,375.8L416.6,376.2L416.1,376.6L415.7,377.1L415.3,377.5L414.8,377.9L414.4,378.2L414.1,378.5L413.7,378.8L413.4,379.0L413.1,379.2L412.8,379.3L412.5,379.2L412.2,379.0L411.9,378.7L411.7,378.3L411.4,377.8L411.2,377.3L411.0,376.7L410.8,376.2L410.6,375.7L410.4,375.1L410.3,374.5L410.1,373.9L410.0,373.3L409.9,372.6L409.7,372.0L409.6,371.3L409.5,370.6L409.4,369.9L409.3,369.3L409.3,368.7L409.3,368.2L409.3,367.6L409.3,367.1L409.2,366.7L409.0,366.4L408.8,366.2L408.5,366.1L408.1,366.2L407.7,366.3L407.2,366.4L406.5,366.6L405.8,366.8L404.9,367.0L403.9,367.3L402.8,367.7L401.7,368.0L400.6,368.3L399.5,368.7L398.4,369.0L397.2,369.4L396.0,369.7L394.9,370.0L393.7,370.3L392.5,370.6L391.4,370.9L390.2,371.3L389.0,371.5L387.9,371.7L386.8,371.8L385.7,371.8L384.6,371.7L383.5,371.6L382.5,371.3L381.6,371.1L380.9,370.8L380.3,370.5L379.9,370.1L379.5,369.7L379.3,369.3L379.2,368.8L379.2,368.3L379.2,367.9L379.4,367.4L379.6,366.9L379.9,366.4L380.3,365.9L380.9,365.4L381.5,364.9L382.3,364.4L383.2,363.9L384.1,363.4L385.0,362.9L385.8,362.4L386.6,361.9L387.4,361.4L388.2,360.9L389.0,360.4L389.6,359.9L390.2,359.5L390.7,359.1L391.2,358.7L391.6,358.4L391.9,358.1L392.1,357.8L392.2,357.5L392.2,357.2L392.0,356.8L391.8,356.5L391.5,356.2L391.3,355.8L391.2,355.5L391.3,355.2L391.5,354.8L391.7,354.5L392.0,354.1L392.3,353.8L392.7,353.5L393.1,353.3L393.6,353.1L394.1,353.0L394.6,352.8L395.2,352.7L395.7,352.5L396.2,352.4L396.7,352.3L397.2,352.2L397.8,352.1L398.2,351.9L398.6,351.6L399.0,351.1L399.3,350.5L399.5,349.8L399.8,349.1L399.9,348.4L400.1,347.6L400.2,346.8L400.3,346.0L400.4,345.1L400.4,344.2L400.5,343.4L400.6,342.7L400.8,342.0L400.9,341.3L401.1,340.7L401.4,340.1L401.7,339.6L402.1,339.2L402.6,338.8L403.3,338.5L404.0,338.3L404.7,338.1L405.4,338.0 Z" fill="none" stroke="#a373f5" stroke-width="1.5" stroke-linejoin="round" stroke-linecap="round"/>
<path d="M700.5,356.5L700.3,356.0L700.0,355.5L699.6,354.8L699.2,354.0L698.8,353.3L698.5,352.5L698.3,351.8L698.2,351.1L698.1,350.3L698.0,349.5L698.0,348.8L698.0,348.1L698.1,347.4L698.3,346.8L698.5,346.2L698.8,345.6L699.0,345.1L699.3,344.6L699.6,344.3L699.9,344.0L700.2,343.8L700.5,343.7L700.8,343.6L701.2,343.7L701.5,343.7L701.9,343.9L702.3,344.1L702.6,344.3L703.0,344.7L703.2,345.1L703.5,345.7L703.7,346.4L703.8,347.1L704.0,347.9L704.1,348.8L704.2,349.6L704.3,350.4L704.4,351.3L704.5,352.1L704.6,353.0L704.6,353.8L704.6,354.5L704.6,355.2L704.5,355.9L704.4,356.5L704.3,357.0L704.3,357.4L704.4,357.5L704.7,357.3L705.2,357.0L705.7,356.4L706.2,355.8L706.8,355.1L707.4,354.5L708.0,353.9L708.7,353.3L709.4,352.7L710.1,352.1L710.8,351.5L711.3,351.1L711.9,350.7L712.3,350.4L712.8,350.1L713.2,349.9L713.5,349.8L713.8,349.8L714.1,349.9L714.4,350.1L714.6,350.3L714.8,350.6L714.8,351.0L714.8,351.4L714.7,351.7L714.4,352.2L714.1,352.6L713.7,353.1L713.3,353.5L712.8,354.0L712.3,354.5L711.7,355.1L711.1,355.6L710.5,356.2L710.1,356.6L709.9,357.0L709.9,357.2L710.0,357.4L710.3,357.5L710.7,357.6L711.3,357.6L711.8,357.7L712.6,357.7L713.6,357.8L714.6,357.8L715.7,357.8L716.6,357.9L717.3,358.0L717.7,358.1L718.0,358.3L718.2,358.4L718.2,358.6L718.2,358.8L718.1,359.0L717.9,359.1L717.6,359.2L717.2,359.3L716.8,359.4L716.3,359.5L715.8,359.7L715.2,359.8L714.3,359.8L713.5,359.9L712.7,360.0L712.1,360.1L711.8,360.2L712.0,360.4L712.4,360.6L713.1,360.8L713.8,361.0L714.4,361.2L714.8,361.4L715.0,361.7L715.0,362.0L714.9,362.3L714.8,362.6L714.6,362.8L714.3,362.9L713.9,362.9L713.3,362.7L712.6,362.5L711.9,362.3L711.5,362.3L711.3,362.4L711.6,362.8L712.2,363.4L712.9,364.2L713.8,364.9L714.6,365.7L715.3,366.4L715.9,367.0L716.6,367.6L717.2,368.2L717.8,368.8L718.3,369.3L718.8,369.8L719.1,370.3L719.3,370.7L719.4,371.1L719.5,371.5L719.5,371.8L719.5,372.1L719.3,372.3L719.2,372.5L718.9,372.7L718.6,372.8L718.2,372.8L717.8,372.8L717.2,372.7L716.5,372.5L715.8,372.3L714.9,372.0L714.1,371.7L713.3,371.3L712.5,370.9L711.6,370.5L710.8,370.0L709.9,369.4L709.1,368.9L708.4,368.3L707.7,367.8L707.1,367.2L706.6,366.6L706.1,366.0L705.7,365.4L705.2,364.9L704.8,364.3L704.5,363.8L704.2,363.2L704.0,362.7L703.7,362.5L703.4,362.4L703.2,362.7L703.0,363.2L702.7,363.8L702.5,364.6L702.3,365.5L702.0,366.4L701.6,367.4L701.3,368.5L700.9,369.6L700.5,370.9L700.0,372.1L699.5,373.3L698.9,374.4L698.4,375.6L697.7,376.7L697.1,377.9L696.3,379.1L695.5,380.2L694.7,381.4L693.7,382.6L692.7,383.8L691.7,385.0L690.6,386.1L689.6,387.1L688.6,388.0L687.6,388.9L686.6,389.7L685.6,390.5L684.6,391.1L683.7,391.6L682.8,391.9L682.0,392.1L681.2,392.2L680.5,392.3L679.9,392.2L679.2,392.1L678.7,391.9L678.1,391.6L677.7,391.2L677.3,390.7L677.0,390.2L676.8,389.6L676.7,388.9L676.7,388.0L676.9,387.1L677.1,386.1L677.4,385.1L677.8,384.2L678.2,383.2L678.8,382.2L679.4,381.2L680.1,380.2L680.9,379.2L681.7,378.2L682.6,377.2L683.5,376.2L684.6,375.2L685.6,374.2L686.6,373.3L687.6,372.3L688.6,371.3L689.7,370.4L690.7,369.4L691.7,368.5L692.7,367.7L693.6,366.9L694.4,366.2L695.2,365.5L696.0,364.9L696.8,364.4L697.4,363.9L698.0,363.4L698.6,363.0L699.1,362.6L699.6,362.3L699.9,361.9L700.1,361.7L700.0,361.4L699.6,361.2L699.0,361.1L698.3,361.0L697.4,360.9L696.4,360.8L695.5,360.6L694.6,360.5L693.7,360.3L692.7,360.1L691.6,359.9L690.6,359.7L689.6,359.5L688.6,359.2L687.5,359.0L686.5,358.8L685.4,358.5L684.5,358.3L683.7,358.0L683.0,357.7L682.4,357.4L681.9,357.0L681.5,356.7L681.1,356.3L680.9,356.0L680.8,355.7L680.8,355.3L680.9,354.9L681.1,354.6L681.4,354.3L681.7,354.0L682.2,353.8L682.7,353.7L683.4,353.5L684.1,353.4L684.9,353.4L685.7,353.3L686.6,353.3L687.5,353.4L688.6,353.4L689.7,353.5L690.7,353.6L691.6,353.7L692.4,353.8L693.2,353.9L694.0,354.0L694.7,354.1L695.4,354.3L696.0,354.5L696.7,354.9L697.4,355.3L698.0,355.8L698.6,356.3L699.1,356.7L699.5,357.0L699.8,357.1L700.1,357.2L700.3,357.1L700.5,357.0L700.5,356.8 Z" fill="none" stroke="#7c7cff" stroke-width="1.5" stroke-linejoin="round" stroke-linecap="round"/>
<path d="M123.0,644.0L122.8,643.6L122.5,643.1L122.1,642.6L121.6,641.9L121.0,641.2L120.5,640.5L119.9,639.8L119.3,639.1L118.7,638.3L118.0,637.5L117.3,636.6L116.5,635.6L115.8,634.4L114.9,633.1L114.1,631.8L113.2,630.4L112.4,629.0L111.6,627.7L110.9,626.3L110.2,625.0L109.5,623.6L108.8,622.3L108.2,621.0L107.7,619.7L107.1,618.5L106.7,617.3L106.2,616.2L105.8,615.0L105.5,613.9L105.2,612.8L104.9,611.7L104.7,610.7L104.5,609.6L104.3,608.6L104.2,607.7L104.2,606.9L104.3,606.3L104.4,605.7L104.6,605.3L104.8,604.9L105.1,604.6L105.5,604.4L105.9,604.3L106.4,604.3L106.9,604.3L107.5,604.4L108.0,604.6L108.6,604.9L109.3,605.3L109.9,605.8L110.6,606.4L111.2,607.0L111.9,607.7L112.6,608.4L113.3,609.1L113.9,610.0L114.6,610.9L115.3,611.7L115.9,612.6L116.5,613.3L117.1,614.0L117.6,614.6L118.1,615.2L118.6,615.8L119.1,616.3L119.5,616.8L120.0,617.2L120.4,617.5L120.8,617.7L121.2,618.0L121.6,618.3L122.0,618.8L122.3,619.3L122.6,619.9L122.8,620.5L123.0,621.2L123.2,621.9L123.5,622.7L123.7,623.6L123.9,624.5L124.1,625.6L124.3,626.6L124.5,627.6L124.6,628.6L124.8,629.6L125.0,630.6L125.1,631.6L125.2,632.6L125.3,633.6L125.4,634.6L125.5,635.6L125.6,636.7L125.6,637.7L125.6,638.7L125.6,639.7L125.6,640.5L125.6,641.2L125.6,641.7L125.5,642.2L125.4,642.6L125.3,643.0L125.2,643.5L125.1,643.9L125.0,644.4L124.9,644.9L124.8,645.4L124.7,645.9L124.6,646.4L124.6,647.0L124.5,647.6L124.5,648.3L124.4,649.0L124.3,649.7L124.2,650.4L124.1,651.1L124.0,651.9L123.9,652.8L123.8,653.5L123.6,654.2L123.5,654.8L123.2,655.3L123.0,655.7L122.7,656.0L122.5,656.2L122.2,656.3L122.0,656.3L121.8,656.2L121.6,655.9L121.4,655.6L121.3,655.2L121.1,654.8L121.0,654.3L120.9,653.9L120.8,653.4L120.7,652.8L120.7,652.3L120.6,651.8L120.5,651.4L120.4,650.9L120.2,650.5L120.1,650.1L119.9,649.8L119.7,649.5L119.5,649.4L119.2,649.5L118.9,649.8L118.5,650.2L118.1,650.6L117.8,650.8L117.5,650.9L117.3,650.6L117.2,650.2L117.1,649.6L117.0,649.0L117.0,648.4L117.0,647.9L117.1,647.5L117.2,647.0L117.4,646.6L117.6,646.2L117.8,645.8L118.0,645.4L118.3,645.1L118.5,644.9L118.8,644.6L119.1,644.4L119.3,644.2L119.5,644.0L119.6,643.7L119.7,643.4L119.8,643.1L119.8,642.8L119.9,642.6L120.0,642.5L120.2,642.5L120.4,642.6L120.7,642.8L121.0,643.1L121.2,643.3L121.5,643.5L121.8,643.6L122.1,643.8L122.5,644.0L122.8,644.1L122.9,644.1 Z" fill="none" stroke="#2fd42f" stroke-width="1.5" stroke-linejoin="round" stroke-linecap="round"/>
<path d="M413.5,617.3L413.8,617.2L414.2,617.1L414.7,616.9L415.2,616.9L415.8,616.8L416.4,616.8L417.2,616.8L418.2,617.0L419.2,617.1L420.2,617.3L421.1,617.3L421.9,617.3L422.4,617.1L422.9,616.8L423.2,616.5L423.5,616.1L423.9,615.7L424.3,615.3L424.9,614.9L425.6,614.4L426.2,613.9L426.9,613.4L427.6,612.9L428.3,612.3L429.0,611.8L429.6,611.3L430.3,610.8L431.0,610.2L431.6,609.8L432.3,609.4L432.9,609.0L433.5,608.7L434.1,608.5L434.6,608.3L435.2,608.1L435.7,608.1L436.2,608.1L436.7,608.2L437.1,608.4L437.5,608.6L437.9,609.0L438.2,609.4L438.4,609.9L438.5,610.6L438.6,611.3L438.7,612.1L438.7,613.0L438.7,613.8L438.6,614.7L438.5,615.7L438.3,616.7L438.1,617.7L437.9,618.8L437.7,619.8L437.4,620.8L437.1,621.8L436.8,622.8L436.4,623.8L436.1,624.8L435.7,625.7L435.3,626.6L434.9,627.5L434.5,628.3L434.1,629.1L433.7,629.9L433.2,630.6L432.8,631.3L432.4,631.9L431.9,632.4L431.5,633.0L431.1,633.5L430.8,634.1L430.5,634.7L430.3,635.3L430.1,635.8L429.9,636.4L429.8,637.0L429.8,637.5L429.8,638.1L429.8,638.6L429.8,639.1L429.9,639.6L430.1,640.1L430.3,640.5L430.5,640.9L430.9,641.2L431.3,641.5L431.7,641.8L432.0,642.1L432.3,642.5L432.3,642.9L432.4,643.3L432.3,643.8L432.2,644.3L432.0,644.6L431.8,645.0L431.4,645.2L431.0,645.3L430.4,645.4L429.8,645.4L429.1,645.4L428.3,645.4L427.2,645.5L425.8,645.4L424.3,645.4L422.9,645.4L421.9,645.4L421.4,645.4L421.5,645.6L422.2,645.8L423.2,646.1L424.3,646.3L425.4,646.6L426.3,646.9L427.1,647.2L427.8,647.5L428.5,647.9L429.2,648.2L429.8,648.5L430.3,648.9L430.6,649.3L430.9,649.7L431.1,650.2L431.3,650.6L431.3,651.0L431.3,651.4L431.1,651.7L430.9,652.1L430.6,652.4L430.2,652.6L429.8,652.8L429.3,652.9L428.7,652.8L427.9,652.5L427.1,652.2L426.2,651.9L425.5,651.6L424.8,651.4L424.3,651.2L423.9,651.0L423.5,650.8L423.3,650.6L423.0,650.7L422.9,650.9L422.8,651.3L422.9,652.0L423.0,652.8L423.1,653.6L423.3,654.5L423.4,655.3L423.4,656.1L423.5,657.0L423.5,657.9L423.5,658.8L423.5,659.6L423.4,660.3L423.2,660.9L423.0,661.4L422.8,661.9L422.5,662.3L422.2,662.6L421.9,662.7L421.5,662.7L421.1,662.6L420.7,662.4L420.2,662.0L419.8,661.7L419.4,661.3L419.1,660.8L418.7,660.3L418.4,659.7L418.1,659.1L417.8,658.4L417.4,657.8L417.1,657.2L416.8,656.5L416.4,655.9L416.1,655.2L415.8,654.5L415.5,653.8L415.2,653.1L414.9,652.3L414.6,651.5L414.3,650.7L414.1,650.0L414.0,649.4L414.0,648.9L414.1,648.4L414.2,648.1L414.3,647.8L414.4,647.6L414.3,647.4L414.0,647.4L413.6,647.5L413.1,647.6L412.6,647.9L412.0,648.1L411.5,648.4L411.0,648.7L410.4,649.2L409.8,649.6L409.2,650.1L408.6,650.5L408.0,650.9L407.4,651.2L406.8,651.5L406.2,651.8L405.6,652.1L405.1,652.3L404.6,652.4L404.2,652.4L403.8,652.3L403.5,652.1L403.3,651.9L403.2,651.6L403.1,651.4L403.2,651.1L403.4,650.8L403.7,650.4L404.0,650.1L404.3,649.7L404.6,649.4L404.9,649.1L405.2,648.8L405.6,648.6L405.9,648.4L406.1,648.1L406.1,647.9L405.9,647.7L405.6,647.5L405.2,647.4L404.8,647.2L404.2,647.1L403.6,646.9L402.9,646.8L402.2,646.7L401.3,646.5L400.5,646.4L399.6,646.2L398.7,645.9L397.7,645.6L396.7,645.3L395.7,644.9L394.6,644.5L393.6,644.0L392.7,643.5L391.9,642.9L391.1,642.3L390.3,641.6L389.6,641.0L388.9,640.3L388.3,639.5L387.7,638.8L387.1,637.9L386.6,637.1L386.1,636.3L385.7,635.4L385.3,634.6L385.0,633.7L384.8,632.9L384.6,632.0L384.5,631.2L384.4,630.4L384.3,629.6L384.3,629.0L384.2,628.3L384.1,627.7L384.1,627.1L384.2,626.6L384.3,626.2L384.6,625.8L384.9,625.4L385.3,625.1L385.8,624.9L386.3,624.7L386.8,624.5L387.4,624.4L388.0,624.4L388.6,624.4L389.3,624.5L390.0,624.6L390.8,624.7L391.5,624.9L392.3,625.1L393.2,625.3L394.0,625.6L394.9,625.9L395.7,626.2L396.5,626.5L397.3,626.9L398.2,627.3L399.0,627.8L399.8,628.2L400.6,628.7L401.5,629.1L402.4,629.7L403.3,630.2L404.1,630.8L404.9,631.2L405.6,631.6L406.1,631.9L406.6,632.2L407.1,632.5L407.4,632.6L407.8,632.7L408.0,632.6L408.3,632.4L408.5,632.0L408.6,631.5L408.8,630.9L408.9,630.3L409.0,629.6L409.2,629.0L409.3,628.3L409.5,627.5L409.7,626.7L409.8,626.0L410.0,625.2L410.2,624.4L410.5,623.6L410.8,622.8L411.0,622.1L411.3,621.4L411.5,620.7L411.7,620.2L411.9,619.7L412.0,619.3L412.2,618.9L412.3,618.6L412.5,618.3L412.6,618.0L412.7,617.8L412.9,617.7L413.0,617.5L413.2,617.4 Z" fill="none" stroke="#55f2b4" stroke-width="1.5" stroke-linejoin="round" stroke-linecap="round"/>
<path d="M711.3,612.3L711.9,612.3L712.3,612.4L712.8,612.5L713.1,612.7L713.5,613.0L713.8,613.3L714.1,613.7L714.4,614.2L714.6,614.7L714.8,615.4L715.0,616.0L715.1,616.8L715.2,617.6L715.3,618.6L715.4,619.6L715.5,620.6L715.5,621.7L715.5,622.7L715.4,623.7L715.4,624.7L715.2,625.7L715.1,626.7L715.0,627.7L714.8,628.6L714.7,629.5L714.5,630.4L714.4,631.2L714.2,632.0L714.0,632.8L713.8,633.6L713.6,634.3L713.3,635.0L713.0,635.7L712.7,636.3L712.4,636.9L712.1,637.5L712.0,638.1L711.9,638.6L711.8,639.1L711.7,639.6L711.5,640.1L711.3,640.5L711.1,640.9L710.8,641.2L710.5,641.6L710.1,641.9L709.8,642.2L709.4,642.5L708.9,642.8L708.4,643.0L707.9,643.3L707.3,643.5L706.8,643.8L706.4,644.0L706.0,644.1L705.7,644.2L705.3,644.3L705.1,644.3L704.9,644.4L704.9,644.4L705.1,644.5L705.4,644.4L705.9,644.3L706.4,644.3L706.9,644.4L707.4,644.6L707.9,645.1L708.4,645.6L708.9,646.3L709.4,647.0L709.9,647.7L710.4,648.4L710.7,649.1L711.1,649.8L711.4,650.5L711.7,651.3L711.9,652.0L712.1,652.8L712.3,653.7L712.4,654.6L712.4,655.6L712.4,656.5L712.4,657.4L712.3,658.3L712.3,659.0L712.1,659.8L712.0,660.4L711.8,661.1L711.6,661.7L711.3,662.2L711.1,662.7L710.7,663.1L710.4,663.4L710.0,663.8L709.7,664.2L709.4,664.7L709.2,665.3L709.0,666.0L708.8,666.7L708.7,667.5L708.5,668.3L708.4,669.1L708.2,670.0L708.1,671.0L708.0,672.0L707.8,673.0L707.6,674.1L707.4,675.1L707.1,676.1L706.8,677.1L706.5,678.2L706.2,679.2L705.8,680.1L705.4,681.0L705.0,681.8L704.6,682.6L704.2,683.4L703.8,684.0L703.4,684.6L703.0,685.0L702.5,685.1L702.1,685.2L701.7,685.1L701.3,684.9L700.9,684.7L700.5,684.5L700.1,684.2L699.8,683.9L699.4,683.6L699.1,683.1L698.8,682.6L698.5,682.0L698.2,681.2L698.0,680.3L697.7,679.4L697.5,678.3L697.2,677.2L697.0,676.1L696.8,674.9L696.7,673.6L696.5,672.2L696.3,670.9L696.2,669.5L696.0,668.2L695.9,666.8L695.7,665.4L695.5,664.0L695.4,662.7L695.2,661.4L695.0,660.3L694.9,659.2L694.7,658.3L694.6,657.4L694.4,656.7L694.3,656.0L694.1,655.3L693.8,654.8L693.5,654.3L693.2,653.9L692.9,653.6L692.7,653.2L692.6,652.8L692.6,652.4L692.7,652.0L692.8,651.6L693.0,651.2L693.3,650.8L693.6,650.4L693.9,650.0L694.3,649.5L694.7,649.1L695.2,648.7L695.6,648.3L696.0,647.9L696.5,647.5L696.9,647.2L697.3,646.8L697.7,646.5L698.1,646.2L698.5,645.9L698.9,645.7L699.3,645.5L699.8,645.3L700.1,645.2L700.4,645.1L700.5,644.9L700.4,644.9L700.2,644.8L699.9,644.8L699.5,644.8L699.0,644.7L698.5,644.6L698.0,644.5L697.4,644.3L696.7,644.2L696.0,643.9L695.3,643.7L694.6,643.5L693.8,643.2L693.0,642.9L692.1,642.6L691.3,642.2L690.4,641.9L689.6,641.5L688.8,641.0L687.9,640.5L687.0,640.0L686.2,639.5L685.4,639.0L684.7,638.5L684.0,638.1L683.4,637.8L682.8,637.4L682.3,637.1L682.0,636.8L681.7,636.5L681.6,636.3L681.6,636.0L681.8,635.7L682.0,635.5L682.3,635.2L682.7,635.1L683.2,634.9L683.8,634.8L684.6,634.8L685.3,634.7L686.0,634.6L686.7,634.6L687.2,634.5L687.8,634.5L688.3,634.5L688.8,634.5L689.2,634.3L689.6,634.1L689.9,633.7L690.1,633.1L690.3,632.5L690.5,631.8L690.5,631.2L690.6,630.6L690.6,630.1L690.5,629.7L690.3,629.2L690.1,628.8L690.1,628.5L690.1,628.1L690.3,627.9L690.6,627.7L690.9,627.5L691.3,627.3L691.7,627.2L692.1,627.2L692.5,627.2L692.9,627.3L693.3,627.5L693.8,627.6L694.2,627.7L694.6,627.7L694.9,627.5L695.1,627.2L695.4,626.9L695.6,626.6L695.8,626.1L696.0,625.7L696.3,625.1L696.5,624.5L696.7,623.8L697.0,623.1L697.2,622.4L697.5,621.7L697.8,621.1L698.1,620.5L698.4,619.8L698.8,619.3L699.1,618.7L699.5,618.3L699.9,617.9L700.3,617.6L700.7,617.4L701.1,617.2L701.5,617.0L702.0,616.8L702.4,616.5L702.8,616.3L703.2,616.0L703.6,615.8L704.0,615.5L704.4,615.3L704.9,615.1L705.3,614.8L705.8,614.6L706.3,614.3L706.8,614.1L707.4,613.8L708.0,613.5L708.7,613.2L709.4,612.9L710.1,612.6L710.8,612.4 Z" fill="none" stroke="#3592e8" stroke-width="1.5" stroke-linejoin="round" stroke-linecap="round"/>
<path d="M235.1,369.9L235.3,370.1L235.7,370.5L236.2,370.9L236.6,371.3L237.1,371.7L237.4,372.0L237.8,372.3L238.1,372.6L238.3,372.9L238.6,373.1L238.9,373.3L239.2,373.4L239.5,373.3L239.8,373.1L240.2,372.9L240.5,372.6L240.9,372.3L241.4,372.0L241.9,371.8L242.4,371.5L242.9,371.3L243.5,371.0L244.2,370.9L244.9,370.7L245.7,370.7L246.6,370.7L247.5,370.8L248.5,370.9L249.3,371.0L250.1,371.0L250.9,371.0L251.6,371.0L252.2,371.0L252.8,371.0L253.3,370.9L253.6,370.7L253.9,370.5L254.1,370.2L254.2,369.8L254.2,369.4L254.1,369.0L254.1,368.5L253.9,368.1L253.7,367.7L253.4,367.2L253.1,366.7L252.9,366.3L252.8,365.9L252.8,365.6L252.8,365.3L252.9,365.0L253.1,364.7L253.3,364.4L253.6,364.2L254.1,363.9L254.6,363.6L255.3,363.3L255.9,363.0L256.6,362.7L257.1,362.4L257.7,362.1L258.3,361.7L258.9,361.3L259.4,361.0L259.9,360.6L260.2,360.2L260.4,359.9L260.6,359.5L260.6,359.1L260.6,358.7L260.5,358.4L260.2,358.0L259.8,357.7L259.3,357.4L258.7,357.1L258.0,356.8L257.1,356.5L256.3,356.3L255.3,356.1L254.1,355.9L252.8,355.8L251.6,355.7L250.4,355.5L249.3,355.4L248.2,355.3L247.2,355.1L246.3,355.0L245.4,354.9L244.6,354.7L244.0,354.5L243.5,354.3L243.2,354.1L243.0,353.9L242.9,353.6L242.8,353.2L242.7,352.8L242.7,352.2L242.7,351.5L242.8,350.8L242.9,350.0L243.0,349.2L243.1,348.4L243.2,347.6L243.4,346.7L243.5,345.9L243.6,345.0L243.7,344.1L243.8,343.1L243.9,342.2L244.0,341.2L244.1,340.1L244.2,339.1L244.2,338.0L244.3,337.0L244.3,336.0L244.4,334.9L244.4,333.9L244.5,332.8L244.5,331.8L244.4,330.9L244.4,330.0L244.3,329.1L244.3,328.3L244.1,327.5L244.0,326.7L243.8,326.1L243.6,325.5L243.4,325.0L243.1,324.5L242.9,324.1L242.6,323.7L242.3,323.4L241.9,323.2L241.6,323.0L241.3,322.9L240.9,322.8L240.5,322.8L240.1,322.8L239.6,322.9L239.1,323.1L238.5,323.4L238.0,323.7L237.5,324.0L237.0,324.3L236.6,324.7L236.2,325.1L235.9,325.5L235.5,325.9L235.3,326.3L235.1,326.5" fill="none" stroke="#2020f2" stroke-width="1.5" stroke-linejoin="round" stroke-linecap="round"/>
<path d="M235.1,326.5L235.1,369.9" fill="none" stroke="#2020f2" stroke-width="1.5" stroke-linejoin="round" stroke-linecap="round"/>
<path d="M525.8,356.2L525.9,355.4L526.0,354.8L526.2,354.1L526.3,353.4L526.5,352.6L526.7,351.8L526.9,350.8L527.1,349.8L527.3,348.8L527.6,347.7L527.8,346.6L528.0,345.6L528.2,344.7L528.4,343.8L528.6,342.9L528.8,342.0L529.0,341.2L529.3,340.4L529.6,339.6L530.0,338.9L530.3,338.2L530.7,337.5L531.1,336.8L531.5,336.0L531.9,335.2L532.3,334.3L532.8,333.4L533.2,332.5L533.7,331.6L534.1,330.8L534.6,329.9L535.2,329.0L535.7,328.1L536.2,327.3L536.7,326.6L537.2,325.9L537.6,325.4L538.0,325.0L538.3,324.6L538.7,324.4L539.0,324.2L539.4,324.2L539.7,324.3L540.1,324.7L540.4,325.1L540.8,325.6L541.2,326.0L541.6,326.4L542.0,326.6L542.6,326.8L543.1,327.0L543.6,327.1L544.1,327.2L544.6,327.3L545.1,327.3L545.6,327.3L546.0,327.2L546.5,327.2L546.9,327.2L547.3,327.3L547.6,327.4L548.0,327.6L548.3,327.9L548.6,328.2L548.8,328.5L549.0,329.0L549.2,329.6L549.3,330.3L549.4,331.0L549.5,331.8L549.5,332.6L549.5,333.4L549.4,334.1L549.3,334.9L549.2,335.6L549.0,336.4L548.8,337.1L548.6,337.8L548.3,338.4L548.0,339.0L547.7,339.6L547.4,340.1L547.1,340.7L546.8,341.3L546.6,341.9L546.4,342.5L546.1,343.1L546.0,343.7L545.9,344.3L546.0,344.8L546.1,345.2L546.4,345.6L546.7,346.0L547.1,346.4L547.6,346.7L548.1,347.0L548.8,347.2L549.5,347.3L550.3,347.4L551.1,347.5L551.9,347.6L552.5,347.8L553.1,348.1L553.6,348.4L554.1,348.8L554.5,349.2L554.9,349.6L555.2,350.0L555.4,350.5L555.6,351.1L555.7,351.7L555.7,352.3L555.7,352.9L555.6,353.5L555.4,354.1L555.0,354.7L554.6,355.3L554.2,355.9L553.8,356.4L553.4,357.0L553.1,357.6L552.7,358.2L552.4,358.8L552.1,359.3L551.8,359.9L551.6,360.5L551.6,361.2L551.6,361.8L551.7,362.5L551.8,363.2L552.0,363.9L552.1,364.5L552.2,365.0L552.4,365.6L552.6,366.1L552.8,366.6L552.9,367.1L553.0,367.5L552.9,368.0L552.8,368.5L552.6,368.9L552.3,369.3L552.0,369.7L551.6,370.0L551.2,370.2L550.7,370.3L550.1,370.4L549.5,370.5L548.9,370.5L548.1,370.6L547.4,370.7L546.5,370.8L545.6,370.8L544.6,370.9L543.7,371.0L542.9,371.0L542.1,371.1L541.3,371.2L540.5,371.4L539.8,371.5L539.1,371.6L538.5,371.7L538.0,371.9L537.5,372.1L537.1,372.3L536.7,372.5L536.3,372.6L535.9,372.6L535.5,372.5L535.0,372.4L534.6,372.2L534.2,371.9L533.7,371.7L533.3,371.5L532.7,371.3L532.1,371.1L531.5,370.9L530.9,370.6L530.3,370.4L529.8,370.2L529.3,369.9L528.9,369.7L528.5,369.4L528.2,369.1L527.9,368.8L527.6,368.4L527.3,367.9L527.0,367.4L526.8,366.8L526.6,366.2L526.4,365.6L526.3,364.9L526.1,364.2L526.0,363.5L526.0,362.8L525.9,362.0L525.9,361.3L525.8,360.5L525.8,359.8L525.8,359.1L525.7,358.3L525.7,357.6L525.8,356.9 Z" fill="none" stroke="#a373f5" stroke-width="1.5" stroke-linejoin="round" stroke-linecap="round"/>
<path d="M814.4,341.3L814.5,340.2L814.6,339.2L814.7,338.2L814.8,337.2L815.0,336.2L815.3,335.1L815.5,334.1L815.9,333.1L816.2,332.0L816.6,331.0L817.0,330.0L817.4,329.0L817.9,328.1L818.4,327.1L818.9,326.2L819.4,325.3L820.0,324.5L820.5,323.8L821.1,323.1L821.7,322.5L822.3,322.0L822.9,321.5L823.4,321.1L824.0,320.7L824.6,320.4L825.1,320.2L825.6,320.0L826.1,319.9L826.6,319.8L827.1,319.8L827.5,319.8L828.0,319.9L828.5,320.1L828.9,320.2L829.3,320.4L829.7,320.7L830.0,321.0L830.4,321.3L830.7,321.7L830.9,322.1L831.2,322.5L831.5,322.9L831.7,323.3L831.9,323.7L832.1,324.1L832.2,324.6L832.5,325.0L832.8,325.5L833.1,326.0L833.6,326.6L834.0,327.1L834.5,327.7L835.0,328.4L835.4,329.0L835.8,329.7L836.2,330.4L836.5,331.1L836.9,331.9L837.2,332.6L837.6,333.4L837.9,334.1L838.2,334.8L838.5,335.6L838.8,336.3L839.1,337.0L839.3,337.8L839.6,338.5L839.8,339.2L840.1,340.0L840.3,340.7L840.5,341.4L840.6,342.1L840.8,342.9L840.9,343.6L841.0,344.4L841.0,345.1L841.1,345.8L841.1,346.5L841.1,347.2L841.0,347.8L840.9,348.3L840.8,348.9L840.7,349.5L840.6,350.0L840.6,350.6L840.6,351.2L840.6,351.8L840.6,352.4L840.8,353.0L841.1,353.5L841.5,354.0L842.1,354.5L842.8,354.9L843.5,355.3L844.3,355.7L845.0,356.2L845.9,356.6L846.8,357.0L847.7,357.5L848.6,357.9L849.5,358.3L850.3,358.8L851.0,359.2L851.6,359.6L852.2,360.0L852.7,360.5L853.1,360.9L853.3,361.4L853.5,362.0L853.6,362.6L853.5,363.2L853.4,363.8L853.2,364.4L852.9,364.9L852.5,365.4L852.1,365.8L851.5,366.1L850.9,366.5L850.2,366.8L849.4,367.1L848.5,367.4L847.6,367.6L846.6,367.9L845.5,368.1L844.4,368.3L843.3,368.4L842.1,368.5L840.9,368.6L839.7,368.7L838.5,368.7L837.3,368.8L836.3,368.9L835.2,369.0L834.2,369.1L833.3,369.2L832.4,369.4L831.6,369.5L831.0,369.7L830.6,369.9L830.3,370.1L830.1,370.4L830.0,370.6L830.1,371.0L830.1,371.5L830.3,372.1L830.6,372.8L831.0,373.7L831.5,374.5L831.9,375.4L832.3,376.3L832.7,377.2L833.1,378.0L833.5,379.0L833.9,379.8L834.2,380.7L834.5,381.5L834.8,382.4L835.1,383.2L835.4,383.9L835.6,384.7L835.7,385.3L835.8,385.9L835.8,386.5L835.8,386.9L835.6,387.3L835.5,387.7L835.2,387.9L835.0,388.1L834.6,388.2L834.3,388.2L833.9,388.2L833.4,388.1L832.9,387.9L832.3,387.7L831.7,387.4L830.9,387.1L830.1,386.7L829.2,386.2L828.4,385.7L827.5,385.1L826.6,384.3L825.7,383.5L824.8,382.6L823.9,381.6L823.1,380.7L822.3,379.8L821.5,378.9L820.8,378.0L820.1,377.2L819.5,376.3L818.9,375.4L818.3,374.5L817.8,373.7L817.3,372.8L816.8,371.9L816.4,371.0L816.0,370.2L815.7,369.3L815.4,368.4L815.1,367.6L814.9,366.8L814.7,365.9L814.5,365.0L814.4,364.0L814.3,363.0L814.3,361.9L814.3,360.8L814.3,359.6L814.4,358.3L814.4,357.0L814.4,355.7L814.4,354.2L814.4,352.7L814.4,351.1L814.4,349.7L814.4,348.3L814.4,347.0L814.3,345.8L814.3,344.6L814.3,343.5L814.3,342.4 Z" fill="none" stroke="#7c7cff" stroke-width="1.5" stroke-linejoin="round" stroke-linecap="round"/>
<path d="M235.3,644.5L235.3,643.6L235.3,642.5L235.4,641.5L235.5,640.4L235.6,639.4L235.7,638.4L235.8,637.5L236.0,636.5L236.2,635.6L236.5,634.7L236.7,633.9L237.0,633.2L237.3,632.4L237.7,631.7L238.1,631.0L238.5,630.5L238.8,630.0L239.2,629.6L239.5,629.4L239.9,629.3L240.2,629.3L240.5,629.5L240.8,629.7L240.9,630.1L241.1,630.6L241.1,631.4L241.1,632.3L241.0,633.2L241.0,634.1L240.9,634.9L240.9,635.6L240.8,636.4L240.7,637.1L240.6,637.8L240.5,638.3L240.5,638.8L240.6,639.2L240.8,639.5L241.1,639.6L241.3,639.8L241.4,639.9L241.4,640.2L241.2,640.4L240.8,640.7L240.4,641.1L239.9,641.4L239.5,641.7L239.2,641.9L239.0,642.1L238.8,642.2L238.6,642.4L238.5,642.5L238.6,642.6L238.8,642.8L239.1,643.0L239.6,643.2L240.3,643.4L240.9,643.6L241.6,643.8L242.3,644.1L242.8,644.4L243.4,644.7L243.9,645.1L244.5,645.4L245.1,645.8L245.8,646.3L246.5,646.8L247.3,647.3L248.2,647.9L249.1,648.5L250.0,649.1L251.0,649.8L252.1,650.5L253.3,651.2L254.5,651.9L255.7,652.6L256.9,653.4L258.0,654.2L259.1,655.0L260.2,655.9L261.3,656.8L262.3,657.7L263.3,658.6L264.2,659.4L264.9,660.2L265.6,661.0L266.2,661.7L266.8,662.5L267.3,663.2L267.7,663.8L268.0,664.4L268.3,665.0L268.5,665.6L268.6,666.1L268.6,666.5L268.5,666.9L268.3,667.1L268.0,667.3L267.6,667.4L267.1,667.4L266.5,667.4L265.9,667.3L265.2,667.2L264.4,666.9L263.5,666.7L262.6,666.3L261.7,666.0L260.6,665.5L259.6,665.1L258.4,664.5L257.2,664.0L256.0,663.3L254.8,662.7L253.6,662.0L252.6,661.4L251.5,660.7L250.5,659.9L249.5,659.2L248.5,658.4L247.5,657.7L246.6,656.9L245.6,656.1L244.7,655.4L243.8,654.6L243.0,653.9L242.3,653.3L241.6,652.7L241.0,652.2L240.5,651.8L240.0,651.3L239.6,651.0L239.2,650.7L238.8,650.4L238.5,650.1L238.3,649.8L238.1,649.7L238.0,649.7L237.9,649.8L237.9,650.1L238.0,650.6L238.2,651.2L238.4,651.8L238.6,652.6L238.8,653.3L238.9,654.1L239.1,655.0L239.3,656.0L239.5,657.0L239.6,657.9L239.6,658.5L239.6,659.1L239.5,659.5L239.4,659.8L239.2,660.0L239.0,660.2L238.8,660.3L238.5,660.3L238.2,660.3L237.9,660.2L237.6,660.1L237.3,659.8L237.0,659.4L236.8,658.9L236.5,658.3L236.3,657.5L236.0,656.7L235.9,655.9L235.7,655.0L235.6,654.2L235.5,653.4L235.4,652.5L235.3,651.6L235.3,650.7L235.3,649.8L235.2,648.9L235.2,648.1L235.2,647.2L235.2,646.4L235.2,645.5 Z" fill="none" stroke="#2fd42f" stroke-width="1.5" stroke-linejoin="round" stroke-linecap="round"/>
<path d="M527.4,641.2L527.6,640.3L527.7,639.4L527.9,638.3L528.1,637.2L528.3,636.1L528.6,635.0L528.9,634.0L529.2,633.0L529.5,632.0L529.9,630.9L530.3,629.9L530.8,628.9L531.3,627.9L531.8,626.8L532.4,625.8L533.0,624.7L533.6,623.7L534.3,622.8L534.9,621.8L535.7,620.9L536.4,620.0L537.1,619.1L537.9,618.3L538.6,617.5L539.4,616.8L540.1,616.1L540.9,615.5L541.6,614.9L542.3,614.4L543.0,614.0L543.7,613.7L544.2,613.4L544.8,613.3L545.4,613.2L545.9,613.1L546.5,613.1L547.1,613.2L547.8,613.3L548.4,613.5L549.0,613.8L549.6,614.1L550.0,614.4L550.4,614.8L550.7,615.3L550.9,615.7L551.1,616.3L551.2,616.9L551.3,617.5L551.4,618.3L551.5,619.1L551.5,620.1L551.5,621.0L551.4,621.9L551.3,622.8L551.2,623.6L551.0,624.3L550.8,625.1L550.5,625.8L550.3,626.5L550.0,627.1L549.8,627.8L549.5,628.4L549.2,629.0L548.9,629.5L548.6,630.1L548.3,630.6L548.0,631.2L547.7,631.8L547.4,632.4L547.1,633.0L546.8,633.6L546.5,634.2L546.2,634.8L545.9,635.4L545.6,636.0L545.4,636.6L545.2,637.2L545.2,637.7L545.4,638.0L545.6,638.4L546.0,638.6L546.4,638.9L546.9,639.1L547.4,639.4L547.9,639.7L548.6,640.0L549.3,640.2L549.9,640.5L550.5,640.8L550.9,641.2L551.2,641.5L551.3,641.9L551.4,642.3L551.4,642.7L551.4,643.2L551.3,643.8L551.3,644.4L551.1,645.1L551.0,645.9L550.8,646.7L550.6,647.5L550.5,648.2L550.3,648.8L550.2,649.4L550.1,650.0L550.0,650.6L549.8,651.1L549.6,651.7L549.3,652.2L549.0,652.6L548.6,653.1L548.2,653.5L547.8,653.9L547.4,654.3L547.0,654.7L546.6,655.1L546.2,655.4L545.9,655.8L545.5,656.1L545.2,656.5L544.9,656.8L544.6,657.0L544.4,657.3L544.2,657.6L544.0,657.9L543.9,658.2L543.9,658.7L543.9,659.1L544.0,659.6L544.1,660.2L544.2,660.7L544.3,661.3L544.4,661.9L544.6,662.5L544.7,663.2L544.8,663.8L544.8,664.5L544.8,665.2L544.6,666.0L544.3,666.9L543.9,667.7L543.5,668.6L543.0,669.4L542.6,670.1L542.1,670.7L541.6,671.2L541.1,671.7L540.6,672.1L540.0,672.4L539.5,672.7L539.0,672.8L538.5,672.9L538.0,672.8L537.5,672.7L537.0,672.5L536.4,672.2L535.8,671.9L535.2,671.5L534.5,671.1L533.8,670.5L533.1,669.9L532.5,669.2L531.9,668.3L531.4,667.4L530.8,666.4L530.3,665.3L529.9,664.2L529.4,663.0L529.1,661.9L528.7,660.8L528.4,659.6L528.1,658.4L527.9,657.2L527.7,656.0L527.5,654.9L527.4,653.6L527.4,652.4L527.3,651.2L527.3,650.1L527.3,649.0L527.2,648.0L527.2,647.1L527.2,646.1L527.2,645.3L527.2,644.5L527.3,643.8L527.3,643.2L527.3,642.8L527.3,642.5L527.3,642.2L527.3,641.8 Z" fill="none" stroke="#55f2b4" stroke-width="1.5" stroke-linejoin="round" stroke-linecap="round"/>
<path d="M814.8,636.7L815.0,635.7L815.2,634.9L815.5,634.2L815.9,633.6L816.2,633.0L816.6,632.3L816.9,631.4L817.4,630.6L817.8,629.7L818.3,628.8L818.7,627.9L819.2,627.0L819.7,626.2L820.2,625.3L820.7,624.5L821.2,623.7L821.7,622.9L822.3,622.2L822.8,621.6L823.3,621.0L823.8,620.5L824.3,620.0L824.8,619.6L825.3,619.1L825.8,618.7L826.3,618.3L826.7,617.9L827.2,617.6L827.6,617.3L828.0,617.2L828.2,617.2L828.5,617.3L828.7,617.5L828.8,617.8L829.0,618.0L829.3,618.3L829.5,618.5L829.8,618.8L830.0,619.2L830.3,619.5L830.6,619.8L831.0,620.0L831.5,620.2L831.9,620.3L832.5,620.4L833.0,620.5L833.6,620.5L834.1,620.5L834.6,620.4L835.1,620.2L835.6,620.1L836.1,619.9L836.6,619.7L837.1,619.6L837.7,619.5L838.2,619.4L838.8,619.3L839.3,619.2L839.8,619.2L840.2,619.3L840.6,619.5L840.9,619.7L841.1,620.1L841.3,620.4L841.5,620.9L841.5,621.3L841.5,621.9L841.5,622.5L841.3,623.2L841.2,623.9L840.9,624.6L840.6,625.3L840.3,625.9L839.9,626.5L839.5,627.0L839.0,627.6L838.5,628.2L838.0,628.8L837.5,629.4L836.9,630.1L836.3,630.8L835.7,631.4L835.1,632.1L834.5,632.7L833.9,633.3L833.3,633.8L832.7,634.3L832.2,634.8L831.6,635.3L831.0,635.8L830.5,636.3L829.9,636.8L829.3,637.4L828.8,637.9L828.3,638.4L828.0,638.8L827.6,639.3L827.4,639.7L827.2,640.1L827.1,640.4L827.0,640.8L827.1,641.0L827.3,641.2L827.6,641.4L828.1,641.5L828.5,641.6L828.9,641.7L829.3,641.9L829.5,642.1L829.8,642.4L829.9,642.7L830.1,643.0L830.2,643.4L830.1,643.7L830.0,643.9L829.7,644.2L829.3,644.5L829.0,644.8L828.6,645.1L828.4,645.4L828.2,645.8L828.1,646.2L828.0,646.7L827.9,647.1L827.9,647.6L828.0,648.0L828.1,648.5L828.2,648.9L828.4,649.4L828.7,649.8L828.9,650.2L829.3,650.7L829.6,651.1L830.1,651.5L830.6,652.0L831.0,652.4L831.5,652.9L831.9,653.3L832.2,653.7L832.6,654.2L832.9,654.6L833.2,655.0L833.4,655.5L833.6,655.9L833.9,656.4L834.1,657.0L834.3,657.6L834.5,658.1L834.6,658.6L834.5,659.0L834.3,659.2L834.0,659.4L833.7,659.5L833.2,659.5L832.8,659.5L832.3,659.4L831.9,659.3L831.4,659.1L830.9,658.9L830.4,658.6L829.8,658.4L829.3,658.1L828.7,657.8L828.1,657.6L827.5,657.3L826.9,657.0L826.3,656.7L825.8,656.4L825.2,656.1L824.7,655.7L824.1,655.4L823.6,655.1L823.1,654.8L822.7,654.6L822.3,654.4L821.9,654.1L821.6,653.9L821.3,653.7L821.1,653.6L820.9,653.7L820.9,654.0L821.0,654.5L821.1,655.0L821.3,655.7L821.4,656.3L821.4,656.8L821.3,657.3L821.2,657.8L821.1,658.4L820.9,658.8L820.7,659.2L820.5,659.4L820.2,659.5L819.9,659.5L819.5,659.3L819.1,659.1L818.7,658.8L818.3,658.5L817.9,658.2L817.6,657.8L817.2,657.3L816.8,656.8L816.4,656.3L816.1,655.9L815.8,655.7L815.6,655.5L815.3,655.4L815.1,655.2L814.9,654.9L814.8,654.2L814.7,653.1L814.7,651.8L814.7,650.2L814.8,648.6L814.8,647.0L814.8,645.4L814.8,643.9L814.8,642.3L814.7,640.8L814.7,639.2L814.7,637.9 Z" fill="none" stroke="#3592e8" stroke-width="1.5" stroke-linejoin="round" stroke-linecap="round"/>
<path d="M186.4,478.7L185.5,478.6L184.5,478.6L183.5,478.5L182.6,478.4L181.5,478.3L180.4,478.3L179.1,478.2L177.7,478.2L176.3,478.1L174.8,478.1L173.5,478.0L172.3,478.0L171.3,477.8L170.3,477.7L169.4,477.5L168.6,477.3L167.9,477.2L167.3,476.9L166.6,476.7L166.1,476.5L165.6,476.2L165.2,476.0L164.9,475.7L164.7,475.4L164.7,475.1L164.7,474.8L164.9,474.5L165.1,474.2L165.4,473.9L165.7,473.6L166.2,473.4L166.8,473.3L167.4,473.2L168.1,473.1L168.7,473.0L169.3,472.9L169.8,472.8L170.2,472.7L170.7,472.5L171.1,472.4L171.4,472.2L171.8,471.9L172.1,471.6L172.4,471.2L172.6,470.8L172.8,470.3L173.1,469.8L173.3,469.4L173.6,468.9L173.8,468.4L174.1,467.9L174.4,467.4L174.6,466.9L174.8,466.3L175.0,465.8L175.2,465.1L175.3,464.5L175.4,463.9L175.6,463.3L175.8,462.8L176.1,462.4L176.4,462.2L176.8,462.0L177.1,461.8L177.5,461.6L177.9,461.3L178.2,461.0L178.5,460.7L178.8,460.3L179.2,460.0L179.5,459.6L179.9,459.3L180.3,458.9L180.7,458.5L181.1,458.2L181.6,457.8L182.0,457.5L182.4,457.3L182.8,457.1L183.1,456.9L183.4,456.8L183.8,456.7L184.1,456.7L184.4,456.7L184.8,456.9L185.1,457.0L185.4,457.3L185.7,457.6L186.1,457.9L186.4,458.3L186.8,458.7L187.2,459.2L187.7,459.7L188.1,460.3L188.5,460.8L189.0,461.3L189.4,461.8L189.8,462.2L190.2,462.7L190.6,463.1L191.0,463.5L191.5,463.8L192.0,464.0L192.4,464.2L192.9,464.3L193.4,464.4L194.0,464.4L194.5,464.3L195.1,464.2L195.7,464.0L196.4,463.7L197.0,463.4L197.8,463.1L198.6,462.8L199.5,462.5L200.4,462.2L201.5,461.8L202.5,461.4L203.6,461.1L204.6,460.8L205.6,460.5L206.6,460.2L207.7,459.9L208.7,459.7L209.7,459.5L210.7,459.3L211.7,459.1L212.7,459.0L213.8,458.9L214.8,458.8L215.8,458.8L216.7,458.8L217.7,458.8L218.6,458.9L219.5,459.1L220.4,459.3L221.2,459.5L221.8,459.8L222.3,460.1L222.8,460.5L223.1,460.9L223.4,461.3L223.5,461.8L223.6,462.3L223.6,462.8L223.5,463.4L223.3,464.0L223.0,464.6L222.7,465.2L222.3,465.8L221.9,466.4L221.4,467.0L220.8,467.6L220.2,468.2L219.5,468.8L218.8,469.4L217.9,470.0L217.0,470.6L216.0,471.2L214.9,471.8L213.8,472.3L212.7,472.9L211.6,473.5L210.4,474.0L209.2,474.5L208.0,475.0L206.8,475.5L205.6,475.9L204.4,476.3L203.2,476.7L202.0,477.1L200.8,477.4L199.7,477.7L198.6,478.0L197.5,478.2L196.5,478.3L195.5,478.4L194.5,478.5L193.5,478.6L192.5,478.7L191.5,478.7L190.5,478.7L189.5,478.7L188.5,478.7L187.5,478.7 Z" fill="none" stroke="#2020f2" stroke-width="1.5" stroke-linejoin="round" stroke-linecap="round"/>
<path d="M452.7,477.0L452.3,476.7L451.7,476.3L451.1,475.9L450.4,475.4L449.7,474.9L449.2,474.4L448.7,474.0L448.3,473.5L447.9,473.0L447.5,472.5L447.3,472.0L447.1,471.4L447.1,470.8L447.2,470.1L447.3,469.4L447.6,468.7L447.8,468.0L448.2,467.4L448.5,466.7L449.0,465.9L449.5,465.2L450.0,464.5L450.6,463.9L451.2,463.3L451.8,462.9L452.5,462.6L453.1,462.3L453.8,462.1L454.5,461.9L455.2,461.8L455.9,461.8L456.6,461.8L457.2,461.9L457.9,462.0L458.6,462.1L459.3,462.1L460.0,462.0L460.7,462.0L461.4,461.8L462.1,461.7L462.7,461.5L463.3,461.3L463.8,461.1L464.1,460.9L464.4,460.6L464.7,460.3L465.0,460.0L465.3,459.8L465.7,459.5L466.0,459.2L466.3,458.9L466.7,458.6L467.0,458.4L467.3,458.3L467.7,458.2L468.0,458.3L468.3,458.4L468.7,458.5L469.0,458.7L469.4,458.8L469.8,458.9L470.2,459.0L470.6,459.2L471.0,459.3L471.5,459.3L471.9,459.3L472.3,459.2L472.7,459.0L473.1,458.7L473.5,458.5L473.9,458.1L474.4,457.8L475.0,457.4L475.6,456.9L476.3,456.3L477.1,455.8L477.8,455.3L478.5,454.7L479.1,454.2L479.8,453.7L480.5,453.1L481.2,452.6L481.9,452.1L482.5,451.7L483.0,451.4L483.5,451.1L483.9,450.8L484.4,450.6L484.9,450.4L485.5,450.2L486.2,450.0L487.0,449.9L487.9,449.8L488.7,449.6L489.7,449.5L490.6,449.4L491.6,449.2L492.6,449.0L493.7,448.7L494.8,448.5L495.8,448.4L496.6,448.4L497.3,448.4L497.8,448.6L498.2,448.8L498.6,449.1L499.1,449.4L499.7,449.7L500.4,450.0L501.2,450.3L502.1,450.7L503.0,451.1L503.9,451.4L504.7,451.7L505.5,451.9L506.2,452.0L506.9,452.1L507.5,452.3L508.2,452.4L508.8,452.7L509.4,453.1L509.9,453.6L510.5,454.1L511.0,454.6L511.4,455.2L511.8,455.7L512.0,456.3L512.2,456.9L512.3,457.5L512.4,458.0L512.4,458.7L512.3,459.3L512.2,459.9L512.0,460.6L511.7,461.3L511.4,462.0L511.1,462.6L510.8,463.3L510.4,464.0L510.0,464.7L509.6,465.3L509.2,466.0L508.7,466.7L508.3,467.4L507.7,468.0L507.2,468.7L506.6,469.4L506.0,470.1L505.3,470.7L504.7,471.4L504.1,472.1L503.4,472.8L502.7,473.6L502.0,474.3L501.3,474.9L500.7,475.4L500.1,475.9L499.5,476.3L498.9,476.6L498.4,476.9L498.0,477.1L497.6,477.3" fill="none" stroke="#a373f5" stroke-width="1.5" stroke-linejoin="round" stroke-linecap="round"/>
<path d="M764.4,477.0L762.9,476.8L761.5,476.6L760.2,476.3L758.9,476.0L757.7,475.7L756.4,475.4L755.0,475.2L753.7,474.9L752.3,474.6L751.0,474.2L749.6,473.9L748.3,473.4L746.9,472.9L745.5,472.4L744.2,471.8L742.8,471.2L741.5,470.6L740.2,469.9L738.9,469.2L737.6,468.4L736.3,467.6L735.1,466.9L734.0,466.1L733.1,465.3L732.4,464.6L731.8,463.9L731.3,463.2L731.0,462.5L730.7,461.9L730.6,461.3L730.6,460.8L730.7,460.4L730.9,460.0L731.2,459.7L731.6,459.5L732.1,459.3L732.7,459.1L733.5,459.1L734.4,459.1L735.3,459.1L736.2,459.2L737.2,459.3L738.1,459.5L739.1,459.7L740.1,460.0L741.2,460.3L742.2,460.6L743.2,460.8L744.3,461.0L745.3,461.2L746.4,461.5L747.4,461.6L748.4,461.8L749.3,461.8L750.0,461.8L750.7,461.7L751.4,461.6L751.9,461.4L752.4,461.1L752.8,460.8L753.1,460.4L753.3,459.9L753.4,459.3L753.5,458.7L753.6,458.0L753.8,457.3L754.1,456.4L754.4,455.4L754.7,454.3L755.1,453.2L755.4,452.1L755.8,451.2L756.3,450.4L756.8,449.6L757.3,449.0L757.8,448.3L758.4,447.7L758.9,447.2L759.4,446.6L759.9,446.1L760.4,445.6L760.9,445.2L761.4,444.9L761.9,444.6L762.5,444.5L763.1,444.6L763.7,444.7L764.3,444.8L764.9,445.0L765.4,445.1L766.0,445.3L766.5,445.5L767.0,445.8L767.5,446.0L768.0,446.1L768.5,446.2L769.0,446.1L769.4,445.9L769.9,445.6L770.4,445.3L770.9,444.9L771.5,444.6L772.1,444.3L772.8,444.0L773.5,443.6L774.2,443.3L774.9,442.9L775.5,442.6L776.2,442.3L776.9,442.0L777.6,441.6L778.3,441.3L779.0,441.1L779.6,440.9L780.2,440.8L780.7,440.7L781.3,440.7L781.8,440.8L782.2,440.9L782.6,441.1L783.0,441.4L783.3,441.8L783.5,442.2L783.8,442.7L784.0,443.4L784.1,444.1L784.3,445.1L784.4,446.2L784.5,447.5L784.5,448.8L784.5,450.0L784.4,451.2L784.3,452.3L784.1,453.4L783.9,454.4L783.6,455.4L783.4,456.4L783.1,457.3L782.9,458.1L782.6,458.8L782.3,459.5L782.0,460.1L781.8,460.7L781.6,461.3L781.5,461.9L781.4,462.4L781.4,463.0L781.4,463.5L781.5,463.9L781.6,464.3L781.8,464.7L782.2,464.9L782.6,465.1L783.0,465.2L783.4,465.5L783.6,465.8L783.8,466.3L784.0,466.9L784.1,467.5L784.2,468.1L784.2,468.7L784.1,469.4L784.0,470.0L783.8,470.7L783.6,471.5L783.3,472.2L783.0,472.8L782.6,473.4L782.3,474.0L781.9,474.4L781.5,474.9L781.1,475.3L780.6,475.6L780.1,475.9L779.5,476.2L779.0,476.4L778.4,476.6L777.6,476.8L776.7,476.9L775.5,477.0L774.0,477.0L772.2,477.1L770.2,477.1L768.2,477.1L766.2,477.1 Z" fill="none" stroke="#7c7cff" stroke-width="1.5" stroke-linejoin="round" stroke-linecap="round"/>
<path d="M187.5,761.0L187.1,760.8L186.7,760.6L186.4,760.3L186.0,760.1L185.7,759.7L185.4,759.4L185.2,759.2L185.0,758.9L184.8,758.7L184.6,758.3L184.5,757.9L184.4,757.4L184.4,756.7L184.5,755.9L184.6,755.0L184.7,754.1L184.8,753.2L184.9,752.4L185.1,751.6L185.2,750.9L185.3,750.2L185.5,749.5L185.7,748.9L185.9,748.3L186.2,747.9L186.5,747.5L186.9,747.1L187.2,746.9L187.6,746.7L188.0,746.5L188.3,746.5L188.7,746.5L189.0,746.6L189.3,746.8L189.7,747.0L190.0,747.1L190.3,747.3L190.5,747.6L190.7,747.8L191.0,748.1L191.2,748.3L191.5,748.3L191.8,748.3L192.1,748.2L192.4,748.0L192.7,747.8L193.1,747.5L193.5,747.1L194.0,746.7L194.4,746.2L194.9,745.6L195.4,745.0L196.0,744.4L196.5,743.8L197.1,743.2L197.8,742.7L198.4,742.1L199.1,741.5L199.8,740.9L200.6,740.3L201.4,739.5L202.2,738.8L203.0,738.0L203.9,737.2L204.8,736.4L205.6,735.7L206.5,735.0L207.4,734.4L208.3,733.7L209.1,733.2L209.9,732.6L210.7,732.2L211.4,731.8L212.1,731.4L212.7,731.1L213.3,730.8L213.8,730.7L214.2,730.7L214.6,730.8L214.8,731.0L215.0,731.3L215.1,731.7L215.2,732.2L215.2,732.7L215.2,733.3L215.1,733.9L215.0,734.7L214.8,735.5L214.6,736.3L214.2,737.2L213.8,738.1L213.3,739.1L212.7,740.2L212.1,741.2L211.4,742.3L210.7,743.3L209.9,744.3L209.2,745.3L208.3,746.4L207.5,747.4L206.6,748.4L205.6,749.3L204.7,750.3L203.7,751.1L202.7,752.0L201.6,752.8L200.6,753.6L199.6,754.4L198.5,755.1L197.5,755.9L196.4,756.6L195.4,757.3L194.4,757.9L193.5,758.4L192.7,758.9L191.9,759.4L191.2,759.8L190.6,760.1L190.0,760.4L189.5,760.7L189.0,760.8L188.7,761.0L188.3,761.0L188.1,761.1L187.8,761.0 Z" fill="none" stroke="#2fd42f" stroke-width="1.5" stroke-linejoin="round" stroke-linecap="round"/>
<path d="M173.3,760.5L173.5,760.3L173.7,760.2L174.0,760.0L174.4,759.8L174.8,759.6L175.3,759.4L176.0,759.4L176.8,759.3L177.8,759.3L178.7,759.2L179.6,759.2L180.4,759.2L181.1,759.3L181.7,759.3L182.3,759.4L182.9,759.4L183.4,759.5L183.9,759.6L184.4,759.8L184.9,760.0L185.4,760.2L185.8,760.4L186.2,760.5L186.4,760.7" fill="none" stroke="#2fd42f" stroke-width="1.5" stroke-linejoin="round" stroke-linecap="round"/>
<path d="M463.3,761.3L462.9,760.9L462.7,760.5L462.7,760.0L462.8,759.5L462.8,758.9L462.8,758.4L462.6,757.9L462.5,757.5L462.3,757.0L462.1,756.5L461.9,756.0L461.8,755.4L461.6,754.8L461.4,754.1L461.3,753.3L461.1,752.6L461.0,752.0L461.1,751.4L461.2,750.8L461.4,750.3L461.7,749.9L462.0,749.5L462.4,749.1L462.8,748.8L463.2,748.6L463.8,748.5L464.3,748.4L464.9,748.2L465.4,748.1L465.8,747.8L466.1,747.4L466.3,747.0L466.4,746.5L466.6,745.9L466.7,745.4L466.8,744.8L467.0,744.1L467.1,743.4L467.3,742.7L467.4,741.9L467.6,741.3L467.8,740.7L468.1,740.3L468.4,740.0L468.7,739.8L469.1,739.6L469.5,739.5L469.9,739.4L470.3,739.4L470.8,739.5L471.3,739.6L471.9,739.8L472.4,740.0L472.9,740.2L473.3,740.6L473.8,741.0L474.2,741.4L474.6,741.9L475.0,742.4L475.4,742.8L475.8,743.2L476.1,743.6L476.4,744.0L476.7,744.3L477.1,744.5L477.4,744.5L477.8,744.3L478.2,744.0L478.6,743.5L479.0,743.0L479.5,742.4L480.0,741.8L480.5,741.1L481.0,740.4L481.6,739.6L482.2,738.8L482.9,738.0L483.5,737.2L484.1,736.5L484.8,735.7L485.5,735.0L486.2,734.3L486.9,733.7L487.5,733.2L488.2,732.7L488.8,732.3L489.4,731.9L489.9,731.6L490.5,731.4L491.1,731.4L491.6,731.4L492.2,731.5L492.7,731.7L493.2,731.9L493.7,732.3L494.1,732.7L494.4,733.1L494.7,733.6L495.0,734.1L495.2,734.8L495.3,735.4L495.4,736.2L495.5,737.1L495.5,738.1L495.4,739.1L495.4,740.2L495.3,741.3L495.1,742.3L494.9,743.2L494.7,744.0L494.4,744.9L494.1,745.7L493.9,746.5L493.6,747.3L493.3,748.2L492.9,749.1L492.5,750.0L492.1,750.8L492.0,751.4L492.1,751.9L492.4,752.0L493.0,752.0L493.8,751.7L494.6,751.4L495.6,751.1L496.6,750.8L497.8,750.6L499.1,750.4L500.4,750.1L501.9,749.8L503.3,749.6L504.7,749.3L506.1,749.1L507.5,749.0L508.9,748.8L510.3,748.7L511.6,748.6L512.8,748.5L513.9,748.5L515.0,748.5L516.0,748.5L516.9,748.5L517.7,748.6L518.3,748.8L518.8,749.1L519.1,749.5L519.4,749.9L519.4,750.4L519.4,750.9L519.4,751.4L519.2,751.8L518.9,752.3L518.5,752.8L518.0,753.4L517.4,753.9L516.8,754.4L516.1,754.9L515.3,755.4L514.5,755.9L513.6,756.4L512.6,756.9L511.8,757.4L510.9,757.9L510.1,758.3L509.3,758.8L508.5,759.2L507.6,759.6L506.7,759.9L505.8,760.2L504.9,760.5L503.9,760.7L502.9,760.9L501.8,761.1L500.7,761.3L499.5,761.4L498.3,761.5L497.1,761.5L495.7,761.6L494.2,761.6L492.6,761.7L490.7,761.7L488.5,761.7L486.1,761.7L483.8,761.7L481.5,761.7L479.5,761.7L477.5,761.6L475.7,761.6L474.0,761.6L472.3,761.5L470.8,761.5L469.4,761.5L468.0,761.5L466.8,761.5L465.7,761.5L464.8,761.5L463.9,761.4 Z" fill="none" stroke="#55f2b4" stroke-width="1.5" stroke-linejoin="round" stroke-linecap="round"/>
<path d="M767.0,760.7L766.0,760.6L764.9,760.5L763.6,760.4L762.3,760.3L760.9,760.1L759.4,759.9L757.8,759.8L756.2,759.5L754.5,759.3L752.7,759.0L751.0,758.7L749.3,758.4L747.6,758.1L745.8,757.7L744.1,757.4L742.4,757.0L740.7,756.6L739.2,756.2L737.7,755.8L736.2,755.4L734.8,755.0L733.4,754.6L732.2,754.3L731.1,753.9L730.1,753.5L729.3,753.2L728.5,752.8L727.9,752.5L727.4,752.2L727.1,751.9L726.8,751.5L726.7,751.2L726.8,750.9L726.9,750.6L727.2,750.4L727.6,750.2L728.1,750.0L728.7,749.9L729.4,749.9L730.3,749.8L731.2,749.8L732.1,749.8L733.2,749.9L734.3,749.9L735.6,750.0L736.8,750.1L738.0,750.2L739.2,750.4L740.3,750.5L741.4,750.7L742.5,750.9L743.5,751.1L744.4,751.3L745.2,751.4L745.9,751.4L746.5,751.4L746.9,751.3L747.3,751.2L747.6,751.1L747.8,750.9L747.9,750.6L747.9,750.2L747.9,749.8L747.7,749.3L747.5,748.8L747.3,748.3L746.9,747.8L746.4,747.2L745.9,746.6L745.3,746.0L744.7,745.4L744.2,744.8L743.8,744.2L743.3,743.7L742.9,743.1L742.5,742.6L742.2,742.1L742.0,741.8L741.9,741.5L741.9,741.2L742.0,741.0L742.2,740.9L742.4,740.8L742.7,740.8L743.1,740.8L743.6,740.9L744.2,741.0L744.9,741.2L745.5,741.5L746.3,741.8L747.0,742.1L747.8,742.5L748.7,742.9L749.6,743.4L750.4,743.8L751.3,744.3L752.2,744.8L753.0,745.3L753.9,745.8L754.7,746.3L755.6,746.8L756.4,747.3L757.1,747.9L757.9,748.5L758.6,749.1L759.3,749.6L759.9,750.1L760.4,750.4L760.8,750.5L761.1,750.5L761.3,750.4L761.5,750.3L761.7,750.1L761.9,749.8L762.1,749.5L762.2,749.1L762.4,748.6L762.5,748.1L762.7,747.7L762.9,747.3L763.3,747.1L763.7,746.9L764.1,746.7L764.6,746.6L765.0,746.5L765.4,746.3L765.8,746.1L766.1,745.9L766.4,745.8L766.7,745.6L767.1,745.4L767.5,745.3L767.9,745.2L768.5,745.1L769.0,745.1L769.6,745.0L770.1,745.0L770.5,745.1L770.8,745.2L771.1,745.3L771.4,745.5L771.6,745.7L771.8,746.0L772.0,746.3L772.1,746.8L772.2,747.5L772.2,748.3L772.3,749.0L772.4,749.5L772.5,749.8L772.7,749.9L773.0,749.8L773.3,749.5L773.7,749.2L774.1,748.8L774.5,748.3L775.1,747.9L775.7,747.3L776.4,746.7L777.1,746.1L777.8,745.4L778.6,744.8L779.4,744.2L780.2,743.6L781.1,742.9L782.0,742.3L782.8,741.8L783.6,741.3L784.4,740.8L785.1,740.5L785.8,740.1L786.5,739.8L787.1,739.6L787.7,739.4L788.2,739.3L788.7,739.3L789.2,739.3L789.6,739.4L789.9,739.5L790.2,739.7L790.4,740.1L790.5,740.6L790.5,741.2L790.6,741.8L790.6,742.3L790.7,742.8L790.8,743.1L791.0,743.4L791.1,743.7L791.3,743.9L791.5,744.1L791.7,744.3L791.9,744.5L792.2,744.6L792.5,744.7L792.8,744.8L793.0,745.0L793.2,745.3L793.4,745.7L793.6,746.2L793.7,746.7L793.8,747.3L793.8,747.8L793.7,748.3L793.6,748.8L793.4,749.2L793.1,749.6L792.7,750.0L792.2,750.4L791.7,750.9L791.1,751.3L790.3,751.8L789.4,752.3L788.5,752.9L787.6,753.4L786.7,753.9L785.7,754.4L784.7,754.9L783.7,755.4L782.7,755.9L781.6,756.4L780.6,756.9L779.6,757.4L778.5,757.8L777.5,758.3L776.5,758.7L775.5,759.1L774.5,759.4L773.6,759.7L772.7,760.0L771.8,760.2L770.9,760.4L770.2,760.5L769.5,760.7L769.0,760.7L768.6,760.8L768.4,760.8L768.1,760.8L767.6,760.7 Z" fill="none" stroke="#3592e8" stroke-width="1.5" stroke-linejoin="round" stroke-linecap="round"/>
<circle cx="105.5" cy="122.4" r="62.3" fill="none" stroke="#000" stroke-width="1.8"/>
<path d="M229.80,31.80 A45,45 0 0 1 229.80,121.80 Z" fill="none" stroke="#000" stroke-width="1.8" stroke-linejoin="miter"/>
<path d="M196.50,202.20 A56.8,56.8 0 0 1 310.10,202.20 Z" fill="none" stroke="#000" stroke-width="1.8" stroke-linejoin="miter"/>
<circle cx="409.5" cy="117.3" r="57" fill="none" stroke="#000" stroke-width="1.8"/>
<path d="M516.80,25.90 A45,45 0 0 1 516.80,115.90 Z" fill="none" stroke="#000" stroke-width="1.8" stroke-linejoin="miter"/>
<path d="M483.60,199.30 A57.6,57.6 0 0 1 598.80,199.30 Z" fill="none" stroke="#333" stroke-width="1.0" stroke-linejoin="miter"/>
<circle cx="697.5" cy="116.8" r="57" fill="none" stroke="#000" stroke-width="1.8"/>
<path d="M811.90,23.80 A46,46 0 0 1 811.90,115.80 Z" fill="none" stroke="#000" stroke-width="1.8" stroke-linejoin="miter"/>
<path d="M772.60,199.50 A58.7,58.7 0 0 1 890.00,199.50 Z" fill="none" stroke="#000" stroke-width="1.8" stroke-linejoin="miter"/>
<circle cx="123.8" cy="362.1" r="43.2" fill="none" stroke="#000" stroke-width="1.8"/>
<path d="M235.00,319.10 A43.2,43.2 0 0 1 235.00,405.50 Z" fill="none" stroke="#000" stroke-width="1.8" stroke-linejoin="miter"/>
<path d="M144.40,478.60 A43.2,43.2 0 0 1 230.80,478.60 Z" fill="none" stroke="#000" stroke-width="1.8" stroke-linejoin="miter"/>
<circle cx="414.3" cy="360.4" r="43.2" fill="none" stroke="#000" stroke-width="1.8"/>
<path d="M525.50,317.40 A43.2,43.2 0 0 1 525.50,403.80 Z" fill="none" stroke="#000" stroke-width="1.8" stroke-linejoin="miter"/>
<path d="M435.20,477.50 A43.2,43.2 0 0 1 521.60,477.50 Z" fill="none" stroke="#000" stroke-width="1.8" stroke-linejoin="miter"/>
<circle cx="703.0" cy="360.0" r="43.2" fill="none" stroke="#000" stroke-width="1.8"/>
<path d="M814.20,317.00 A43.2,43.2 0 0 1 814.20,403.40 Z" fill="none" stroke="#000" stroke-width="1.8" stroke-linejoin="miter"/>
<path d="M723.30,477.30 A43.2,43.2 0 0 1 809.70,477.30 Z" fill="none" stroke="#000" stroke-width="1.8" stroke-linejoin="miter"/>
<circle cx="123.5" cy="644.1" r="43.2" fill="none" stroke="#000" stroke-width="1.8"/>
<path d="M234.70,601.10 A43.2,43.2 0 0 1 234.70,687.50 Z" fill="none" stroke="#000" stroke-width="1.8" stroke-linejoin="miter"/>
<path d="M144.30,761.30 A43.2,43.2 0 0 1 230.70,761.30 Z" fill="none" stroke="#000" stroke-width="1.8" stroke-linejoin="miter"/>
<circle cx="416.0" cy="645.3" r="43.2" fill="none" stroke="#000" stroke-width="1.8"/>
<path d="M527.20,602.30 A43.2,43.2 0 0 1 527.20,688.70 Z" fill="none" stroke="#000" stroke-width="1.8" stroke-linejoin="miter"/>
<path d="M436.40,762.40 A43.2,43.2 0 0 1 522.80,762.40 Z" fill="none" stroke="#000" stroke-width="1.8" stroke-linejoin="miter"/>
<circle cx="703.4" cy="644.4" r="43.2" fill="none" stroke="#000" stroke-width="1.8"/>
<path d="M814.60,601.40 A43.2,43.2 0 0 1 814.60,687.80 Z" fill="none" stroke="#000" stroke-width="1.8" stroke-linejoin="miter"/>
<path d="M724.30,761.30 A43.2,43.2 0 0 1 810.70,761.30 Z" fill="none" stroke="#000" stroke-width="1.8" stroke-linejoin="miter"/>
</svg></body></html>
